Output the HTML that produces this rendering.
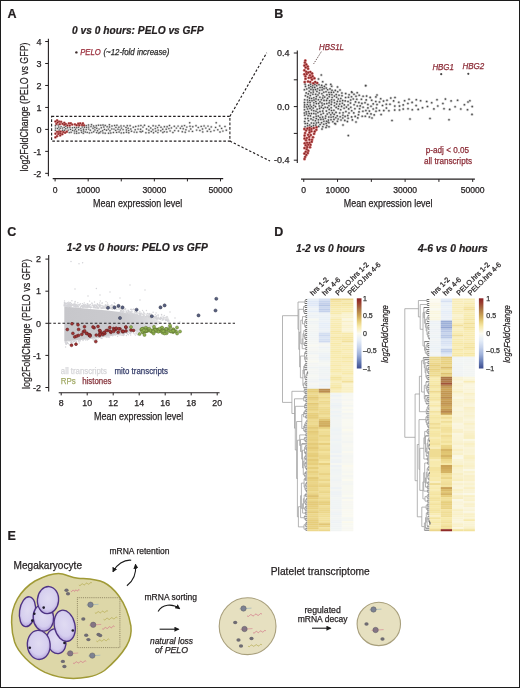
<!DOCTYPE html>
<html><head><meta charset="utf-8"><style>
html,body{margin:0;padding:0;background:#fff;}
svg{display:block;font-family:"Liberation Sans",sans-serif;will-change:transform;}
#frame{position:absolute;left:0;top:0;width:518px;height:686px;border:1px solid #1c1c1c;}
</style></head><body>
<svg width="520" height="688" viewBox="0 0 520 688">
<rect width="520" height="688" fill="#fff"/>
<text x="7.5" y="17.9" font-size="12.5" font-weight="bold" fill="#231f20" stroke="#231f20" stroke-width="0.22">A</text>
<text x="72.1" y="34" font-size="11" textLength="131.5" lengthAdjust="spacingAndGlyphs" font-weight="bold" font-style="italic" fill="#231f20" stroke="#231f20" stroke-width="0.22">0 vs 0 hours: PELO vs GFP</text>
<line x1="48.4" y1="38.7" x2="48.4" y2="176.2" stroke="#231f20" stroke-width="1.1"/>
<line x1="45.2" y1="41.52000000000001" x2="48.4" y2="41.52000000000001" stroke="#231f20" stroke-width="1"/>
<text x="41.4" y="44.72" font-size="9" text-anchor="end" fill="#231f20" stroke="#231f20" stroke-width="0.25">4</text>
<line x1="45.2" y1="63.49000000000001" x2="48.4" y2="63.49000000000001" stroke="#231f20" stroke-width="1"/>
<text x="41.4" y="66.69" font-size="9" text-anchor="end" fill="#231f20" stroke="#231f20" stroke-width="0.25">3</text>
<line x1="45.2" y1="85.46000000000001" x2="48.4" y2="85.46000000000001" stroke="#231f20" stroke-width="1"/>
<text x="41.4" y="88.66" font-size="9" text-anchor="end" fill="#231f20" stroke="#231f20" stroke-width="0.25">2</text>
<line x1="45.2" y1="107.43" x2="48.4" y2="107.43" stroke="#231f20" stroke-width="1"/>
<text x="41.4" y="110.63" font-size="9" text-anchor="end" fill="#231f20" stroke="#231f20" stroke-width="0.25">1</text>
<line x1="45.2" y1="129.4" x2="48.4" y2="129.4" stroke="#231f20" stroke-width="1"/>
<text x="41.4" y="132.6" font-size="9" text-anchor="end" fill="#231f20" stroke="#231f20" stroke-width="0.25">0</text>
<line x1="45.2" y1="151.37" x2="48.4" y2="151.37" stroke="#231f20" stroke-width="1"/>
<text x="41.4" y="154.57" font-size="9" text-anchor="end" fill="#231f20" stroke="#231f20" stroke-width="0.25">-1</text>
<line x1="45.2" y1="173.34" x2="48.4" y2="173.34" stroke="#231f20" stroke-width="1"/>
<text x="41.4" y="176.54" font-size="9" text-anchor="end" fill="#231f20" stroke="#231f20" stroke-width="0.25">-2</text>
<text transform="translate(28.2,107) rotate(-90)" font-size="11" text-anchor="middle" textLength="129" lengthAdjust="spacingAndGlyphs" fill="#231f20" stroke="#231f20" stroke-width="0.25">log2FoldChange (PELO vs GFP)</text>
<line x1="52.7" y1="178.6" x2="223.2" y2="178.6" stroke="#231f20" stroke-width="1.1"/>
<line x1="55.1" y1="178.6" x2="55.1" y2="181.4" stroke="#231f20" stroke-width="1"/>
<line x1="88.18" y1="178.6" x2="88.18" y2="181.4" stroke="#231f20" stroke-width="1"/>
<line x1="121.25999999999999" y1="178.6" x2="121.25999999999999" y2="181.4" stroke="#231f20" stroke-width="1"/>
<line x1="154.34" y1="178.6" x2="154.34" y2="181.4" stroke="#231f20" stroke-width="1"/>
<line x1="187.42" y1="178.6" x2="187.42" y2="181.4" stroke="#231f20" stroke-width="1"/>
<line x1="220.5" y1="178.6" x2="220.5" y2="181.4" stroke="#231f20" stroke-width="1"/>
<text x="55.1" y="192.9" font-size="8.6" text-anchor="middle" fill="#231f20" stroke="#231f20" stroke-width="0.25">0</text>
<text x="88.18" y="192.9" font-size="8.6" text-anchor="middle" fill="#231f20" stroke="#231f20" stroke-width="0.25">10000</text>
<text x="154.34" y="192.9" font-size="8.6" text-anchor="middle" fill="#231f20" stroke="#231f20" stroke-width="0.25">30000</text>
<text x="220.5" y="192.9" font-size="8.6" text-anchor="middle" fill="#231f20" stroke="#231f20" stroke-width="0.25">50000</text>
<text x="93" y="206.7" font-size="11" textLength="89.3" lengthAdjust="spacingAndGlyphs" fill="#231f20" stroke="#231f20" stroke-width="0.25">Mean expression level</text>
<circle cx="76.4" cy="52.4" r="1.2" fill="#3a2a2a"/>
<text x="80.2" y="55.0" font-size="8.4" textLength="20.5" lengthAdjust="spacingAndGlyphs" font-style="italic" fill="#9a2c3a" stroke="#9a2c3a" stroke-width="0.25">PELO</text>
<text x="103.4" y="55.0" font-size="8.4" textLength="66" lengthAdjust="spacingAndGlyphs" font-style="italic" fill="#2a2a2a" stroke="#2a2a2a" stroke-width="0.25">(~12-fold increase)</text>
<g fill="#d6d6d6">
<circle cx="222.9" cy="131.1" r="1.35"/>
<circle cx="94.9" cy="130.0" r="1.35"/>
<circle cx="78.9" cy="133.0" r="1.35"/>
<circle cx="199.9" cy="130.5" r="1.35"/>
<circle cx="201.2" cy="126.4" r="1.35"/>
<circle cx="57.5" cy="128.5" r="1.35"/>
<circle cx="155.7" cy="126.1" r="1.35"/>
<circle cx="96.7" cy="128.2" r="1.35"/>
<circle cx="164.4" cy="126.7" r="1.35"/>
<circle cx="100.8" cy="131.6" r="1.35"/>
<circle cx="166.9" cy="132.0" r="1.35"/>
<circle cx="157.9" cy="132.6" r="1.35"/>
<circle cx="118.0" cy="129.3" r="1.35"/>
<circle cx="160.8" cy="130.8" r="1.35"/>
<circle cx="138.0" cy="129.1" r="1.35"/>
<circle cx="62.6" cy="130.3" r="1.35"/>
<circle cx="71.1" cy="132.3" r="1.35"/>
<circle cx="105.2" cy="125.4" r="1.35"/>
<circle cx="99.1" cy="129.1" r="1.35"/>
<circle cx="126.4" cy="130.0" r="1.35"/>
<circle cx="207.3" cy="131.2" r="1.35"/>
<circle cx="86.3" cy="125.7" r="1.35"/>
<circle cx="98.5" cy="125.2" r="1.35"/>
<circle cx="74.6" cy="127.4" r="1.35"/>
<circle cx="152.9" cy="129.7" r="1.35"/>
<circle cx="70.5" cy="129.4" r="1.35"/>
<circle cx="189.0" cy="131.1" r="1.35"/>
<circle cx="148.7" cy="126.4" r="1.35"/>
<circle cx="91.0" cy="126.6" r="1.35"/>
<circle cx="82.2" cy="127.0" r="1.35"/>
<circle cx="130.8" cy="129.0" r="1.35"/>
<circle cx="202.7" cy="131.9" r="1.35"/>
<circle cx="103.8" cy="127.0" r="1.35"/>
<circle cx="109.5" cy="127.0" r="1.35"/>
<circle cx="196.6" cy="130.1" r="1.35"/>
<circle cx="83.5" cy="129.2" r="1.35"/>
<circle cx="148.9" cy="130.2" r="1.35"/>
<circle cx="171.4" cy="127.9" r="1.35"/>
<circle cx="83.3" cy="133.2" r="1.35"/>
<circle cx="185.9" cy="129.8" r="1.35"/>
<circle cx="102.6" cy="130.7" r="1.35"/>
<circle cx="217.8" cy="129.8" r="1.35"/>
<circle cx="67.6" cy="127.8" r="1.35"/>
<circle cx="123.1" cy="129.6" r="1.35"/>
<circle cx="143.0" cy="127.1" r="1.35"/>
<circle cx="192.8" cy="126.7" r="1.35"/>
<circle cx="116.6" cy="132.4" r="1.35"/>
<circle cx="110.0" cy="130.8" r="1.35"/>
<circle cx="72.5" cy="127.8" r="1.35"/>
<circle cx="219.7" cy="125.9" r="1.35"/>
<circle cx="76.7" cy="127.8" r="1.35"/>
<circle cx="106.5" cy="130.2" r="1.35"/>
<circle cx="91.8" cy="132.6" r="1.35"/>
<circle cx="121.0" cy="125.9" r="1.35"/>
<circle cx="135.7" cy="126.5" r="1.35"/>
<circle cx="127.3" cy="125.7" r="1.35"/>
<circle cx="180.4" cy="128.3" r="1.35"/>
<circle cx="170.1" cy="130.9" r="1.35"/>
<circle cx="190.0" cy="126.3" r="1.35"/>
<circle cx="153.1" cy="125.7" r="1.35"/>
<circle cx="74.5" cy="130.9" r="1.35"/>
<circle cx="181.9" cy="126.2" r="1.35"/>
<circle cx="138.5" cy="125.9" r="1.35"/>
<circle cx="136.8" cy="132.3" r="1.35"/>
<circle cx="151.3" cy="131.5" r="1.35"/>
<circle cx="192.5" cy="131.4" r="1.35"/>
<circle cx="55.5" cy="125.7" r="1.35"/>
<circle cx="130.1" cy="125.7" r="1.35"/>
<circle cx="87.2" cy="132.4" r="1.35"/>
<circle cx="210.8" cy="131.6" r="1.35"/>
<circle cx="178.4" cy="131.0" r="1.35"/>
<circle cx="96.6" cy="132.6" r="1.35"/>
<circle cx="142.6" cy="131.2" r="1.35"/>
<circle cx="78.6" cy="127.3" r="1.35"/>
<circle cx="59.2" cy="129.9" r="1.35"/>
<circle cx="205.8" cy="128.1" r="1.35"/>
<circle cx="93.0" cy="128.3" r="1.35"/>
<circle cx="86.2" cy="129.6" r="1.35"/>
<circle cx="214.1" cy="130.6" r="1.35"/>
<circle cx="178.1" cy="126.1" r="1.35"/>
<circle cx="161.0" cy="127.2" r="1.35"/>
<circle cx="128.8" cy="132.8" r="1.35"/>
<circle cx="182.3" cy="131.7" r="1.35"/>
<circle cx="174.3" cy="126.3" r="1.35"/>
<circle cx="174.7" cy="130.6" r="1.35"/>
<circle cx="215.6" cy="127.4" r="1.35"/>
<circle cx="113.4" cy="132.5" r="1.35"/>
<circle cx="111.8" cy="128.9" r="1.35"/>
<circle cx="88.5" cy="125.0" r="1.35"/>
<circle cx="155.8" cy="131.2" r="1.35"/>
<circle cx="60.2" cy="128.3" r="1.35"/>
<circle cx="64.2" cy="127.4" r="1.35"/>
<circle cx="185.2" cy="132.3" r="1.35"/>
<circle cx="88.7" cy="129.1" r="1.35"/>
<circle cx="135.2" cy="129.8" r="1.35"/>
<circle cx="61.1" cy="126.6" r="1.35"/>
<circle cx="101.3" cy="127.8" r="1.35"/>
<circle cx="58.7" cy="127.0" r="1.35"/>
<circle cx="55.4" cy="130.3" r="1.35"/>
<circle cx="225.0" cy="126.5" r="1.35"/>
<circle cx="68.2" cy="130.1" r="1.35"/>
<circle cx="146.5" cy="129.0" r="1.35"/>
<circle cx="116.9" cy="125.3" r="1.35"/>
<circle cx="104.5" cy="129.4" r="1.35"/>
<circle cx="128.1" cy="128.3" r="1.35"/>
<circle cx="112.0" cy="126.0" r="1.35"/>
<circle cx="172.9" cy="132.5" r="1.35"/>
<circle cx="176.4" cy="128.1" r="1.35"/>
<circle cx="76.5" cy="131.2" r="1.35"/>
<circle cx="81.1" cy="130.4" r="1.35"/>
<circle cx="226.3" cy="130.2" r="1.35"/>
<circle cx="81.6" cy="132.3" r="1.35"/>
<circle cx="89.4" cy="132.9" r="1.35"/>
<circle cx="150.7" cy="128.0" r="1.35"/>
<circle cx="105.2" cy="133.2" r="1.35"/>
<circle cx="186.8" cy="127.1" r="1.35"/>
<circle cx="145.9" cy="132.8" r="1.35"/>
<circle cx="123.9" cy="126.0" r="1.35"/>
<circle cx="157.6" cy="127.6" r="1.35"/>
<circle cx="84.5" cy="127.3" r="1.35"/>
<circle cx="144.5" cy="125.3" r="1.35"/>
<circle cx="126.5" cy="132.2" r="1.35"/>
<circle cx="169.5" cy="125.5" r="1.35"/>
<circle cx="55.6" cy="128.1" r="1.35"/>
<circle cx="134.2" cy="132.1" r="1.35"/>
<circle cx="121.3" cy="132.9" r="1.35"/>
<circle cx="114.0" cy="129.1" r="1.35"/>
<circle cx="140.1" cy="131.6" r="1.35"/>
<circle cx="211.3" cy="126.9" r="1.35"/>
<circle cx="93.7" cy="131.7" r="1.35"/>
<circle cx="94.9" cy="127.5" r="1.35"/>
<circle cx="202.5" cy="129.0" r="1.35"/>
<circle cx="90.3" cy="130.2" r="1.35"/>
<circle cx="78.7" cy="129.8" r="1.35"/>
<circle cx="140.6" cy="129.2" r="1.35"/>
<circle cx="69.3" cy="132.6" r="1.35"/>
<circle cx="107.1" cy="126.7" r="1.35"/>
<circle cx="115.9" cy="127.4" r="1.35"/>
<circle cx="123.7" cy="132.8" r="1.35"/>
<circle cx="96.3" cy="125.7" r="1.35"/>
<circle cx="133.3" cy="127.2" r="1.35"/>
<circle cx="100.8" cy="125.3" r="1.35"/>
<circle cx="183.2" cy="128.7" r="1.35"/>
<circle cx="167.1" cy="126.7" r="1.35"/>
<circle cx="88.6" cy="127.1" r="1.35"/>
<circle cx="103.0" cy="132.9" r="1.35"/>
<circle cx="198.3" cy="127.5" r="1.35"/>
<circle cx="65.8" cy="128.7" r="1.35"/>
<circle cx="108.6" cy="133.2" r="1.35"/>
<circle cx="120.2" cy="130.0" r="1.35"/>
<circle cx="72.6" cy="130.4" r="1.35"/>
<circle cx="209.4" cy="129.2" r="1.35"/>
<circle cx="166.2" cy="129.2" r="1.35"/>
<circle cx="62.4" cy="128.1" r="1.35"/>
<circle cx="162.9" cy="132.5" r="1.35"/>
<circle cx="74.5" cy="133.1" r="1.35"/>
<circle cx="131.5" cy="131.2" r="1.35"/>
<circle cx="76.6" cy="133.2" r="1.35"/>
<circle cx="221.6" cy="128.4" r="1.35"/>
<circle cx="208.0" cy="126.1" r="1.35"/>
<circle cx="97.5" cy="130.7" r="1.35"/>
<circle cx="93.6" cy="126.0" r="1.35"/>
<circle cx="162.7" cy="129.2" r="1.35"/>
<circle cx="119.1" cy="132.0" r="1.35"/>
<circle cx="98.5" cy="133.1" r="1.35"/>
<circle cx="109.4" cy="124.8" r="1.35"/>
<circle cx="118.9" cy="127.2" r="1.35"/>
<circle cx="140.9" cy="125.5" r="1.35"/>
<circle cx="114.6" cy="125.5" r="1.35"/>
<circle cx="80.8" cy="128.6" r="1.35"/>
<circle cx="85.3" cy="132.0" r="1.35"/>
<circle cx="64.5" cy="130.2" r="1.35"/>
<circle cx="69.9" cy="127.6" r="1.35"/>
<circle cx="148.9" cy="132.7" r="1.35"/>
<circle cx="196.0" cy="125.7" r="1.35"/>
<circle cx="65.7" cy="126.2" r="1.35"/>
<circle cx="190.7" cy="129.0" r="1.35"/>
<circle cx="184.5" cy="125.6" r="1.35"/>
<circle cx="110.8" cy="133.0" r="1.35"/>
<circle cx="58.2" cy="125.1" r="1.35"/>
<circle cx="86.6" cy="127.6" r="1.35"/>
<circle cx="91.5" cy="124.7" r="1.35"/>
<circle cx="121.5" cy="128.1" r="1.35"/>
<circle cx="108.4" cy="129.1" r="1.35"/>
<circle cx="126.0" cy="127.5" r="1.35"/>
<circle cx="128.7" cy="130.6" r="1.35"/>
<circle cx="75.4" cy="129.3" r="1.35"/>
<circle cx="83.6" cy="131.0" r="1.35"/>
<circle cx="153.5" cy="132.7" r="1.35"/>
<circle cx="159.0" cy="125.4" r="1.35"/>
<circle cx="158.2" cy="130.1" r="1.35"/>
<circle cx="220.0" cy="132.0" r="1.35"/>
<circle cx="103.0" cy="125.0" r="1.35"/>
<circle cx="115.7" cy="130.4" r="1.35"/>
<circle cx="155.3" cy="128.6" r="1.35"/>
<circle cx="168.9" cy="128.6" r="1.35"/>
<circle cx="204.1" cy="125.9" r="1.35"/>
<circle cx="189.7" cy="122.8" r="1.35"/>
<circle cx="216.2" cy="122.8" r="1.35"/>
<circle cx="99.8" cy="132.7" r="1.35"/>
<circle cx="141.1" cy="132.0" r="1.35"/>
<circle cx="164.3" cy="131.6" r="1.35"/>
</g>
<g fill="#c86464">
<circle cx="62.5" cy="123.8" r="1.35"/>
<circle cx="57.0" cy="136.2" r="1.35"/>
<circle cx="60.2" cy="133.6" r="1.35"/>
<circle cx="55.4" cy="121.5" r="1.35"/>
<circle cx="57.1" cy="120.4" r="1.35"/>
<circle cx="79.3" cy="125.3" r="1.35"/>
<circle cx="55.5" cy="133.7" r="1.35"/>
<circle cx="56.4" cy="123.9" r="1.35"/>
<circle cx="65.8" cy="124.0" r="1.35"/>
<circle cx="58.3" cy="134.0" r="1.35"/>
<circle cx="82.1" cy="125.0" r="1.35"/>
<circle cx="59.8" cy="124.2" r="1.35"/>
<circle cx="66.8" cy="131.7" r="1.35"/>
<circle cx="74.9" cy="124.4" r="1.35"/>
<circle cx="63.3" cy="132.0" r="1.35"/>
<circle cx="72.2" cy="124.6" r="1.35"/>
<circle cx="62.3" cy="134.2" r="1.35"/>
<circle cx="76.6" cy="125.3" r="1.35"/>
<circle cx="68.9" cy="123.4" r="1.35"/>
<circle cx="59.1" cy="121.6" r="1.35"/>
<circle cx="60.7" cy="131.7" r="1.35"/>
<circle cx="65.1" cy="132.7" r="1.35"/>
<circle cx="64.2" cy="124.8" r="1.35"/>
<circle cx="57.1" cy="131.8" r="1.35"/>
<circle cx="61.1" cy="121.8" r="1.35"/>
<circle cx="78.2" cy="123.7" r="1.35"/>
<circle cx="69.7" cy="125.6" r="1.35"/>
<circle cx="67.4" cy="125.5" r="1.35"/>
<circle cx="60.2" cy="135.5" r="1.35"/>
<circle cx="80.2" cy="123.4" r="1.35"/>
<circle cx="55.4" cy="137.4" r="1.35"/>
<circle cx="64.3" cy="122.8" r="1.35"/>
<circle cx="82.9" cy="123.4" r="1.35"/>
<circle cx="58.9" cy="131.9" r="1.35"/>
<circle cx="57.6" cy="122.5" r="1.35"/>
<circle cx="84.0" cy="125.3" r="1.35"/>
<circle cx="70.8" cy="123.3" r="1.35"/>
</g>
<g fill="#4e4e4e">
<circle cx="222.9" cy="131.1" r="0.72"/>
<circle cx="94.9" cy="130.0" r="0.72"/>
<circle cx="78.9" cy="133.0" r="0.72"/>
<circle cx="199.9" cy="130.5" r="0.72"/>
<circle cx="201.2" cy="126.4" r="0.72"/>
<circle cx="57.5" cy="128.5" r="0.72"/>
<circle cx="155.7" cy="126.1" r="0.72"/>
<circle cx="96.7" cy="128.2" r="0.72"/>
<circle cx="164.4" cy="126.7" r="0.72"/>
<circle cx="100.8" cy="131.6" r="0.72"/>
<circle cx="166.9" cy="132.0" r="0.72"/>
<circle cx="157.9" cy="132.6" r="0.72"/>
<circle cx="118.0" cy="129.3" r="0.72"/>
<circle cx="160.8" cy="130.8" r="0.72"/>
<circle cx="138.0" cy="129.1" r="0.72"/>
<circle cx="62.6" cy="130.3" r="0.72"/>
<circle cx="71.1" cy="132.3" r="0.72"/>
<circle cx="105.2" cy="125.4" r="0.72"/>
<circle cx="99.1" cy="129.1" r="0.72"/>
<circle cx="126.4" cy="130.0" r="0.72"/>
<circle cx="207.3" cy="131.2" r="0.72"/>
<circle cx="86.3" cy="125.7" r="0.72"/>
<circle cx="98.5" cy="125.2" r="0.72"/>
<circle cx="74.6" cy="127.4" r="0.72"/>
<circle cx="152.9" cy="129.7" r="0.72"/>
<circle cx="70.5" cy="129.4" r="0.72"/>
<circle cx="189.0" cy="131.1" r="0.72"/>
<circle cx="148.7" cy="126.4" r="0.72"/>
<circle cx="91.0" cy="126.6" r="0.72"/>
<circle cx="82.2" cy="127.0" r="0.72"/>
<circle cx="130.8" cy="129.0" r="0.72"/>
<circle cx="202.7" cy="131.9" r="0.72"/>
<circle cx="103.8" cy="127.0" r="0.72"/>
<circle cx="109.5" cy="127.0" r="0.72"/>
<circle cx="196.6" cy="130.1" r="0.72"/>
<circle cx="83.5" cy="129.2" r="0.72"/>
<circle cx="148.9" cy="130.2" r="0.72"/>
<circle cx="171.4" cy="127.9" r="0.72"/>
<circle cx="83.3" cy="133.2" r="0.72"/>
<circle cx="185.9" cy="129.8" r="0.72"/>
<circle cx="102.6" cy="130.7" r="0.72"/>
<circle cx="217.8" cy="129.8" r="0.72"/>
<circle cx="67.6" cy="127.8" r="0.72"/>
<circle cx="123.1" cy="129.6" r="0.72"/>
<circle cx="143.0" cy="127.1" r="0.72"/>
<circle cx="192.8" cy="126.7" r="0.72"/>
<circle cx="116.6" cy="132.4" r="0.72"/>
<circle cx="110.0" cy="130.8" r="0.72"/>
<circle cx="72.5" cy="127.8" r="0.72"/>
<circle cx="219.7" cy="125.9" r="0.72"/>
<circle cx="76.7" cy="127.8" r="0.72"/>
<circle cx="106.5" cy="130.2" r="0.72"/>
<circle cx="91.8" cy="132.6" r="0.72"/>
<circle cx="121.0" cy="125.9" r="0.72"/>
<circle cx="135.7" cy="126.5" r="0.72"/>
<circle cx="127.3" cy="125.7" r="0.72"/>
<circle cx="180.4" cy="128.3" r="0.72"/>
<circle cx="170.1" cy="130.9" r="0.72"/>
<circle cx="190.0" cy="126.3" r="0.72"/>
<circle cx="153.1" cy="125.7" r="0.72"/>
<circle cx="74.5" cy="130.9" r="0.72"/>
<circle cx="181.9" cy="126.2" r="0.72"/>
<circle cx="138.5" cy="125.9" r="0.72"/>
<circle cx="136.8" cy="132.3" r="0.72"/>
<circle cx="151.3" cy="131.5" r="0.72"/>
<circle cx="192.5" cy="131.4" r="0.72"/>
<circle cx="55.5" cy="125.7" r="0.72"/>
<circle cx="130.1" cy="125.7" r="0.72"/>
<circle cx="87.2" cy="132.4" r="0.72"/>
<circle cx="210.8" cy="131.6" r="0.72"/>
<circle cx="178.4" cy="131.0" r="0.72"/>
<circle cx="96.6" cy="132.6" r="0.72"/>
<circle cx="142.6" cy="131.2" r="0.72"/>
<circle cx="78.6" cy="127.3" r="0.72"/>
<circle cx="59.2" cy="129.9" r="0.72"/>
<circle cx="205.8" cy="128.1" r="0.72"/>
<circle cx="93.0" cy="128.3" r="0.72"/>
<circle cx="86.2" cy="129.6" r="0.72"/>
<circle cx="214.1" cy="130.6" r="0.72"/>
<circle cx="178.1" cy="126.1" r="0.72"/>
<circle cx="161.0" cy="127.2" r="0.72"/>
<circle cx="128.8" cy="132.8" r="0.72"/>
<circle cx="182.3" cy="131.7" r="0.72"/>
<circle cx="174.3" cy="126.3" r="0.72"/>
<circle cx="174.7" cy="130.6" r="0.72"/>
<circle cx="215.6" cy="127.4" r="0.72"/>
<circle cx="113.4" cy="132.5" r="0.72"/>
<circle cx="111.8" cy="128.9" r="0.72"/>
<circle cx="88.5" cy="125.0" r="0.72"/>
<circle cx="155.8" cy="131.2" r="0.72"/>
<circle cx="60.2" cy="128.3" r="0.72"/>
<circle cx="64.2" cy="127.4" r="0.72"/>
<circle cx="185.2" cy="132.3" r="0.72"/>
<circle cx="88.7" cy="129.1" r="0.72"/>
<circle cx="135.2" cy="129.8" r="0.72"/>
<circle cx="61.1" cy="126.6" r="0.72"/>
<circle cx="101.3" cy="127.8" r="0.72"/>
<circle cx="58.7" cy="127.0" r="0.72"/>
<circle cx="55.4" cy="130.3" r="0.72"/>
<circle cx="225.0" cy="126.5" r="0.72"/>
<circle cx="68.2" cy="130.1" r="0.72"/>
<circle cx="146.5" cy="129.0" r="0.72"/>
<circle cx="116.9" cy="125.3" r="0.72"/>
<circle cx="104.5" cy="129.4" r="0.72"/>
<circle cx="128.1" cy="128.3" r="0.72"/>
<circle cx="112.0" cy="126.0" r="0.72"/>
<circle cx="172.9" cy="132.5" r="0.72"/>
<circle cx="176.4" cy="128.1" r="0.72"/>
<circle cx="76.5" cy="131.2" r="0.72"/>
<circle cx="81.1" cy="130.4" r="0.72"/>
<circle cx="226.3" cy="130.2" r="0.72"/>
<circle cx="81.6" cy="132.3" r="0.72"/>
<circle cx="89.4" cy="132.9" r="0.72"/>
<circle cx="150.7" cy="128.0" r="0.72"/>
<circle cx="105.2" cy="133.2" r="0.72"/>
<circle cx="186.8" cy="127.1" r="0.72"/>
<circle cx="145.9" cy="132.8" r="0.72"/>
<circle cx="123.9" cy="126.0" r="0.72"/>
<circle cx="157.6" cy="127.6" r="0.72"/>
<circle cx="84.5" cy="127.3" r="0.72"/>
<circle cx="144.5" cy="125.3" r="0.72"/>
<circle cx="126.5" cy="132.2" r="0.72"/>
<circle cx="169.5" cy="125.5" r="0.72"/>
<circle cx="55.6" cy="128.1" r="0.72"/>
<circle cx="134.2" cy="132.1" r="0.72"/>
<circle cx="121.3" cy="132.9" r="0.72"/>
<circle cx="114.0" cy="129.1" r="0.72"/>
<circle cx="140.1" cy="131.6" r="0.72"/>
<circle cx="211.3" cy="126.9" r="0.72"/>
<circle cx="93.7" cy="131.7" r="0.72"/>
<circle cx="94.9" cy="127.5" r="0.72"/>
<circle cx="202.5" cy="129.0" r="0.72"/>
<circle cx="90.3" cy="130.2" r="0.72"/>
<circle cx="78.7" cy="129.8" r="0.72"/>
<circle cx="140.6" cy="129.2" r="0.72"/>
<circle cx="69.3" cy="132.6" r="0.72"/>
<circle cx="107.1" cy="126.7" r="0.72"/>
<circle cx="115.9" cy="127.4" r="0.72"/>
<circle cx="123.7" cy="132.8" r="0.72"/>
<circle cx="96.3" cy="125.7" r="0.72"/>
<circle cx="133.3" cy="127.2" r="0.72"/>
<circle cx="100.8" cy="125.3" r="0.72"/>
<circle cx="183.2" cy="128.7" r="0.72"/>
<circle cx="167.1" cy="126.7" r="0.72"/>
<circle cx="88.6" cy="127.1" r="0.72"/>
<circle cx="103.0" cy="132.9" r="0.72"/>
<circle cx="198.3" cy="127.5" r="0.72"/>
<circle cx="65.8" cy="128.7" r="0.72"/>
<circle cx="108.6" cy="133.2" r="0.72"/>
<circle cx="120.2" cy="130.0" r="0.72"/>
<circle cx="72.6" cy="130.4" r="0.72"/>
<circle cx="209.4" cy="129.2" r="0.72"/>
<circle cx="166.2" cy="129.2" r="0.72"/>
<circle cx="62.4" cy="128.1" r="0.72"/>
<circle cx="162.9" cy="132.5" r="0.72"/>
<circle cx="74.5" cy="133.1" r="0.72"/>
<circle cx="131.5" cy="131.2" r="0.72"/>
<circle cx="76.6" cy="133.2" r="0.72"/>
<circle cx="221.6" cy="128.4" r="0.72"/>
<circle cx="208.0" cy="126.1" r="0.72"/>
<circle cx="97.5" cy="130.7" r="0.72"/>
<circle cx="93.6" cy="126.0" r="0.72"/>
<circle cx="162.7" cy="129.2" r="0.72"/>
<circle cx="119.1" cy="132.0" r="0.72"/>
<circle cx="98.5" cy="133.1" r="0.72"/>
<circle cx="109.4" cy="124.8" r="0.72"/>
<circle cx="118.9" cy="127.2" r="0.72"/>
<circle cx="140.9" cy="125.5" r="0.72"/>
<circle cx="114.6" cy="125.5" r="0.72"/>
<circle cx="80.8" cy="128.6" r="0.72"/>
<circle cx="85.3" cy="132.0" r="0.72"/>
<circle cx="64.5" cy="130.2" r="0.72"/>
<circle cx="69.9" cy="127.6" r="0.72"/>
<circle cx="148.9" cy="132.7" r="0.72"/>
<circle cx="196.0" cy="125.7" r="0.72"/>
<circle cx="65.7" cy="126.2" r="0.72"/>
<circle cx="190.7" cy="129.0" r="0.72"/>
<circle cx="184.5" cy="125.6" r="0.72"/>
<circle cx="110.8" cy="133.0" r="0.72"/>
<circle cx="58.2" cy="125.1" r="0.72"/>
<circle cx="86.6" cy="127.6" r="0.72"/>
<circle cx="91.5" cy="124.7" r="0.72"/>
<circle cx="121.5" cy="128.1" r="0.72"/>
<circle cx="108.4" cy="129.1" r="0.72"/>
<circle cx="126.0" cy="127.5" r="0.72"/>
<circle cx="128.7" cy="130.6" r="0.72"/>
<circle cx="75.4" cy="129.3" r="0.72"/>
<circle cx="83.6" cy="131.0" r="0.72"/>
<circle cx="153.5" cy="132.7" r="0.72"/>
<circle cx="159.0" cy="125.4" r="0.72"/>
<circle cx="158.2" cy="130.1" r="0.72"/>
<circle cx="220.0" cy="132.0" r="0.72"/>
<circle cx="103.0" cy="125.0" r="0.72"/>
<circle cx="115.7" cy="130.4" r="0.72"/>
<circle cx="155.3" cy="128.6" r="0.72"/>
<circle cx="168.9" cy="128.6" r="0.72"/>
<circle cx="204.1" cy="125.9" r="0.72"/>
<circle cx="189.7" cy="122.8" r="0.72"/>
<circle cx="216.2" cy="122.8" r="0.72"/>
<circle cx="99.8" cy="132.7" r="0.72"/>
<circle cx="141.1" cy="132.0" r="0.72"/>
<circle cx="164.3" cy="131.6" r="0.72"/>
</g>
<g fill="#7e2424">
<circle cx="62.5" cy="123.8" r="0.72"/>
<circle cx="57.0" cy="136.2" r="0.72"/>
<circle cx="60.2" cy="133.6" r="0.72"/>
<circle cx="55.4" cy="121.5" r="0.72"/>
<circle cx="57.1" cy="120.4" r="0.72"/>
<circle cx="79.3" cy="125.3" r="0.72"/>
<circle cx="55.5" cy="133.7" r="0.72"/>
<circle cx="56.4" cy="123.9" r="0.72"/>
<circle cx="65.8" cy="124.0" r="0.72"/>
<circle cx="58.3" cy="134.0" r="0.72"/>
<circle cx="82.1" cy="125.0" r="0.72"/>
<circle cx="59.8" cy="124.2" r="0.72"/>
<circle cx="66.8" cy="131.7" r="0.72"/>
<circle cx="74.9" cy="124.4" r="0.72"/>
<circle cx="63.3" cy="132.0" r="0.72"/>
<circle cx="72.2" cy="124.6" r="0.72"/>
<circle cx="62.3" cy="134.2" r="0.72"/>
<circle cx="76.6" cy="125.3" r="0.72"/>
<circle cx="68.9" cy="123.4" r="0.72"/>
<circle cx="59.1" cy="121.6" r="0.72"/>
<circle cx="60.7" cy="131.7" r="0.72"/>
<circle cx="65.1" cy="132.7" r="0.72"/>
<circle cx="64.2" cy="124.8" r="0.72"/>
<circle cx="57.1" cy="131.8" r="0.72"/>
<circle cx="61.1" cy="121.8" r="0.72"/>
<circle cx="78.2" cy="123.7" r="0.72"/>
<circle cx="69.7" cy="125.6" r="0.72"/>
<circle cx="67.4" cy="125.5" r="0.72"/>
<circle cx="60.2" cy="135.5" r="0.72"/>
<circle cx="80.2" cy="123.4" r="0.72"/>
<circle cx="55.4" cy="137.4" r="0.72"/>
<circle cx="64.3" cy="122.8" r="0.72"/>
<circle cx="82.9" cy="123.4" r="0.72"/>
<circle cx="58.9" cy="131.9" r="0.72"/>
<circle cx="57.6" cy="122.5" r="0.72"/>
<circle cx="84.0" cy="125.3" r="0.72"/>
<circle cx="70.8" cy="123.3" r="0.72"/>
</g>
<rect x="51.6" y="116.4" width="178.3" height="24.7" fill="none" stroke="#231f20" stroke-width="1.1" stroke-dasharray="2.6,1.9"/>
<line x1="229.9" y1="116.4" x2="266.7" y2="52.8" stroke="#231f20" stroke-width="1.15" stroke-dasharray="2.4,1.9"/>
<line x1="229.9" y1="141.1" x2="270.0" y2="161.0" stroke="#231f20" stroke-width="1.15" stroke-dasharray="2.4,1.9"/>
<text x="274.2" y="17.9" font-size="12.5" font-weight="bold" fill="#231f20" stroke="#231f20" stroke-width="0.22">B</text>
<line x1="297.3" y1="50.4" x2="297.3" y2="162.9" stroke="#231f20" stroke-width="1.1"/>
<line x1="293.8" y1="52.99999999999999" x2="297.3" y2="52.99999999999999" stroke="#231f20" stroke-width="1"/>
<line x1="293.8" y1="79.8" x2="297.3" y2="79.8" stroke="#231f20" stroke-width="1"/>
<line x1="293.8" y1="106.6" x2="297.3" y2="106.6" stroke="#231f20" stroke-width="1"/>
<line x1="293.8" y1="133.4" x2="297.3" y2="133.4" stroke="#231f20" stroke-width="1"/>
<line x1="293.8" y1="160.2" x2="297.3" y2="160.2" stroke="#231f20" stroke-width="1"/>
<text x="289.6" y="56.2" font-size="9" text-anchor="end" fill="#231f20" stroke="#231f20" stroke-width="0.25">0.4</text>
<text x="289.6" y="109.8" font-size="9" text-anchor="end" fill="#231f20" stroke="#231f20" stroke-width="0.25">0.0</text>
<text x="289.6" y="163.4" font-size="9" text-anchor="end" fill="#231f20" stroke="#231f20" stroke-width="0.25">-0.4</text>
<line x1="301.0" y1="179.1" x2="474.9" y2="179.1" stroke="#231f20" stroke-width="1.1"/>
<line x1="303.75" y1="179.1" x2="303.75" y2="181.9" stroke="#231f20" stroke-width="1"/>
<line x1="337.54" y1="179.1" x2="337.54" y2="181.9" stroke="#231f20" stroke-width="1"/>
<line x1="371.33" y1="179.1" x2="371.33" y2="181.9" stroke="#231f20" stroke-width="1"/>
<line x1="405.12" y1="179.1" x2="405.12" y2="181.9" stroke="#231f20" stroke-width="1"/>
<line x1="438.90999999999997" y1="179.1" x2="438.90999999999997" y2="181.9" stroke="#231f20" stroke-width="1"/>
<line x1="472.70000000000005" y1="179.1" x2="472.70000000000005" y2="181.9" stroke="#231f20" stroke-width="1"/>
<text x="303.75" y="193.2" font-size="8.6" text-anchor="middle" fill="#231f20" stroke="#231f20" stroke-width="0.25">0</text>
<text x="337.54" y="193.2" font-size="8.6" text-anchor="middle" fill="#231f20" stroke="#231f20" stroke-width="0.25">10000</text>
<text x="405.12" y="193.2" font-size="8.6" text-anchor="middle" fill="#231f20" stroke="#231f20" stroke-width="0.25">30000</text>
<text x="472.7" y="193.2" font-size="8.6" text-anchor="middle" fill="#231f20" stroke="#231f20" stroke-width="0.25">50000</text>
<text x="343.8" y="207.0" font-size="11" textLength="88.7" lengthAdjust="spacingAndGlyphs" fill="#231f20" stroke="#231f20" stroke-width="0.25">Mean expression level</text>
<text x="319" y="50.0" font-size="8.6" textLength="25" lengthAdjust="spacingAndGlyphs" font-style="italic" fill="#8b2a35" stroke="#8b2a35" stroke-width="0.25">HBS1L</text>
<line x1="321.3" y1="51.7" x2="313.3" y2="64.4" stroke="#4a3030" stroke-width="0.9" stroke-dasharray="1.1,1.1"/>
<text x="432.4" y="70.2" font-size="8.6" textLength="21.5" lengthAdjust="spacingAndGlyphs" font-style="italic" fill="#8b2a35" stroke="#8b2a35" stroke-width="0.25">HBG1</text>
<text x="462.4" y="68.6" font-size="8.6" textLength="21.8" lengthAdjust="spacingAndGlyphs" font-style="italic" fill="#8b2a35" stroke="#8b2a35" stroke-width="0.25">HBG2</text>
<text x="447.4" y="153.2" font-size="9" text-anchor="middle" textLength="43.2" lengthAdjust="spacingAndGlyphs" fill="#8b2a35" stroke="#8b2a35" stroke-width="0.25">p-adj &lt; 0.05</text>
<text x="448" y="164.3" font-size="9" text-anchor="middle" textLength="48" lengthAdjust="spacingAndGlyphs" fill="#8b2a35" stroke="#8b2a35" stroke-width="0.25">all transcripts</text>
<g fill="#cfcfcf">
<circle cx="373.2" cy="109.0" r="1.5"/>
<circle cx="426.7" cy="101.5" r="1.5"/>
<circle cx="315.9" cy="114.0" r="1.5"/>
<circle cx="382.5" cy="105.5" r="1.5"/>
<circle cx="464.4" cy="104.7" r="1.5"/>
<circle cx="329.2" cy="96.8" r="1.5"/>
<circle cx="407.9" cy="103.5" r="1.5"/>
<circle cx="310.3" cy="95.6" r="1.5"/>
<circle cx="321.9" cy="93.8" r="1.5"/>
<circle cx="304.5" cy="107.0" r="1.5"/>
<circle cx="329.6" cy="100.8" r="1.5"/>
<circle cx="305.1" cy="126.7" r="1.5"/>
<circle cx="306.2" cy="92.9" r="1.5"/>
<circle cx="317.6" cy="88.7" r="1.5"/>
<circle cx="390.0" cy="104.3" r="1.5"/>
<circle cx="355.5" cy="101.9" r="1.5"/>
<circle cx="367.3" cy="113.6" r="1.5"/>
<circle cx="340.2" cy="116.8" r="1.5"/>
<circle cx="367.9" cy="104.5" r="1.5"/>
<circle cx="313.7" cy="105.3" r="1.5"/>
<circle cx="379.4" cy="110.5" r="1.5"/>
<circle cx="361.4" cy="99.3" r="1.5"/>
<circle cx="304.7" cy="99.8" r="1.5"/>
<circle cx="309.0" cy="87.9" r="1.5"/>
<circle cx="383.5" cy="101.1" r="1.5"/>
<circle cx="383.8" cy="110.6" r="1.5"/>
<circle cx="362.2" cy="116.2" r="1.5"/>
<circle cx="404.6" cy="100.7" r="1.5"/>
<circle cx="416.1" cy="105.6" r="1.5"/>
<circle cx="472.2" cy="106.6" r="1.5"/>
<circle cx="304.7" cy="121.5" r="1.5"/>
<circle cx="420.6" cy="100.8" r="1.5"/>
<circle cx="309.5" cy="98.1" r="1.5"/>
<circle cx="422.5" cy="107.8" r="1.5"/>
<circle cx="437.8" cy="106.0" r="1.5"/>
<circle cx="334.4" cy="105.8" r="1.5"/>
<circle cx="351.5" cy="96.7" r="1.5"/>
<circle cx="345.7" cy="93.6" r="1.5"/>
<circle cx="387.0" cy="100.2" r="1.5"/>
<circle cx="334.1" cy="100.1" r="1.5"/>
<circle cx="323.1" cy="95.7" r="1.5"/>
<circle cx="340.8" cy="98.5" r="1.5"/>
<circle cx="305.5" cy="86.4" r="1.5"/>
<circle cx="335.3" cy="90.4" r="1.5"/>
<circle cx="442.9" cy="103.5" r="1.5"/>
<circle cx="321.0" cy="114.5" r="1.5"/>
<circle cx="350.5" cy="103.1" r="1.5"/>
<circle cx="308.5" cy="120.7" r="1.5"/>
<circle cx="313.2" cy="89.9" r="1.5"/>
<circle cx="356.0" cy="96.3" r="1.5"/>
<circle cx="340.7" cy="109.7" r="1.5"/>
<circle cx="326.8" cy="103.6" r="1.5"/>
<circle cx="451.1" cy="100.9" r="1.5"/>
<circle cx="351.6" cy="116.9" r="1.5"/>
<circle cx="331.2" cy="107.8" r="1.5"/>
<circle cx="326.5" cy="121.2" r="1.5"/>
<circle cx="393.6" cy="100.9" r="1.5"/>
<circle cx="333.6" cy="92.3" r="1.5"/>
<circle cx="375.8" cy="101.5" r="1.5"/>
<circle cx="327.6" cy="89.7" r="1.5"/>
<circle cx="316.4" cy="96.6" r="1.5"/>
<circle cx="412.1" cy="102.4" r="1.5"/>
<circle cx="457.6" cy="100.2" r="1.5"/>
<circle cx="307.5" cy="109.0" r="1.5"/>
<circle cx="338.1" cy="119.0" r="1.5"/>
<circle cx="318.4" cy="119.7" r="1.5"/>
<circle cx="359.0" cy="111.9" r="1.5"/>
<circle cx="337.3" cy="101.4" r="1.5"/>
<circle cx="336.0" cy="112.4" r="1.5"/>
<circle cx="316.9" cy="91.4" r="1.5"/>
<circle cx="345.1" cy="116.4" r="1.5"/>
<circle cx="403.2" cy="109.1" r="1.5"/>
<circle cx="307.4" cy="100.0" r="1.5"/>
<circle cx="339.0" cy="95.3" r="1.5"/>
<circle cx="313.8" cy="113.5" r="1.5"/>
<circle cx="371.0" cy="113.9" r="1.5"/>
<circle cx="412.3" cy="109.8" r="1.5"/>
<circle cx="320.0" cy="87.5" r="1.5"/>
<circle cx="427.5" cy="106.5" r="1.5"/>
<circle cx="315.8" cy="101.5" r="1.5"/>
<circle cx="304.5" cy="102.6" r="1.5"/>
<circle cx="449.7" cy="109.4" r="1.5"/>
<circle cx="306.7" cy="89.0" r="1.5"/>
<circle cx="357.8" cy="117.9" r="1.5"/>
<circle cx="376.0" cy="111.3" r="1.5"/>
<circle cx="307.3" cy="104.5" r="1.5"/>
<circle cx="338.6" cy="106.2" r="1.5"/>
<circle cx="343.1" cy="112.7" r="1.5"/>
<circle cx="334.4" cy="96.1" r="1.5"/>
<circle cx="431.7" cy="102.8" r="1.5"/>
<circle cx="398.8" cy="102.3" r="1.5"/>
<circle cx="332.1" cy="97.5" r="1.5"/>
<circle cx="311.0" cy="118.9" r="1.5"/>
<circle cx="333.9" cy="110.2" r="1.5"/>
<circle cx="326.9" cy="94.9" r="1.5"/>
<circle cx="345.6" cy="97.5" r="1.5"/>
<circle cx="324.3" cy="103.9" r="1.5"/>
<circle cx="315.4" cy="120.8" r="1.5"/>
<circle cx="375.9" cy="96.9" r="1.5"/>
<circle cx="321.5" cy="122.7" r="1.5"/>
<circle cx="329.2" cy="109.4" r="1.5"/>
<circle cx="354.1" cy="104.8" r="1.5"/>
<circle cx="327.2" cy="114.1" r="1.5"/>
<circle cx="455.1" cy="106.7" r="1.5"/>
<circle cx="394.7" cy="110.1" r="1.5"/>
<circle cx="469.9" cy="100.8" r="1.5"/>
<circle cx="316.4" cy="103.6" r="1.5"/>
<circle cx="349.1" cy="94.7" r="1.5"/>
<circle cx="305.2" cy="118.6" r="1.5"/>
<circle cx="324.7" cy="97.1" r="1.5"/>
<circle cx="326.0" cy="91.8" r="1.5"/>
<circle cx="329.5" cy="94.6" r="1.5"/>
<circle cx="344.8" cy="120.4" r="1.5"/>
<circle cx="309.2" cy="91.3" r="1.5"/>
<circle cx="377.0" cy="104.6" r="1.5"/>
<circle cx="309.2" cy="113.6" r="1.5"/>
<circle cx="345.9" cy="111.6" r="1.5"/>
<circle cx="362.9" cy="111.3" r="1.5"/>
<circle cx="353.8" cy="112.9" r="1.5"/>
<circle cx="366.6" cy="96.1" r="1.5"/>
<circle cx="307.6" cy="125.8" r="1.5"/>
<circle cx="354.9" cy="108.8" r="1.5"/>
<circle cx="317.1" cy="109.3" r="1.5"/>
<circle cx="371.0" cy="106.3" r="1.5"/>
<circle cx="306.2" cy="111.9" r="1.5"/>
<circle cx="312.8" cy="85.7" r="1.5"/>
<circle cx="320.0" cy="101.9" r="1.5"/>
<circle cx="319.3" cy="106.0" r="1.5"/>
<circle cx="319.9" cy="97.2" r="1.5"/>
<circle cx="342.4" cy="103.2" r="1.5"/>
<circle cx="315.5" cy="106.6" r="1.5"/>
<circle cx="313.3" cy="92.1" r="1.5"/>
<circle cx="322.7" cy="98.0" r="1.5"/>
<circle cx="399.5" cy="106.1" r="1.5"/>
<circle cx="318.3" cy="116.1" r="1.5"/>
<circle cx="348.1" cy="118.3" r="1.5"/>
<circle cx="310.3" cy="105.0" r="1.5"/>
<circle cx="322.3" cy="105.3" r="1.5"/>
<circle cx="348.1" cy="105.0" r="1.5"/>
<circle cx="359.6" cy="108.8" r="1.5"/>
<circle cx="314.0" cy="100.1" r="1.5"/>
<circle cx="365.0" cy="102.7" r="1.5"/>
<circle cx="437.0" cy="99.7" r="1.5"/>
<circle cx="333.3" cy="116.8" r="1.5"/>
<circle cx="316.2" cy="116.3" r="1.5"/>
<circle cx="358.5" cy="114.7" r="1.5"/>
<circle cx="324.0" cy="100.4" r="1.5"/>
<circle cx="317.9" cy="112.6" r="1.5"/>
<circle cx="313.6" cy="117.3" r="1.5"/>
<circle cx="316.7" cy="85.8" r="1.5"/>
<circle cx="313.8" cy="110.7" r="1.5"/>
<circle cx="336.2" cy="94.6" r="1.5"/>
<circle cx="312.0" cy="100.8" r="1.5"/>
<circle cx="341.6" cy="106.4" r="1.5"/>
<circle cx="328.9" cy="105.7" r="1.5"/>
<circle cx="342.0" cy="95.7" r="1.5"/>
<circle cx="304.4" cy="89.7" r="1.5"/>
<circle cx="313.0" cy="120.0" r="1.5"/>
<circle cx="360.2" cy="105.9" r="1.5"/>
<circle cx="370.2" cy="97.4" r="1.5"/>
<circle cx="322.6" cy="117.1" r="1.5"/>
<circle cx="325.2" cy="107.3" r="1.5"/>
<circle cx="307.4" cy="123.5" r="1.5"/>
<circle cx="337.2" cy="115.9" r="1.5"/>
<circle cx="310.4" cy="115.9" r="1.5"/>
<circle cx="320.9" cy="119.4" r="1.5"/>
<circle cx="321.4" cy="107.3" r="1.5"/>
<circle cx="320.0" cy="111.6" r="1.5"/>
<circle cx="365.9" cy="110.5" r="1.5"/>
<circle cx="322.1" cy="89.9" r="1.5"/>
<circle cx="371.7" cy="100.3" r="1.5"/>
<circle cx="336.6" cy="97.2" r="1.5"/>
<circle cx="388.9" cy="110.7" r="1.5"/>
<circle cx="338.2" cy="108.8" r="1.5"/>
<circle cx="349.0" cy="113.0" r="1.5"/>
<circle cx="386.3" cy="104.2" r="1.5"/>
<circle cx="311.6" cy="98.5" r="1.5"/>
<circle cx="311.4" cy="126.5" r="1.5"/>
<circle cx="307.8" cy="102.2" r="1.5"/>
<circle cx="356.8" cy="99.3" r="1.5"/>
<circle cx="363.1" cy="107.2" r="1.5"/>
<circle cx="350.8" cy="107.3" r="1.5"/>
<circle cx="310.0" cy="108.4" r="1.5"/>
<circle cx="309.7" cy="125.0" r="1.5"/>
<circle cx="345.2" cy="100.9" r="1.5"/>
<circle cx="305.2" cy="123.5" r="1.5"/>
<circle cx="312.9" cy="94.2" r="1.5"/>
<circle cx="331.6" cy="102.0" r="1.5"/>
<circle cx="311.4" cy="123.0" r="1.5"/>
<circle cx="315.8" cy="125.1" r="1.5"/>
<circle cx="304.7" cy="115.3" r="1.5"/>
<circle cx="318.0" cy="95.0" r="1.5"/>
<circle cx="359.2" cy="95.3" r="1.5"/>
<circle cx="329.2" cy="112.7" r="1.5"/>
<circle cx="331.0" cy="119.7" r="1.5"/>
<circle cx="336.6" cy="104.1" r="1.5"/>
<circle cx="353.3" cy="99.0" r="1.5"/>
<circle cx="305.4" cy="95.8" r="1.5"/>
<circle cx="325.4" cy="118.2" r="1.5"/>
<circle cx="346.4" cy="107.1" r="1.5"/>
<circle cx="318.4" cy="122.4" r="1.5"/>
<circle cx="330.8" cy="114.7" r="1.5"/>
<circle cx="348.0" cy="101.5" r="1.5"/>
<circle cx="310.1" cy="102.6" r="1.5"/>
<circle cx="340.0" cy="101.3" r="1.5"/>
<circle cx="380.7" cy="98.7" r="1.5"/>
<circle cx="324.0" cy="88.8" r="1.5"/>
<circle cx="323.3" cy="113.3" r="1.5"/>
<circle cx="327.5" cy="98.4" r="1.5"/>
<circle cx="313.8" cy="97.8" r="1.5"/>
<circle cx="348.5" cy="97.3" r="1.5"/>
<circle cx="308.5" cy="111.6" r="1.5"/>
<circle cx="460.8" cy="109.0" r="1.5"/>
<circle cx="408.0" cy="108.8" r="1.5"/>
<circle cx="326.4" cy="111.1" r="1.5"/>
<circle cx="337.4" cy="121.3" r="1.5"/>
<circle cx="394.8" cy="106.1" r="1.5"/>
<circle cx="319.6" cy="108.4" r="1.5"/>
<circle cx="308.3" cy="93.9" r="1.5"/>
<circle cx="351.7" cy="110.8" r="1.5"/>
<circle cx="311.6" cy="110.0" r="1.5"/>
<circle cx="366.2" cy="99.9" r="1.5"/>
<circle cx="332.0" cy="90.2" r="1.5"/>
<circle cx="369.4" cy="111.1" r="1.5"/>
<circle cx="445.4" cy="99.1" r="1.5"/>
<circle cx="339.7" cy="104.1" r="1.5"/>
<circle cx="309.6" cy="100.5" r="1.5"/>
<circle cx="323.8" cy="124.3" r="1.5"/>
<circle cx="321.9" cy="103.1" r="1.5"/>
<circle cx="331.5" cy="110.5" r="1.5"/>
<circle cx="355.2" cy="116.4" r="1.5"/>
<circle cx="323.9" cy="121.3" r="1.5"/>
<circle cx="313.8" cy="123.2" r="1.5"/>
<circle cx="307.8" cy="118.5" r="1.5"/>
<circle cx="358.9" cy="102.6" r="1.5"/>
<circle cx="331.3" cy="104.4" r="1.5"/>
<circle cx="347.8" cy="115.6" r="1.5"/>
<circle cx="319.7" cy="90.3" r="1.5"/>
<circle cx="316.3" cy="118.6" r="1.5"/>
<circle cx="308.2" cy="115.7" r="1.5"/>
<circle cx="308.7" cy="85.4" r="1.5"/>
<circle cx="339.7" cy="113.0" r="1.5"/>
<circle cx="328.4" cy="120.1" r="1.5"/>
<circle cx="320.1" cy="124.5" r="1.5"/>
<circle cx="332.8" cy="121.7" r="1.5"/>
<circle cx="326.5" cy="100.4" r="1.5"/>
<circle cx="325.7" cy="116.1" r="1.5"/>
<circle cx="416.3" cy="99.7" r="1.5"/>
<circle cx="310.8" cy="86.5" r="1.5"/>
<circle cx="433.9" cy="108.9" r="1.5"/>
<circle cx="310.9" cy="89.4" r="1.5"/>
<circle cx="318.7" cy="126.4" r="1.5"/>
<circle cx="399.5" cy="110.0" r="1.5"/>
<circle cx="341.0" cy="120.0" r="1.5"/>
<circle cx="328.8" cy="117.1" r="1.5"/>
<circle cx="313.5" cy="125.6" r="1.5"/>
<circle cx="352.4" cy="119.9" r="1.5"/>
<circle cx="344.1" cy="108.3" r="1.5"/>
<circle cx="321.7" cy="85.4" r="1.5"/>
<circle cx="318.4" cy="99.7" r="1.5"/>
<circle cx="313.2" cy="108.1" r="1.5"/>
<circle cx="348.7" cy="108.9" r="1.5"/>
<circle cx="310.9" cy="92.7" r="1.5"/>
<circle cx="403.2" cy="104.9" r="1.5"/>
<circle cx="311.4" cy="113.6" r="1.5"/>
<circle cx="337.7" cy="91.7" r="1.5"/>
<circle cx="322.7" cy="111.1" r="1.5"/>
<circle cx="334.0" cy="119.4" r="1.5"/>
<circle cx="357.3" cy="106.0" r="1.5"/>
<circle cx="304.5" cy="109.8" r="1.5"/>
<circle cx="323.4" cy="108.5" r="1.5"/>
<circle cx="444.0" cy="108.8" r="1.5"/>
<circle cx="379.5" cy="102.0" r="1.5"/>
<circle cx="326.0" cy="84.5" r="1.5"/>
<circle cx="350.7" cy="100.0" r="1.5"/>
<circle cx="376.4" cy="108.0" r="1.5"/>
<circle cx="341.9" cy="93.1" r="1.5"/>
<circle cx="313.8" cy="102.8" r="1.5"/>
<circle cx="363.1" cy="96.3" r="1.5"/>
<circle cx="331.3" cy="92.4" r="1.5"/>
<circle cx="342.9" cy="115.2" r="1.5"/>
<circle cx="418.2" cy="109.4" r="1.5"/>
<circle cx="307.6" cy="96.9" r="1.5"/>
<circle cx="304.6" cy="104.9" r="1.5"/>
<circle cx="316.0" cy="98.9" r="1.5"/>
<circle cx="328.9" cy="122.8" r="1.5"/>
<circle cx="467.5" cy="109.8" r="1.5"/>
<circle cx="344.3" cy="104.9" r="1.5"/>
<circle cx="330.0" cy="88.9" r="1.5"/>
<circle cx="351.6" cy="91.9" r="1.5"/>
<circle cx="314.7" cy="87.4" r="1.5"/>
<circle cx="336.2" cy="107.4" r="1.5"/>
<circle cx="332.4" cy="112.9" r="1.5"/>
<circle cx="331.9" cy="94.8" r="1.5"/>
<circle cx="365.3" cy="116.2" r="1.5"/>
<circle cx="367.9" cy="107.9" r="1.5"/>
<circle cx="373.2" cy="103.9" r="1.5"/>
<circle cx="329.1" cy="102.9" r="1.5"/>
<circle cx="323.8" cy="92.3" r="1.5"/>
<circle cx="326.2" cy="88.1" r="1.5"/>
<circle cx="342.8" cy="118.0" r="1.5"/>
<circle cx="374.2" cy="114.9" r="1.5"/>
<circle cx="334.5" cy="102.7" r="1.5"/>
<circle cx="321.3" cy="99.7" r="1.5"/>
<circle cx="319.2" cy="93.1" r="1.5"/>
<circle cx="315.7" cy="94.2" r="1.5"/>
<circle cx="331.7" cy="86.3" r="1.5"/>
<circle cx="327.5" cy="107.6" r="1.5"/>
<circle cx="334.2" cy="114.4" r="1.5"/>
<circle cx="314.9" cy="84.6" r="1.5"/>
<circle cx="335.8" cy="117.8" r="1.5"/>
<circle cx="335.5" cy="124.0" r="1.5"/>
<circle cx="322.0" cy="129.1" r="1.5"/>
<circle cx="361.9" cy="103.4" r="1.5"/>
<circle cx="304.4" cy="113.0" r="1.5"/>
<circle cx="326.2" cy="123.6" r="1.5"/>
<circle cx="320.0" cy="117.5" r="1.5"/>
<circle cx="306.6" cy="107.0" r="1.5"/>
<circle cx="315.5" cy="89.6" r="1.5"/>
<circle cx="305.1" cy="84.2" r="1.5"/>
<circle cx="390.8" cy="98.1" r="1.5"/>
<circle cx="312.5" cy="87.8" r="1.5"/>
<circle cx="381.1" cy="114.6" r="1.5"/>
<circle cx="323.2" cy="119.2" r="1.5"/>
<circle cx="306.5" cy="114.0" r="1.5"/>
<circle cx="319.0" cy="84.8" r="1.5"/>
<circle cx="318.6" cy="103.6" r="1.5"/>
<circle cx="338.3" cy="99.0" r="1.5"/>
<circle cx="308.6" cy="106.4" r="1.5"/>
<circle cx="409.0" cy="99.2" r="1.5"/>
<circle cx="386.4" cy="108.1" r="1.5"/>
<circle cx="328.9" cy="92.5" r="1.5"/>
<circle cx="331.6" cy="99.7" r="1.5"/>
<circle cx="311.4" cy="106.8" r="1.5"/>
<circle cx="329.0" cy="126.7" r="1.5"/>
<circle cx="342.7" cy="100.6" r="1.5"/>
<circle cx="324.4" cy="86.4" r="1.5"/>
<circle cx="347.4" cy="121.6" r="1.5"/>
<circle cx="331.1" cy="117.2" r="1.5"/>
<circle cx="326.8" cy="125.7" r="1.5"/>
<circle cx="310.6" cy="84.2" r="1.5"/>
<circle cx="316.0" cy="111.2" r="1.5"/>
<circle cx="357.2" cy="92.7" r="1.5"/>
<circle cx="354.0" cy="94.3" r="1.5"/>
<circle cx="316.4" cy="123.0" r="1.5"/>
<circle cx="322.2" cy="87.6" r="1.5"/>
<circle cx="369.4" cy="117.0" r="1.5"/>
<circle cx="322.8" cy="126.7" r="1.5"/>
<circle cx="321.3" cy="75.0" r="1.5"/>
<circle cx="322.7" cy="81.7" r="1.5"/>
<circle cx="330.8" cy="84.4" r="1.5"/>
<circle cx="337.5" cy="87.0" r="1.5"/>
<circle cx="328.0" cy="122.0" r="1.5"/>
<circle cx="334.8" cy="123.5" r="1.5"/>
<circle cx="348.3" cy="135.6" r="1.5"/>
<circle cx="365.8" cy="85.8" r="1.5"/>
<circle cx="365.6" cy="85.6" r="1.5"/>
<circle cx="449.0" cy="119.8" r="1.5"/>
<circle cx="472.0" cy="114.4" r="1.5"/>
<circle cx="468.0" cy="102.0" r="1.5"/>
<circle cx="318.5" cy="79.0" r="1.5"/>
<circle cx="326.0" cy="127.5" r="1.5"/>
<circle cx="343.0" cy="125.0" r="1.5"/>
<circle cx="356.0" cy="122.0" r="1.5"/>
<circle cx="372.0" cy="118.0" r="1.5"/>
<circle cx="392.0" cy="120.5" r="1.5"/>
<circle cx="410.0" cy="119.0" r="1.5"/>
<circle cx="430.0" cy="118.5" r="1.5"/>
<circle cx="340.0" cy="90.0" r="1.5"/>
<circle cx="352.0" cy="92.5" r="1.5"/>
<circle cx="377.0" cy="95.0" r="1.5"/>
<circle cx="395.0" cy="97.5" r="1.5"/>
</g>
<g fill="#c86464">
<circle cx="305.5" cy="78.8" r="1.5"/>
<circle cx="312.0" cy="79.6" r="1.5"/>
<circle cx="304.4" cy="74.3" r="1.5"/>
<circle cx="306.1" cy="130.5" r="1.5"/>
<circle cx="306.3" cy="64.4" r="1.5"/>
<circle cx="315.2" cy="81.9" r="1.5"/>
<circle cx="308.2" cy="144.7" r="1.5"/>
<circle cx="304.6" cy="135.6" r="1.5"/>
<circle cx="311.4" cy="131.3" r="1.5"/>
<circle cx="305.7" cy="151.7" r="1.5"/>
<circle cx="308.7" cy="77.8" r="1.5"/>
<circle cx="305.4" cy="76.3" r="1.5"/>
<circle cx="304.5" cy="159.0" r="1.5"/>
<circle cx="305.7" cy="67.5" r="1.5"/>
<circle cx="304.7" cy="143.2" r="1.5"/>
<circle cx="314.7" cy="131.6" r="1.5"/>
<circle cx="308.1" cy="68.8" r="1.5"/>
<circle cx="305.1" cy="133.0" r="1.5"/>
<circle cx="313.7" cy="128.1" r="1.5"/>
<circle cx="310.3" cy="71.9" r="1.5"/>
<circle cx="314.4" cy="78.3" r="1.5"/>
<circle cx="314.1" cy="133.7" r="1.5"/>
<circle cx="306.2" cy="71.7" r="1.5"/>
<circle cx="313.3" cy="83.2" r="1.5"/>
<circle cx="309.2" cy="136.8" r="1.5"/>
<circle cx="308.0" cy="81.5" r="1.5"/>
<circle cx="310.0" cy="147.2" r="1.5"/>
<circle cx="306.0" cy="140.3" r="1.5"/>
<circle cx="309.4" cy="139.6" r="1.5"/>
<circle cx="316.3" cy="129.8" r="1.5"/>
<circle cx="304.5" cy="148.1" r="1.5"/>
<circle cx="311.7" cy="141.8" r="1.5"/>
<circle cx="309.9" cy="75.3" r="1.5"/>
<circle cx="309.5" cy="130.0" r="1.5"/>
<circle cx="304.7" cy="82.1" r="1.5"/>
<circle cx="310.5" cy="144.8" r="1.5"/>
<circle cx="313.0" cy="137.2" r="1.5"/>
<circle cx="306.3" cy="154.9" r="1.5"/>
<circle cx="305.7" cy="145.3" r="1.5"/>
<circle cx="305.3" cy="60.5" r="1.5"/>
<circle cx="308.1" cy="134.7" r="1.5"/>
<circle cx="306.7" cy="74.1" r="1.5"/>
<circle cx="312.0" cy="139.7" r="1.5"/>
<circle cx="310.8" cy="135.0" r="1.5"/>
<circle cx="309.6" cy="127.8" r="1.5"/>
<circle cx="308.3" cy="150.8" r="1.5"/>
<circle cx="304.4" cy="70.3" r="1.5"/>
<circle cx="317.2" cy="82.9" r="1.5"/>
<circle cx="312.1" cy="73.4" r="1.5"/>
<circle cx="312.6" cy="76.2" r="1.5"/>
<circle cx="307.2" cy="147.1" r="1.5"/>
<circle cx="304.5" cy="138.5" r="1.5"/>
<circle cx="307.8" cy="66.5" r="1.5"/>
<circle cx="310.2" cy="81.9" r="1.5"/>
<circle cx="309.5" cy="142.8" r="1.5"/>
<circle cx="305.1" cy="156.9" r="1.5"/>
<circle cx="311.0" cy="77.6" r="1.5"/>
<circle cx="304.9" cy="62.6" r="1.5"/>
<circle cx="309.5" cy="132.4" r="1.5"/>
<circle cx="308.2" cy="72.6" r="1.5"/>
<circle cx="306.8" cy="138.0" r="1.5"/>
<circle cx="316.5" cy="127.3" r="1.5"/>
<circle cx="307.4" cy="128.5" r="1.5"/>
<circle cx="304.4" cy="153.6" r="1.5"/>
<circle cx="304.4" cy="129.0" r="1.5"/>
<circle cx="307.1" cy="142.7" r="1.5"/>
<circle cx="306.8" cy="149.2" r="1.5"/>
<circle cx="304.4" cy="65.6" r="1.5"/>
<circle cx="311.4" cy="129.0" r="1.5"/>
<circle cx="307.8" cy="153.1" r="1.5"/>
</g>
<g fill="#484848">
<circle cx="373.2" cy="109.0" r="0.8"/>
<circle cx="426.7" cy="101.5" r="0.8"/>
<circle cx="315.9" cy="114.0" r="0.8"/>
<circle cx="382.5" cy="105.5" r="0.8"/>
<circle cx="464.4" cy="104.7" r="0.8"/>
<circle cx="329.2" cy="96.8" r="0.8"/>
<circle cx="407.9" cy="103.5" r="0.8"/>
<circle cx="310.3" cy="95.6" r="0.8"/>
<circle cx="321.9" cy="93.8" r="0.8"/>
<circle cx="304.5" cy="107.0" r="0.8"/>
<circle cx="329.6" cy="100.8" r="0.8"/>
<circle cx="305.1" cy="126.7" r="0.8"/>
<circle cx="306.2" cy="92.9" r="0.8"/>
<circle cx="317.6" cy="88.7" r="0.8"/>
<circle cx="390.0" cy="104.3" r="0.8"/>
<circle cx="355.5" cy="101.9" r="0.8"/>
<circle cx="367.3" cy="113.6" r="0.8"/>
<circle cx="340.2" cy="116.8" r="0.8"/>
<circle cx="367.9" cy="104.5" r="0.8"/>
<circle cx="313.7" cy="105.3" r="0.8"/>
<circle cx="379.4" cy="110.5" r="0.8"/>
<circle cx="361.4" cy="99.3" r="0.8"/>
<circle cx="304.7" cy="99.8" r="0.8"/>
<circle cx="309.0" cy="87.9" r="0.8"/>
<circle cx="383.5" cy="101.1" r="0.8"/>
<circle cx="383.8" cy="110.6" r="0.8"/>
<circle cx="362.2" cy="116.2" r="0.8"/>
<circle cx="404.6" cy="100.7" r="0.8"/>
<circle cx="416.1" cy="105.6" r="0.8"/>
<circle cx="472.2" cy="106.6" r="0.8"/>
<circle cx="304.7" cy="121.5" r="0.8"/>
<circle cx="420.6" cy="100.8" r="0.8"/>
<circle cx="309.5" cy="98.1" r="0.8"/>
<circle cx="422.5" cy="107.8" r="0.8"/>
<circle cx="437.8" cy="106.0" r="0.8"/>
<circle cx="334.4" cy="105.8" r="0.8"/>
<circle cx="351.5" cy="96.7" r="0.8"/>
<circle cx="345.7" cy="93.6" r="0.8"/>
<circle cx="387.0" cy="100.2" r="0.8"/>
<circle cx="334.1" cy="100.1" r="0.8"/>
<circle cx="323.1" cy="95.7" r="0.8"/>
<circle cx="340.8" cy="98.5" r="0.8"/>
<circle cx="305.5" cy="86.4" r="0.8"/>
<circle cx="335.3" cy="90.4" r="0.8"/>
<circle cx="442.9" cy="103.5" r="0.8"/>
<circle cx="321.0" cy="114.5" r="0.8"/>
<circle cx="350.5" cy="103.1" r="0.8"/>
<circle cx="308.5" cy="120.7" r="0.8"/>
<circle cx="313.2" cy="89.9" r="0.8"/>
<circle cx="356.0" cy="96.3" r="0.8"/>
<circle cx="340.7" cy="109.7" r="0.8"/>
<circle cx="326.8" cy="103.6" r="0.8"/>
<circle cx="451.1" cy="100.9" r="0.8"/>
<circle cx="351.6" cy="116.9" r="0.8"/>
<circle cx="331.2" cy="107.8" r="0.8"/>
<circle cx="326.5" cy="121.2" r="0.8"/>
<circle cx="393.6" cy="100.9" r="0.8"/>
<circle cx="333.6" cy="92.3" r="0.8"/>
<circle cx="375.8" cy="101.5" r="0.8"/>
<circle cx="327.6" cy="89.7" r="0.8"/>
<circle cx="316.4" cy="96.6" r="0.8"/>
<circle cx="412.1" cy="102.4" r="0.8"/>
<circle cx="457.6" cy="100.2" r="0.8"/>
<circle cx="307.5" cy="109.0" r="0.8"/>
<circle cx="338.1" cy="119.0" r="0.8"/>
<circle cx="318.4" cy="119.7" r="0.8"/>
<circle cx="359.0" cy="111.9" r="0.8"/>
<circle cx="337.3" cy="101.4" r="0.8"/>
<circle cx="336.0" cy="112.4" r="0.8"/>
<circle cx="316.9" cy="91.4" r="0.8"/>
<circle cx="345.1" cy="116.4" r="0.8"/>
<circle cx="403.2" cy="109.1" r="0.8"/>
<circle cx="307.4" cy="100.0" r="0.8"/>
<circle cx="339.0" cy="95.3" r="0.8"/>
<circle cx="313.8" cy="113.5" r="0.8"/>
<circle cx="371.0" cy="113.9" r="0.8"/>
<circle cx="412.3" cy="109.8" r="0.8"/>
<circle cx="320.0" cy="87.5" r="0.8"/>
<circle cx="427.5" cy="106.5" r="0.8"/>
<circle cx="315.8" cy="101.5" r="0.8"/>
<circle cx="304.5" cy="102.6" r="0.8"/>
<circle cx="449.7" cy="109.4" r="0.8"/>
<circle cx="306.7" cy="89.0" r="0.8"/>
<circle cx="357.8" cy="117.9" r="0.8"/>
<circle cx="376.0" cy="111.3" r="0.8"/>
<circle cx="307.3" cy="104.5" r="0.8"/>
<circle cx="338.6" cy="106.2" r="0.8"/>
<circle cx="343.1" cy="112.7" r="0.8"/>
<circle cx="334.4" cy="96.1" r="0.8"/>
<circle cx="431.7" cy="102.8" r="0.8"/>
<circle cx="398.8" cy="102.3" r="0.8"/>
<circle cx="332.1" cy="97.5" r="0.8"/>
<circle cx="311.0" cy="118.9" r="0.8"/>
<circle cx="333.9" cy="110.2" r="0.8"/>
<circle cx="326.9" cy="94.9" r="0.8"/>
<circle cx="345.6" cy="97.5" r="0.8"/>
<circle cx="324.3" cy="103.9" r="0.8"/>
<circle cx="315.4" cy="120.8" r="0.8"/>
<circle cx="375.9" cy="96.9" r="0.8"/>
<circle cx="321.5" cy="122.7" r="0.8"/>
<circle cx="329.2" cy="109.4" r="0.8"/>
<circle cx="354.1" cy="104.8" r="0.8"/>
<circle cx="327.2" cy="114.1" r="0.8"/>
<circle cx="455.1" cy="106.7" r="0.8"/>
<circle cx="394.7" cy="110.1" r="0.8"/>
<circle cx="469.9" cy="100.8" r="0.8"/>
<circle cx="316.4" cy="103.6" r="0.8"/>
<circle cx="349.1" cy="94.7" r="0.8"/>
<circle cx="305.2" cy="118.6" r="0.8"/>
<circle cx="324.7" cy="97.1" r="0.8"/>
<circle cx="326.0" cy="91.8" r="0.8"/>
<circle cx="329.5" cy="94.6" r="0.8"/>
<circle cx="344.8" cy="120.4" r="0.8"/>
<circle cx="309.2" cy="91.3" r="0.8"/>
<circle cx="377.0" cy="104.6" r="0.8"/>
<circle cx="309.2" cy="113.6" r="0.8"/>
<circle cx="345.9" cy="111.6" r="0.8"/>
<circle cx="362.9" cy="111.3" r="0.8"/>
<circle cx="353.8" cy="112.9" r="0.8"/>
<circle cx="366.6" cy="96.1" r="0.8"/>
<circle cx="307.6" cy="125.8" r="0.8"/>
<circle cx="354.9" cy="108.8" r="0.8"/>
<circle cx="317.1" cy="109.3" r="0.8"/>
<circle cx="371.0" cy="106.3" r="0.8"/>
<circle cx="306.2" cy="111.9" r="0.8"/>
<circle cx="312.8" cy="85.7" r="0.8"/>
<circle cx="320.0" cy="101.9" r="0.8"/>
<circle cx="319.3" cy="106.0" r="0.8"/>
<circle cx="319.9" cy="97.2" r="0.8"/>
<circle cx="342.4" cy="103.2" r="0.8"/>
<circle cx="315.5" cy="106.6" r="0.8"/>
<circle cx="313.3" cy="92.1" r="0.8"/>
<circle cx="322.7" cy="98.0" r="0.8"/>
<circle cx="399.5" cy="106.1" r="0.8"/>
<circle cx="318.3" cy="116.1" r="0.8"/>
<circle cx="348.1" cy="118.3" r="0.8"/>
<circle cx="310.3" cy="105.0" r="0.8"/>
<circle cx="322.3" cy="105.3" r="0.8"/>
<circle cx="348.1" cy="105.0" r="0.8"/>
<circle cx="359.6" cy="108.8" r="0.8"/>
<circle cx="314.0" cy="100.1" r="0.8"/>
<circle cx="365.0" cy="102.7" r="0.8"/>
<circle cx="437.0" cy="99.7" r="0.8"/>
<circle cx="333.3" cy="116.8" r="0.8"/>
<circle cx="316.2" cy="116.3" r="0.8"/>
<circle cx="358.5" cy="114.7" r="0.8"/>
<circle cx="324.0" cy="100.4" r="0.8"/>
<circle cx="317.9" cy="112.6" r="0.8"/>
<circle cx="313.6" cy="117.3" r="0.8"/>
<circle cx="316.7" cy="85.8" r="0.8"/>
<circle cx="313.8" cy="110.7" r="0.8"/>
<circle cx="336.2" cy="94.6" r="0.8"/>
<circle cx="312.0" cy="100.8" r="0.8"/>
<circle cx="341.6" cy="106.4" r="0.8"/>
<circle cx="328.9" cy="105.7" r="0.8"/>
<circle cx="342.0" cy="95.7" r="0.8"/>
<circle cx="304.4" cy="89.7" r="0.8"/>
<circle cx="313.0" cy="120.0" r="0.8"/>
<circle cx="360.2" cy="105.9" r="0.8"/>
<circle cx="370.2" cy="97.4" r="0.8"/>
<circle cx="322.6" cy="117.1" r="0.8"/>
<circle cx="325.2" cy="107.3" r="0.8"/>
<circle cx="307.4" cy="123.5" r="0.8"/>
<circle cx="337.2" cy="115.9" r="0.8"/>
<circle cx="310.4" cy="115.9" r="0.8"/>
<circle cx="320.9" cy="119.4" r="0.8"/>
<circle cx="321.4" cy="107.3" r="0.8"/>
<circle cx="320.0" cy="111.6" r="0.8"/>
<circle cx="365.9" cy="110.5" r="0.8"/>
<circle cx="322.1" cy="89.9" r="0.8"/>
<circle cx="371.7" cy="100.3" r="0.8"/>
<circle cx="336.6" cy="97.2" r="0.8"/>
<circle cx="388.9" cy="110.7" r="0.8"/>
<circle cx="338.2" cy="108.8" r="0.8"/>
<circle cx="349.0" cy="113.0" r="0.8"/>
<circle cx="386.3" cy="104.2" r="0.8"/>
<circle cx="311.6" cy="98.5" r="0.8"/>
<circle cx="311.4" cy="126.5" r="0.8"/>
<circle cx="307.8" cy="102.2" r="0.8"/>
<circle cx="356.8" cy="99.3" r="0.8"/>
<circle cx="363.1" cy="107.2" r="0.8"/>
<circle cx="350.8" cy="107.3" r="0.8"/>
<circle cx="310.0" cy="108.4" r="0.8"/>
<circle cx="309.7" cy="125.0" r="0.8"/>
<circle cx="345.2" cy="100.9" r="0.8"/>
<circle cx="305.2" cy="123.5" r="0.8"/>
<circle cx="312.9" cy="94.2" r="0.8"/>
<circle cx="331.6" cy="102.0" r="0.8"/>
<circle cx="311.4" cy="123.0" r="0.8"/>
<circle cx="315.8" cy="125.1" r="0.8"/>
<circle cx="304.7" cy="115.3" r="0.8"/>
<circle cx="318.0" cy="95.0" r="0.8"/>
<circle cx="359.2" cy="95.3" r="0.8"/>
<circle cx="329.2" cy="112.7" r="0.8"/>
<circle cx="331.0" cy="119.7" r="0.8"/>
<circle cx="336.6" cy="104.1" r="0.8"/>
<circle cx="353.3" cy="99.0" r="0.8"/>
<circle cx="305.4" cy="95.8" r="0.8"/>
<circle cx="325.4" cy="118.2" r="0.8"/>
<circle cx="346.4" cy="107.1" r="0.8"/>
<circle cx="318.4" cy="122.4" r="0.8"/>
<circle cx="330.8" cy="114.7" r="0.8"/>
<circle cx="348.0" cy="101.5" r="0.8"/>
<circle cx="310.1" cy="102.6" r="0.8"/>
<circle cx="340.0" cy="101.3" r="0.8"/>
<circle cx="380.7" cy="98.7" r="0.8"/>
<circle cx="324.0" cy="88.8" r="0.8"/>
<circle cx="323.3" cy="113.3" r="0.8"/>
<circle cx="327.5" cy="98.4" r="0.8"/>
<circle cx="313.8" cy="97.8" r="0.8"/>
<circle cx="348.5" cy="97.3" r="0.8"/>
<circle cx="308.5" cy="111.6" r="0.8"/>
<circle cx="460.8" cy="109.0" r="0.8"/>
<circle cx="408.0" cy="108.8" r="0.8"/>
<circle cx="326.4" cy="111.1" r="0.8"/>
<circle cx="337.4" cy="121.3" r="0.8"/>
<circle cx="394.8" cy="106.1" r="0.8"/>
<circle cx="319.6" cy="108.4" r="0.8"/>
<circle cx="308.3" cy="93.9" r="0.8"/>
<circle cx="351.7" cy="110.8" r="0.8"/>
<circle cx="311.6" cy="110.0" r="0.8"/>
<circle cx="366.2" cy="99.9" r="0.8"/>
<circle cx="332.0" cy="90.2" r="0.8"/>
<circle cx="369.4" cy="111.1" r="0.8"/>
<circle cx="445.4" cy="99.1" r="0.8"/>
<circle cx="339.7" cy="104.1" r="0.8"/>
<circle cx="309.6" cy="100.5" r="0.8"/>
<circle cx="323.8" cy="124.3" r="0.8"/>
<circle cx="321.9" cy="103.1" r="0.8"/>
<circle cx="331.5" cy="110.5" r="0.8"/>
<circle cx="355.2" cy="116.4" r="0.8"/>
<circle cx="323.9" cy="121.3" r="0.8"/>
<circle cx="313.8" cy="123.2" r="0.8"/>
<circle cx="307.8" cy="118.5" r="0.8"/>
<circle cx="358.9" cy="102.6" r="0.8"/>
<circle cx="331.3" cy="104.4" r="0.8"/>
<circle cx="347.8" cy="115.6" r="0.8"/>
<circle cx="319.7" cy="90.3" r="0.8"/>
<circle cx="316.3" cy="118.6" r="0.8"/>
<circle cx="308.2" cy="115.7" r="0.8"/>
<circle cx="308.7" cy="85.4" r="0.8"/>
<circle cx="339.7" cy="113.0" r="0.8"/>
<circle cx="328.4" cy="120.1" r="0.8"/>
<circle cx="320.1" cy="124.5" r="0.8"/>
<circle cx="332.8" cy="121.7" r="0.8"/>
<circle cx="326.5" cy="100.4" r="0.8"/>
<circle cx="325.7" cy="116.1" r="0.8"/>
<circle cx="416.3" cy="99.7" r="0.8"/>
<circle cx="310.8" cy="86.5" r="0.8"/>
<circle cx="433.9" cy="108.9" r="0.8"/>
<circle cx="310.9" cy="89.4" r="0.8"/>
<circle cx="318.7" cy="126.4" r="0.8"/>
<circle cx="399.5" cy="110.0" r="0.8"/>
<circle cx="341.0" cy="120.0" r="0.8"/>
<circle cx="328.8" cy="117.1" r="0.8"/>
<circle cx="313.5" cy="125.6" r="0.8"/>
<circle cx="352.4" cy="119.9" r="0.8"/>
<circle cx="344.1" cy="108.3" r="0.8"/>
<circle cx="321.7" cy="85.4" r="0.8"/>
<circle cx="318.4" cy="99.7" r="0.8"/>
<circle cx="313.2" cy="108.1" r="0.8"/>
<circle cx="348.7" cy="108.9" r="0.8"/>
<circle cx="310.9" cy="92.7" r="0.8"/>
<circle cx="403.2" cy="104.9" r="0.8"/>
<circle cx="311.4" cy="113.6" r="0.8"/>
<circle cx="337.7" cy="91.7" r="0.8"/>
<circle cx="322.7" cy="111.1" r="0.8"/>
<circle cx="334.0" cy="119.4" r="0.8"/>
<circle cx="357.3" cy="106.0" r="0.8"/>
<circle cx="304.5" cy="109.8" r="0.8"/>
<circle cx="323.4" cy="108.5" r="0.8"/>
<circle cx="444.0" cy="108.8" r="0.8"/>
<circle cx="379.5" cy="102.0" r="0.8"/>
<circle cx="326.0" cy="84.5" r="0.8"/>
<circle cx="350.7" cy="100.0" r="0.8"/>
<circle cx="376.4" cy="108.0" r="0.8"/>
<circle cx="341.9" cy="93.1" r="0.8"/>
<circle cx="313.8" cy="102.8" r="0.8"/>
<circle cx="363.1" cy="96.3" r="0.8"/>
<circle cx="331.3" cy="92.4" r="0.8"/>
<circle cx="342.9" cy="115.2" r="0.8"/>
<circle cx="418.2" cy="109.4" r="0.8"/>
<circle cx="307.6" cy="96.9" r="0.8"/>
<circle cx="304.6" cy="104.9" r="0.8"/>
<circle cx="316.0" cy="98.9" r="0.8"/>
<circle cx="328.9" cy="122.8" r="0.8"/>
<circle cx="467.5" cy="109.8" r="0.8"/>
<circle cx="344.3" cy="104.9" r="0.8"/>
<circle cx="330.0" cy="88.9" r="0.8"/>
<circle cx="351.6" cy="91.9" r="0.8"/>
<circle cx="314.7" cy="87.4" r="0.8"/>
<circle cx="336.2" cy="107.4" r="0.8"/>
<circle cx="332.4" cy="112.9" r="0.8"/>
<circle cx="331.9" cy="94.8" r="0.8"/>
<circle cx="365.3" cy="116.2" r="0.8"/>
<circle cx="367.9" cy="107.9" r="0.8"/>
<circle cx="373.2" cy="103.9" r="0.8"/>
<circle cx="329.1" cy="102.9" r="0.8"/>
<circle cx="323.8" cy="92.3" r="0.8"/>
<circle cx="326.2" cy="88.1" r="0.8"/>
<circle cx="342.8" cy="118.0" r="0.8"/>
<circle cx="374.2" cy="114.9" r="0.8"/>
<circle cx="334.5" cy="102.7" r="0.8"/>
<circle cx="321.3" cy="99.7" r="0.8"/>
<circle cx="319.2" cy="93.1" r="0.8"/>
<circle cx="315.7" cy="94.2" r="0.8"/>
<circle cx="331.7" cy="86.3" r="0.8"/>
<circle cx="327.5" cy="107.6" r="0.8"/>
<circle cx="334.2" cy="114.4" r="0.8"/>
<circle cx="314.9" cy="84.6" r="0.8"/>
<circle cx="335.8" cy="117.8" r="0.8"/>
<circle cx="335.5" cy="124.0" r="0.8"/>
<circle cx="322.0" cy="129.1" r="0.8"/>
<circle cx="361.9" cy="103.4" r="0.8"/>
<circle cx="304.4" cy="113.0" r="0.8"/>
<circle cx="326.2" cy="123.6" r="0.8"/>
<circle cx="320.0" cy="117.5" r="0.8"/>
<circle cx="306.6" cy="107.0" r="0.8"/>
<circle cx="315.5" cy="89.6" r="0.8"/>
<circle cx="305.1" cy="84.2" r="0.8"/>
<circle cx="390.8" cy="98.1" r="0.8"/>
<circle cx="312.5" cy="87.8" r="0.8"/>
<circle cx="381.1" cy="114.6" r="0.8"/>
<circle cx="323.2" cy="119.2" r="0.8"/>
<circle cx="306.5" cy="114.0" r="0.8"/>
<circle cx="319.0" cy="84.8" r="0.8"/>
<circle cx="318.6" cy="103.6" r="0.8"/>
<circle cx="338.3" cy="99.0" r="0.8"/>
<circle cx="308.6" cy="106.4" r="0.8"/>
<circle cx="409.0" cy="99.2" r="0.8"/>
<circle cx="386.4" cy="108.1" r="0.8"/>
<circle cx="328.9" cy="92.5" r="0.8"/>
<circle cx="331.6" cy="99.7" r="0.8"/>
<circle cx="311.4" cy="106.8" r="0.8"/>
<circle cx="329.0" cy="126.7" r="0.8"/>
<circle cx="342.7" cy="100.6" r="0.8"/>
<circle cx="324.4" cy="86.4" r="0.8"/>
<circle cx="347.4" cy="121.6" r="0.8"/>
<circle cx="331.1" cy="117.2" r="0.8"/>
<circle cx="326.8" cy="125.7" r="0.8"/>
<circle cx="310.6" cy="84.2" r="0.8"/>
<circle cx="316.0" cy="111.2" r="0.8"/>
<circle cx="357.2" cy="92.7" r="0.8"/>
<circle cx="354.0" cy="94.3" r="0.8"/>
<circle cx="316.4" cy="123.0" r="0.8"/>
<circle cx="322.2" cy="87.6" r="0.8"/>
<circle cx="369.4" cy="117.0" r="0.8"/>
<circle cx="322.8" cy="126.7" r="0.8"/>
<circle cx="321.3" cy="75.0" r="0.8"/>
<circle cx="322.7" cy="81.7" r="0.8"/>
<circle cx="330.8" cy="84.4" r="0.8"/>
<circle cx="337.5" cy="87.0" r="0.8"/>
<circle cx="328.0" cy="122.0" r="0.8"/>
<circle cx="334.8" cy="123.5" r="0.8"/>
<circle cx="348.3" cy="135.6" r="0.8"/>
<circle cx="365.8" cy="85.8" r="0.8"/>
<circle cx="365.6" cy="85.6" r="0.8"/>
<circle cx="449.0" cy="119.8" r="0.8"/>
<circle cx="472.0" cy="114.4" r="0.8"/>
<circle cx="468.0" cy="102.0" r="0.8"/>
<circle cx="318.5" cy="79.0" r="0.8"/>
<circle cx="326.0" cy="127.5" r="0.8"/>
<circle cx="343.0" cy="125.0" r="0.8"/>
<circle cx="356.0" cy="122.0" r="0.8"/>
<circle cx="372.0" cy="118.0" r="0.8"/>
<circle cx="392.0" cy="120.5" r="0.8"/>
<circle cx="410.0" cy="119.0" r="0.8"/>
<circle cx="430.0" cy="118.5" r="0.8"/>
<circle cx="340.0" cy="90.0" r="0.8"/>
<circle cx="352.0" cy="92.5" r="0.8"/>
<circle cx="377.0" cy="95.0" r="0.8"/>
<circle cx="395.0" cy="97.5" r="0.8"/>
</g>
<g fill="#7e2424">
<circle cx="305.5" cy="78.8" r="0.8"/>
<circle cx="312.0" cy="79.6" r="0.8"/>
<circle cx="304.4" cy="74.3" r="0.8"/>
<circle cx="306.1" cy="130.5" r="0.8"/>
<circle cx="306.3" cy="64.4" r="0.8"/>
<circle cx="315.2" cy="81.9" r="0.8"/>
<circle cx="308.2" cy="144.7" r="0.8"/>
<circle cx="304.6" cy="135.6" r="0.8"/>
<circle cx="311.4" cy="131.3" r="0.8"/>
<circle cx="305.7" cy="151.7" r="0.8"/>
<circle cx="308.7" cy="77.8" r="0.8"/>
<circle cx="305.4" cy="76.3" r="0.8"/>
<circle cx="304.5" cy="159.0" r="0.8"/>
<circle cx="305.7" cy="67.5" r="0.8"/>
<circle cx="304.7" cy="143.2" r="0.8"/>
<circle cx="314.7" cy="131.6" r="0.8"/>
<circle cx="308.1" cy="68.8" r="0.8"/>
<circle cx="305.1" cy="133.0" r="0.8"/>
<circle cx="313.7" cy="128.1" r="0.8"/>
<circle cx="310.3" cy="71.9" r="0.8"/>
<circle cx="314.4" cy="78.3" r="0.8"/>
<circle cx="314.1" cy="133.7" r="0.8"/>
<circle cx="306.2" cy="71.7" r="0.8"/>
<circle cx="313.3" cy="83.2" r="0.8"/>
<circle cx="309.2" cy="136.8" r="0.8"/>
<circle cx="308.0" cy="81.5" r="0.8"/>
<circle cx="310.0" cy="147.2" r="0.8"/>
<circle cx="306.0" cy="140.3" r="0.8"/>
<circle cx="309.4" cy="139.6" r="0.8"/>
<circle cx="316.3" cy="129.8" r="0.8"/>
<circle cx="304.5" cy="148.1" r="0.8"/>
<circle cx="311.7" cy="141.8" r="0.8"/>
<circle cx="309.9" cy="75.3" r="0.8"/>
<circle cx="309.5" cy="130.0" r="0.8"/>
<circle cx="304.7" cy="82.1" r="0.8"/>
<circle cx="310.5" cy="144.8" r="0.8"/>
<circle cx="313.0" cy="137.2" r="0.8"/>
<circle cx="306.3" cy="154.9" r="0.8"/>
<circle cx="305.7" cy="145.3" r="0.8"/>
<circle cx="305.3" cy="60.5" r="0.8"/>
<circle cx="308.1" cy="134.7" r="0.8"/>
<circle cx="306.7" cy="74.1" r="0.8"/>
<circle cx="312.0" cy="139.7" r="0.8"/>
<circle cx="310.8" cy="135.0" r="0.8"/>
<circle cx="309.6" cy="127.8" r="0.8"/>
<circle cx="308.3" cy="150.8" r="0.8"/>
<circle cx="304.4" cy="70.3" r="0.8"/>
<circle cx="317.2" cy="82.9" r="0.8"/>
<circle cx="312.1" cy="73.4" r="0.8"/>
<circle cx="312.6" cy="76.2" r="0.8"/>
<circle cx="307.2" cy="147.1" r="0.8"/>
<circle cx="304.5" cy="138.5" r="0.8"/>
<circle cx="307.8" cy="66.5" r="0.8"/>
<circle cx="310.2" cy="81.9" r="0.8"/>
<circle cx="309.5" cy="142.8" r="0.8"/>
<circle cx="305.1" cy="156.9" r="0.8"/>
<circle cx="311.0" cy="77.6" r="0.8"/>
<circle cx="304.9" cy="62.6" r="0.8"/>
<circle cx="309.5" cy="132.4" r="0.8"/>
<circle cx="308.2" cy="72.6" r="0.8"/>
<circle cx="306.8" cy="138.0" r="0.8"/>
<circle cx="316.5" cy="127.3" r="0.8"/>
<circle cx="307.4" cy="128.5" r="0.8"/>
<circle cx="304.4" cy="153.6" r="0.8"/>
<circle cx="304.4" cy="129.0" r="0.8"/>
<circle cx="307.1" cy="142.7" r="0.8"/>
<circle cx="306.8" cy="149.2" r="0.8"/>
<circle cx="304.4" cy="65.6" r="0.8"/>
<circle cx="311.4" cy="129.0" r="0.8"/>
<circle cx="307.8" cy="153.1" r="0.8"/>
</g>
<circle cx="441.2" cy="74.2" r="1.1" fill="#484848"/><circle cx="468.3" cy="73.8" r="1.1" fill="#484848"/>
<text x="7.3" y="235.9" font-size="12.5" font-weight="bold" fill="#231f20" stroke="#231f20" stroke-width="0.22">C</text>
<text x="66.7" y="251.0" font-size="11" textLength="141.2" lengthAdjust="spacingAndGlyphs" font-weight="bold" font-style="italic" fill="#231f20" stroke="#231f20" stroke-width="0.22">1-2 vs 0 hours: PELO vs GFP</text>
<line x1="48.7" y1="255.0" x2="48.7" y2="391.4" stroke="#231f20" stroke-width="1.1"/>
<line x1="45.4" y1="259.1" x2="48.7" y2="259.1" stroke="#231f20" stroke-width="1"/>
<text x="41.0" y="262.3" font-size="9" text-anchor="end" fill="#231f20" stroke="#231f20" stroke-width="0.25">2</text>
<line x1="45.4" y1="291.2" x2="48.7" y2="291.2" stroke="#231f20" stroke-width="1"/>
<text x="41.0" y="294.4" font-size="9" text-anchor="end" fill="#231f20" stroke="#231f20" stroke-width="0.25">1</text>
<line x1="45.4" y1="323.3" x2="48.7" y2="323.3" stroke="#231f20" stroke-width="1"/>
<text x="41.0" y="326.5" font-size="9" text-anchor="end" fill="#231f20" stroke="#231f20" stroke-width="0.25">0</text>
<line x1="45.4" y1="355.40000000000003" x2="48.7" y2="355.40000000000003" stroke="#231f20" stroke-width="1"/>
<text x="41.0" y="358.6" font-size="9" text-anchor="end" fill="#231f20" stroke="#231f20" stroke-width="0.25">-1</text>
<line x1="45.4" y1="387.5" x2="48.7" y2="387.5" stroke="#231f20" stroke-width="1"/>
<text x="41.0" y="390.7" font-size="9" text-anchor="end" fill="#231f20" stroke="#231f20" stroke-width="0.25">-2</text>
<text transform="translate(30.2,324) rotate(-90)" font-size="11" text-anchor="middle" textLength="130" lengthAdjust="spacingAndGlyphs" fill="#231f20" stroke="#231f20" stroke-width="0.25">log2FoldChange (PELO vs GFP)</text>
<line x1="58.7" y1="392.8" x2="219.6" y2="392.8" stroke="#231f20" stroke-width="1.1"/>
<line x1="61.2" y1="392.8" x2="61.2" y2="395.4" stroke="#231f20" stroke-width="1"/>
<line x1="87.2" y1="392.8" x2="87.2" y2="395.4" stroke="#231f20" stroke-width="1"/>
<line x1="113.2" y1="392.8" x2="113.2" y2="395.4" stroke="#231f20" stroke-width="1"/>
<line x1="139.2" y1="392.8" x2="139.2" y2="395.4" stroke="#231f20" stroke-width="1"/>
<line x1="165.2" y1="392.8" x2="165.2" y2="395.4" stroke="#231f20" stroke-width="1"/>
<line x1="191.2" y1="392.8" x2="191.2" y2="395.4" stroke="#231f20" stroke-width="1"/>
<line x1="217.2" y1="392.8" x2="217.2" y2="395.4" stroke="#231f20" stroke-width="1"/>
<text x="61.2" y="406.4" font-size="8.8" text-anchor="middle" fill="#231f20" stroke="#231f20" stroke-width="0.25">8</text>
<text x="87.2" y="406.4" font-size="8.8" text-anchor="middle" fill="#231f20" stroke="#231f20" stroke-width="0.25">10</text>
<text x="113.2" y="406.4" font-size="8.8" text-anchor="middle" fill="#231f20" stroke="#231f20" stroke-width="0.25">12</text>
<text x="139.2" y="406.4" font-size="8.8" text-anchor="middle" fill="#231f20" stroke="#231f20" stroke-width="0.25">14</text>
<text x="165.2" y="406.4" font-size="8.8" text-anchor="middle" fill="#231f20" stroke="#231f20" stroke-width="0.25">16</text>
<text x="191.2" y="406.4" font-size="8.8" text-anchor="middle" fill="#231f20" stroke="#231f20" stroke-width="0.25">18</text>
<text x="217.2" y="406.4" font-size="8.8" text-anchor="middle" fill="#231f20" stroke="#231f20" stroke-width="0.25">20</text>
<text x="94" y="420.0" font-size="11" textLength="89.3" lengthAdjust="spacingAndGlyphs" fill="#231f20" stroke="#231f20" stroke-width="0.25">Mean expression level</text>
<defs><linearGradient id="cg" x1="64" y1="0" x2="162" y2="0" gradientUnits="userSpaceOnUse"><stop offset="0" stop-color="#c7c7cb"/><stop offset="0.55" stop-color="#cacace"/><stop offset="0.8" stop-color="#d6d6da"/><stop offset="1" stop-color="#e8e8ea"/></linearGradient></defs>
<path d="M64.3,306.5 L75,307.5 L90,309 L105,310.3 L120,312 L135,314 L148,317 L156,319.5 L162,322 L156,326 L148,328.5 L135,331.5 L120,334.5 L105,337 L90,339 L75,340.5 L64.3,341.5 Z" fill="url(#cg)"/>
<g fill="#d4d4d8">
<circle cx="123.8" cy="334.1" r="0.7"/>
<circle cx="137.4" cy="334.7" r="0.7"/>
<circle cx="65.8" cy="303.1" r="0.7"/>
<circle cx="156.9" cy="318.1" r="0.7"/>
<circle cx="106.6" cy="305.6" r="0.7"/>
<circle cx="64.9" cy="305.6" r="0.7"/>
<circle cx="87.0" cy="338.3" r="0.7"/>
<circle cx="144.3" cy="315.3" r="0.7"/>
<circle cx="123.2" cy="307.4" r="0.7"/>
<circle cx="80.4" cy="307.3" r="0.7"/>
<circle cx="167.1" cy="327.8" r="0.7"/>
<circle cx="114.3" cy="302.8" r="0.7"/>
<circle cx="80.0" cy="340.8" r="0.7"/>
<circle cx="156.1" cy="312.9" r="0.7"/>
<circle cx="95.2" cy="307.6" r="0.7"/>
<circle cx="89.2" cy="307.1" r="0.7"/>
<circle cx="64.4" cy="305.3" r="0.7"/>
<circle cx="146.9" cy="315.5" r="0.7"/>
<circle cx="90.6" cy="307.7" r="0.7"/>
<circle cx="166.2" cy="320.4" r="0.7"/>
<circle cx="138.6" cy="333.7" r="0.7"/>
<circle cx="95.8" cy="307.7" r="0.7"/>
<circle cx="64.7" cy="303.8" r="0.7"/>
<circle cx="79.2" cy="343.0" r="0.7"/>
<circle cx="160.5" cy="328.6" r="0.7"/>
<circle cx="112.7" cy="335.8" r="0.7"/>
<circle cx="71.6" cy="341.4" r="0.7"/>
<circle cx="66.3" cy="344.2" r="0.7"/>
<circle cx="70.2" cy="302.4" r="0.7"/>
<circle cx="93.1" cy="339.7" r="0.7"/>
<circle cx="115.0" cy="308.6" r="0.7"/>
<circle cx="69.2" cy="305.3" r="0.7"/>
<circle cx="131.5" cy="332.2" r="0.7"/>
<circle cx="167.6" cy="320.8" r="0.7"/>
<circle cx="99.9" cy="304.4" r="0.7"/>
<circle cx="105.2" cy="306.0" r="0.7"/>
<circle cx="67.6" cy="342.9" r="0.7"/>
<circle cx="149.3" cy="317.2" r="0.7"/>
<circle cx="136.5" cy="333.1" r="0.7"/>
<circle cx="71.5" cy="303.5" r="0.7"/>
<circle cx="75.0" cy="340.5" r="0.7"/>
<circle cx="169.2" cy="328.2" r="0.7"/>
<circle cx="166.3" cy="317.1" r="0.7"/>
<circle cx="107.7" cy="308.6" r="0.7"/>
<circle cx="99.7" cy="302.9" r="0.7"/>
<circle cx="164.3" cy="315.4" r="0.7"/>
<circle cx="109.9" cy="307.3" r="0.7"/>
<circle cx="142.5" cy="331.0" r="0.7"/>
<circle cx="95.3" cy="337.5" r="0.7"/>
<circle cx="128.5" cy="334.8" r="0.7"/>
<circle cx="95.5" cy="307.6" r="0.7"/>
<circle cx="141.0" cy="313.3" r="0.7"/>
<circle cx="88.5" cy="339.3" r="0.7"/>
<circle cx="64.8" cy="303.8" r="0.7"/>
<circle cx="84.3" cy="302.9" r="0.7"/>
<circle cx="126.6" cy="333.3" r="0.7"/>
<circle cx="93.9" cy="307.8" r="0.7"/>
<circle cx="94.1" cy="340.2" r="0.7"/>
<circle cx="153.1" cy="312.2" r="0.7"/>
<circle cx="112.0" cy="308.2" r="0.7"/>
<circle cx="76.5" cy="341.4" r="0.7"/>
<circle cx="131.7" cy="313.2" r="0.7"/>
<circle cx="136.3" cy="314.6" r="0.7"/>
<circle cx="128.7" cy="310.4" r="0.7"/>
<circle cx="123.9" cy="334.7" r="0.7"/>
<circle cx="65.7" cy="303.4" r="0.7"/>
<circle cx="103.6" cy="307.9" r="0.7"/>
<circle cx="124.7" cy="309.1" r="0.7"/>
<circle cx="106.9" cy="307.5" r="0.7"/>
<circle cx="90.8" cy="307.5" r="0.7"/>
<circle cx="78.9" cy="304.8" r="0.7"/>
<circle cx="122.5" cy="312.0" r="0.7"/>
<circle cx="83.0" cy="340.5" r="0.7"/>
<circle cx="86.9" cy="307.7" r="0.7"/>
<circle cx="72.1" cy="340.7" r="0.7"/>
<circle cx="122.7" cy="312.0" r="0.7"/>
<circle cx="115.0" cy="303.6" r="0.7"/>
<circle cx="146.9" cy="314.2" r="0.7"/>
<circle cx="146.2" cy="316.3" r="0.7"/>
<circle cx="120.7" cy="311.1" r="0.7"/>
<circle cx="163.9" cy="328.4" r="0.7"/>
<circle cx="156.0" cy="317.7" r="0.7"/>
<circle cx="71.6" cy="305.8" r="0.7"/>
<circle cx="124.5" cy="333.5" r="0.7"/>
<circle cx="96.7" cy="308.0" r="0.7"/>
<circle cx="165.8" cy="319.0" r="0.7"/>
<circle cx="164.4" cy="328.2" r="0.7"/>
<circle cx="166.9" cy="320.2" r="0.7"/>
<circle cx="100.9" cy="305.5" r="0.7"/>
<circle cx="87.7" cy="307.5" r="0.7"/>
<circle cx="72.7" cy="304.9" r="0.7"/>
<circle cx="142.4" cy="330.8" r="0.7"/>
<circle cx="64.9" cy="305.6" r="0.7"/>
<circle cx="142.5" cy="310.5" r="0.7"/>
<circle cx="85.9" cy="305.5" r="0.7"/>
<circle cx="122.1" cy="312.3" r="0.7"/>
<circle cx="126.3" cy="313.2" r="0.7"/>
<circle cx="139.9" cy="314.7" r="0.7"/>
<circle cx="113.7" cy="308.3" r="0.7"/>
<circle cx="106.1" cy="305.7" r="0.7"/>
<circle cx="138.1" cy="313.7" r="0.7"/>
<circle cx="105.2" cy="335.9" r="0.7"/>
<circle cx="155.3" cy="314.6" r="0.7"/>
<circle cx="102.2" cy="308.2" r="0.7"/>
<circle cx="133.7" cy="309.0" r="0.7"/>
<circle cx="97.7" cy="307.7" r="0.7"/>
<circle cx="150.9" cy="316.8" r="0.7"/>
<circle cx="68.3" cy="343.8" r="0.7"/>
<circle cx="132.1" cy="313.4" r="0.7"/>
<circle cx="158.1" cy="315.2" r="0.7"/>
<circle cx="107.6" cy="306.6" r="0.7"/>
<circle cx="75.4" cy="307.1" r="0.7"/>
<circle cx="146.1" cy="316.6" r="0.7"/>
<circle cx="143.6" cy="312.0" r="0.7"/>
<circle cx="65.6" cy="347.0" r="0.7"/>
<circle cx="132.9" cy="313.3" r="0.7"/>
<circle cx="149.7" cy="314.0" r="0.7"/>
<circle cx="134.2" cy="309.8" r="0.7"/>
<circle cx="88.3" cy="339.4" r="0.7"/>
<circle cx="100.7" cy="305.6" r="0.7"/>
<circle cx="123.7" cy="310.8" r="0.7"/>
<circle cx="68.8" cy="305.1" r="0.7"/>
<circle cx="118.4" cy="334.4" r="0.7"/>
<circle cx="102.6" cy="307.6" r="0.7"/>
<circle cx="121.2" cy="309.9" r="0.7"/>
<circle cx="67.6" cy="305.7" r="0.7"/>
<circle cx="75.2" cy="301.4" r="0.7"/>
<circle cx="116.1" cy="309.1" r="0.7"/>
<circle cx="85.5" cy="307.6" r="0.7"/>
<circle cx="111.9" cy="304.8" r="0.7"/>
<circle cx="82.7" cy="307.4" r="0.7"/>
<circle cx="134.3" cy="313.2" r="0.7"/>
<circle cx="69.8" cy="305.7" r="0.7"/>
<circle cx="120.5" cy="311.4" r="0.7"/>
<circle cx="154.0" cy="316.7" r="0.7"/>
<circle cx="65.8" cy="343.8" r="0.7"/>
<circle cx="67.4" cy="302.9" r="0.7"/>
<circle cx="81.7" cy="306.3" r="0.7"/>
<circle cx="165.9" cy="320.6" r="0.7"/>
<circle cx="124.0" cy="311.5" r="0.7"/>
<circle cx="82.8" cy="305.7" r="0.7"/>
<circle cx="97.8" cy="306.8" r="0.7"/>
<circle cx="148.4" cy="316.7" r="0.7"/>
<circle cx="150.9" cy="315.6" r="0.7"/>
<circle cx="120.3" cy="311.9" r="0.7"/>
<circle cx="70.7" cy="304.2" r="0.7"/>
<circle cx="79.7" cy="305.1" r="0.7"/>
<circle cx="139.9" cy="314.1" r="0.7"/>
<circle cx="106.8" cy="336.7" r="0.7"/>
<circle cx="106.3" cy="306.9" r="0.7"/>
<circle cx="75.5" cy="305.3" r="0.7"/>
<circle cx="154.4" cy="317.1" r="0.7"/>
<circle cx="84.6" cy="306.5" r="0.7"/>
<circle cx="82.8" cy="305.7" r="0.7"/>
<circle cx="66.0" cy="343.8" r="0.7"/>
<circle cx="131.3" cy="309.8" r="0.7"/>
<circle cx="106.9" cy="337.2" r="0.7"/>
<circle cx="88.2" cy="305.2" r="0.7"/>
<circle cx="136.2" cy="315.1" r="0.7"/>
<circle cx="82.3" cy="306.9" r="0.7"/>
<circle cx="99.4" cy="337.4" r="0.7"/>
<circle cx="106.5" cy="307.1" r="0.7"/>
<circle cx="136.6" cy="314.3" r="0.7"/>
<circle cx="129.5" cy="333.2" r="0.7"/>
<circle cx="126.4" cy="313.0" r="0.7"/>
<circle cx="68.0" cy="341.0" r="0.7"/>
<circle cx="100.3" cy="301.0" r="0.7"/>
<circle cx="112.1" cy="306.8" r="0.7"/>
<circle cx="70.4" cy="304.4" r="0.7"/>
<circle cx="161.3" cy="318.5" r="0.7"/>
<circle cx="83.6" cy="306.8" r="0.7"/>
<circle cx="84.7" cy="307.1" r="0.7"/>
<circle cx="89.6" cy="301.1" r="0.7"/>
<circle cx="77.7" cy="305.6" r="0.7"/>
<circle cx="99.5" cy="306.5" r="0.7"/>
<circle cx="71.6" cy="305.8" r="0.7"/>
<circle cx="159.5" cy="318.8" r="0.7"/>
<circle cx="65.1" cy="305.1" r="0.7"/>
<circle cx="108.5" cy="306.3" r="0.7"/>
<circle cx="135.8" cy="332.9" r="0.7"/>
<circle cx="89.8" cy="307.0" r="0.7"/>
<circle cx="72.2" cy="305.3" r="0.7"/>
<circle cx="70.0" cy="341.3" r="0.7"/>
<circle cx="73.4" cy="305.0" r="0.7"/>
<circle cx="83.7" cy="304.5" r="0.7"/>
<circle cx="83.8" cy="306.1" r="0.7"/>
<circle cx="132.8" cy="313.9" r="0.7"/>
<circle cx="96.5" cy="306.2" r="0.7"/>
<circle cx="101.4" cy="308.5" r="0.7"/>
<circle cx="156.3" cy="316.0" r="0.7"/>
<circle cx="139.8" cy="311.5" r="0.7"/>
<circle cx="127.5" cy="333.5" r="0.7"/>
<circle cx="136.0" cy="314.7" r="0.7"/>
<circle cx="97.4" cy="303.6" r="0.7"/>
<circle cx="68.3" cy="306.4" r="0.7"/>
<circle cx="87.6" cy="303.9" r="0.7"/>
<circle cx="140.3" cy="315.2" r="0.7"/>
<circle cx="73.4" cy="306.9" r="0.7"/>
<circle cx="151.9" cy="329.9" r="0.7"/>
<circle cx="102.3" cy="307.4" r="0.7"/>
<circle cx="92.1" cy="303.8" r="0.7"/>
<circle cx="135.9" cy="312.7" r="0.7"/>
<circle cx="113.3" cy="308.5" r="0.7"/>
<circle cx="161.6" cy="329.3" r="0.7"/>
<circle cx="72.4" cy="304.5" r="0.7"/>
<circle cx="102.9" cy="307.2" r="0.7"/>
<circle cx="140.7" cy="334.7" r="0.7"/>
<circle cx="120.7" cy="310.7" r="0.7"/>
<circle cx="146.4" cy="310.5" r="0.7"/>
<circle cx="66.0" cy="304.3" r="0.7"/>
<circle cx="108.0" cy="336.1" r="0.7"/>
<circle cx="86.8" cy="306.6" r="0.7"/>
<circle cx="116.9" cy="309.4" r="0.7"/>
<circle cx="94.3" cy="306.2" r="0.7"/>
<circle cx="167.1" cy="328.1" r="0.7"/>
<circle cx="99.4" cy="305.5" r="0.7"/>
<circle cx="148.5" cy="316.2" r="0.7"/>
<circle cx="70.8" cy="306.5" r="0.7"/>
<circle cx="156.9" cy="318.7" r="0.7"/>
<circle cx="130.7" cy="333.4" r="0.7"/>
<circle cx="123.8" cy="333.2" r="0.7"/>
<circle cx="111.3" cy="308.8" r="0.7"/>
<circle cx="78.1" cy="307.0" r="0.7"/>
<circle cx="90.3" cy="307.4" r="0.7"/>
<circle cx="107.4" cy="302.9" r="0.7"/>
<circle cx="146.5" cy="332.4" r="0.7"/>
<circle cx="131.9" cy="309.8" r="0.7"/>
<circle cx="95.4" cy="307.1" r="0.7"/>
<circle cx="130.3" cy="313.8" r="0.7"/>
<circle cx="69.9" cy="305.8" r="0.7"/>
<circle cx="119.0" cy="334.0" r="0.7"/>
<circle cx="160.4" cy="317.9" r="0.7"/>
<circle cx="134.6" cy="314.8" r="0.7"/>
<circle cx="163.9" cy="329.7" r="0.7"/>
<circle cx="131.3" cy="332.1" r="0.7"/>
<circle cx="80.3" cy="303.8" r="0.7"/>
<circle cx="156.4" cy="316.1" r="0.7"/>
<circle cx="98.6" cy="307.9" r="0.7"/>
<circle cx="98.2" cy="305.2" r="0.7"/>
<circle cx="158.1" cy="315.0" r="0.7"/>
<circle cx="97.9" cy="307.1" r="0.7"/>
<circle cx="134.5" cy="311.8" r="0.7"/>
<circle cx="155.2" cy="318.3" r="0.7"/>
<circle cx="123.7" cy="334.2" r="0.7"/>
<circle cx="76.6" cy="307.0" r="0.7"/>
<circle cx="68.1" cy="304.9" r="0.7"/>
<circle cx="148.3" cy="329.7" r="0.7"/>
<circle cx="101.9" cy="305.9" r="0.7"/>
<circle cx="157.4" cy="318.8" r="0.7"/>
<circle cx="165.1" cy="317.5" r="0.7"/>
<circle cx="65.9" cy="303.3" r="0.7"/>
<circle cx="78.1" cy="305.9" r="0.7"/>
<circle cx="120.6" cy="310.6" r="0.7"/>
<circle cx="68.0" cy="302.8" r="0.7"/>
<circle cx="148.8" cy="330.7" r="0.7"/>
<circle cx="126.4" cy="335.5" r="0.7"/>
<circle cx="82.2" cy="305.9" r="0.7"/>
<circle cx="71.0" cy="304.4" r="0.7"/>
<circle cx="75.7" cy="305.0" r="0.7"/>
<circle cx="71.3" cy="342.3" r="0.7"/>
<circle cx="137.0" cy="332.0" r="0.7"/>
<circle cx="159.8" cy="330.2" r="0.7"/>
<circle cx="124.0" cy="333.6" r="0.7"/>
<circle cx="68.2" cy="306.0" r="0.7"/>
<circle cx="96.6" cy="306.5" r="0.7"/>
<circle cx="69.7" cy="302.9" r="0.7"/>
<circle cx="114.8" cy="306.7" r="0.7"/>
<circle cx="96.6" cy="305.9" r="0.7"/>
<circle cx="109.5" cy="335.6" r="0.7"/>
<circle cx="139.8" cy="330.9" r="0.7"/>
<circle cx="88.7" cy="305.4" r="0.7"/>
<circle cx="137.1" cy="331.3" r="0.7"/>
<circle cx="97.4" cy="304.3" r="0.7"/>
<circle cx="143.3" cy="316.6" r="0.7"/>
<circle cx="88.7" cy="306.0" r="0.7"/>
<circle cx="67.2" cy="304.1" r="0.7"/>
<circle cx="83.0" cy="305.7" r="0.7"/>
<circle cx="70.6" cy="305.9" r="0.7"/>
<circle cx="167.4" cy="316.9" r="0.7"/>
<circle cx="70.3" cy="302.9" r="0.7"/>
<circle cx="145.9" cy="316.9" r="0.7"/>
<circle cx="65.1" cy="304.1" r="0.7"/>
<circle cx="105.5" cy="307.9" r="0.7"/>
<circle cx="81.2" cy="339.1" r="0.7"/>
<circle cx="103.8" cy="306.9" r="0.7"/>
<circle cx="163.6" cy="319.7" r="0.7"/>
<circle cx="110.9" cy="305.5" r="0.7"/>
<circle cx="102.9" cy="305.8" r="0.7"/>
<circle cx="157.1" cy="319.0" r="0.7"/>
<circle cx="65.5" cy="341.7" r="0.7"/>
<circle cx="100.7" cy="337.9" r="0.7"/>
<circle cx="97.0" cy="340.0" r="0.7"/>
<circle cx="139.4" cy="332.4" r="0.7"/>
<circle cx="101.6" cy="338.4" r="0.7"/>
<circle cx="168.6" cy="319.9" r="0.7"/>
<circle cx="106.7" cy="307.9" r="0.7"/>
<circle cx="128.8" cy="312.4" r="0.7"/>
<circle cx="68.9" cy="304.2" r="0.7"/>
<circle cx="156.5" cy="328.4" r="0.7"/>
<circle cx="148.1" cy="329.8" r="0.7"/>
<circle cx="121.1" cy="311.7" r="0.7"/>
<circle cx="161.5" cy="314.5" r="0.7"/>
<circle cx="78.1" cy="306.8" r="0.7"/>
<circle cx="96.4" cy="339.6" r="0.7"/>
<circle cx="75.2" cy="303.1" r="0.7"/>
<circle cx="70.1" cy="306.2" r="0.7"/>
<circle cx="126.2" cy="311.2" r="0.7"/>
<circle cx="119.1" cy="335.0" r="0.7"/>
<circle cx="83.3" cy="307.3" r="0.7"/>
<circle cx="136.4" cy="312.0" r="0.7"/>
<circle cx="107.9" cy="304.4" r="0.7"/>
<circle cx="101.3" cy="308.3" r="0.7"/>
<circle cx="122.4" cy="335.0" r="0.7"/>
<circle cx="66.4" cy="305.6" r="0.7"/>
<circle cx="93.7" cy="307.3" r="0.7"/>
<circle cx="127.5" cy="334.1" r="0.7"/>
<circle cx="96.2" cy="306.9" r="0.7"/>
<circle cx="163.0" cy="331.1" r="0.7"/>
<circle cx="89.2" cy="306.9" r="0.7"/>
<circle cx="104.4" cy="336.0" r="0.7"/>
<circle cx="113.2" cy="307.2" r="0.7"/>
<circle cx="115.7" cy="334.8" r="0.7"/>
<circle cx="74.1" cy="303.7" r="0.7"/>
<circle cx="80.2" cy="307.3" r="0.7"/>
<circle cx="67.9" cy="305.9" r="0.7"/>
<circle cx="165.2" cy="319.8" r="0.7"/>
<circle cx="86.7" cy="338.4" r="0.7"/>
<circle cx="148.2" cy="315.6" r="0.7"/>
<circle cx="98.1" cy="308.3" r="0.7"/>
<circle cx="153.9" cy="316.8" r="0.7"/>
<circle cx="156.5" cy="318.7" r="0.7"/>
<circle cx="137.4" cy="314.8" r="0.7"/>
<circle cx="64.7" cy="305.2" r="0.7"/>
<circle cx="153.3" cy="315.9" r="0.7"/>
<circle cx="119.9" cy="308.9" r="0.7"/>
<circle cx="122.6" cy="309.0" r="0.7"/>
<circle cx="162.9" cy="317.0" r="0.7"/>
<circle cx="70.4" cy="305.3" r="0.7"/>
<circle cx="105.7" cy="305.5" r="0.7"/>
<circle cx="68.6" cy="304.1" r="0.7"/>
<circle cx="149.9" cy="317.9" r="0.7"/>
<circle cx="88.9" cy="305.8" r="0.7"/>
<circle cx="139.6" cy="313.5" r="0.7"/>
<circle cx="75.5" cy="305.4" r="0.7"/>
<circle cx="85.5" cy="338.7" r="0.7"/>
<circle cx="94.4" cy="307.1" r="0.7"/>
<circle cx="101.9" cy="307.6" r="0.7"/>
<circle cx="74.1" cy="305.7" r="0.7"/>
<circle cx="131.2" cy="309.1" r="0.7"/>
<circle cx="74.7" cy="304.5" r="0.7"/>
<circle cx="109.3" cy="306.3" r="0.7"/>
<circle cx="128.4" cy="311.7" r="0.7"/>
<circle cx="142.7" cy="330.5" r="0.7"/>
<circle cx="85.1" cy="306.4" r="0.7"/>
<circle cx="155.6" cy="316.6" r="0.7"/>
<circle cx="163.8" cy="318.1" r="0.7"/>
<circle cx="141.0" cy="313.3" r="0.7"/>
<circle cx="150.0" cy="315.8" r="0.7"/>
<circle cx="67.2" cy="342.8" r="0.7"/>
<circle cx="135.6" cy="312.7" r="0.7"/>
<circle cx="100.1" cy="307.7" r="0.7"/>
<circle cx="134.7" cy="314.4" r="0.7"/>
<circle cx="153.1" cy="318.1" r="0.7"/>
<circle cx="162.2" cy="328.5" r="0.7"/>
<circle cx="156.4" cy="317.1" r="0.7"/>
<circle cx="81.9" cy="305.8" r="0.7"/>
<circle cx="117.2" cy="307.0" r="0.7"/>
<circle cx="160.9" cy="328.9" r="0.7"/>
<circle cx="106.3" cy="308.7" r="0.7"/>
<circle cx="114.1" cy="308.0" r="0.7"/>
<circle cx="167.7" cy="319.6" r="0.7"/>
<circle cx="115.6" cy="334.7" r="0.7"/>
<circle cx="102.2" cy="302.8" r="0.7"/>
<circle cx="97.4" cy="307.8" r="0.7"/>
<circle cx="159.1" cy="318.6" r="0.7"/>
<circle cx="74.2" cy="304.1" r="0.7"/>
<circle cx="161.7" cy="314.9" r="0.7"/>
<circle cx="118.2" cy="307.4" r="0.7"/>
<circle cx="87.5" cy="338.3" r="0.7"/>
<circle cx="139.7" cy="313.0" r="0.7"/>
<circle cx="73.7" cy="305.6" r="0.7"/>
<circle cx="71.1" cy="343.0" r="0.7"/>
<circle cx="73.7" cy="304.6" r="0.7"/>
<circle cx="123.4" cy="334.0" r="0.7"/>
<circle cx="76.2" cy="304.5" r="0.7"/>
<circle cx="84.4" cy="305.5" r="0.7"/>
<circle cx="67.4" cy="343.0" r="0.7"/>
<circle cx="92.7" cy="305.0" r="0.7"/>
<circle cx="125.7" cy="309.0" r="0.7"/>
<circle cx="87.3" cy="303.6" r="0.7"/>
<circle cx="154.0" cy="316.4" r="0.7"/>
<circle cx="166.3" cy="320.0" r="0.7"/>
<circle cx="127.5" cy="332.5" r="0.7"/>
<circle cx="162.2" cy="320.3" r="0.7"/>
<circle cx="151.1" cy="313.9" r="0.7"/>
<circle cx="129.9" cy="311.6" r="0.7"/>
<circle cx="136.5" cy="314.4" r="0.7"/>
<circle cx="144.2" cy="313.3" r="0.7"/>
<circle cx="109.4" cy="307.8" r="0.7"/>
<circle cx="149.1" cy="313.5" r="0.7"/>
<circle cx="113.9" cy="307.9" r="0.7"/>
<circle cx="166.1" cy="327.7" r="0.7"/>
<circle cx="83.1" cy="339.7" r="0.7"/>
<circle cx="126.3" cy="311.2" r="0.7"/>
<circle cx="86.5" cy="305.8" r="0.7"/>
<circle cx="137.9" cy="312.7" r="0.7"/>
<circle cx="103.0" cy="308.4" r="0.7"/>
<circle cx="120.8" cy="335.0" r="0.7"/>
<circle cx="104.0" cy="306.8" r="0.7"/>
<circle cx="149.6" cy="317.1" r="0.7"/>
<circle cx="67.7" cy="306.6" r="0.7"/>
<circle cx="105.4" cy="307.5" r="0.7"/>
<circle cx="145.0" cy="316.4" r="0.7"/>
<circle cx="144.1" cy="330.2" r="0.7"/>
<circle cx="123.9" cy="334.9" r="0.7"/>
<circle cx="150.8" cy="315.5" r="0.7"/>
<circle cx="65.3" cy="342.4" r="0.7"/>
<circle cx="68.3" cy="306.6" r="0.7"/>
<circle cx="70.9" cy="305.3" r="0.7"/>
<circle cx="64.4" cy="305.5" r="0.7"/>
<circle cx="89.1" cy="338.7" r="0.7"/>
<circle cx="163.5" cy="328.0" r="0.7"/>
<circle cx="131.5" cy="312.0" r="0.7"/>
<circle cx="100.2" cy="306.8" r="0.7"/>
<circle cx="105.2" cy="336.8" r="0.7"/>
<circle cx="130.7" cy="335.0" r="0.7"/>
<circle cx="153.2" cy="329.2" r="0.7"/>
<circle cx="128.0" cy="311.0" r="0.7"/>
<circle cx="154.7" cy="317.4" r="0.7"/>
<circle cx="91.8" cy="307.4" r="0.7"/>
<circle cx="130.6" cy="332.7" r="0.7"/>
<circle cx="149.5" cy="314.9" r="0.7"/>
<circle cx="70.5" cy="305.9" r="0.7"/>
<circle cx="87.9" cy="306.7" r="0.7"/>
<circle cx="75.0" cy="306.9" r="0.7"/>
<circle cx="115.5" cy="334.3" r="0.7"/>
<circle cx="148.7" cy="316.8" r="0.7"/>
<circle cx="75.1" cy="306.6" r="0.7"/>
<circle cx="67.8" cy="306.6" r="0.7"/>
<circle cx="145.0" cy="314.0" r="0.7"/>
<circle cx="159.1" cy="318.3" r="0.7"/>
<circle cx="102.1" cy="308.2" r="0.7"/>
<circle cx="147.4" cy="316.2" r="0.7"/>
<circle cx="68.7" cy="302.1" r="0.7"/>
<circle cx="81.3" cy="306.5" r="0.7"/>
<circle cx="136.3" cy="314.6" r="0.7"/>
<circle cx="91.1" cy="337.9" r="0.7"/>
<circle cx="130.1" cy="311.8" r="0.7"/>
<circle cx="112.1" cy="305.5" r="0.7"/>
<circle cx="125.3" cy="308.6" r="0.7"/>
<circle cx="111.4" cy="307.7" r="0.7"/>
<circle cx="86.9" cy="307.2" r="0.7"/>
<circle cx="68.7" cy="306.7" r="0.7"/>
<circle cx="70.2" cy="304.7" r="0.7"/>
<circle cx="160.7" cy="318.2" r="0.7"/>
<circle cx="162.4" cy="319.1" r="0.7"/>
<circle cx="93.3" cy="306.9" r="0.7"/>
<circle cx="70.8" cy="342.2" r="0.7"/>
<circle cx="91.9" cy="303.0" r="0.7"/>
<circle cx="67.8" cy="305.2" r="0.7"/>
<circle cx="87.6" cy="306.4" r="0.7"/>
<circle cx="93.8" cy="305.4" r="0.7"/>
<circle cx="150.2" cy="314.4" r="0.7"/>
<circle cx="122.9" cy="311.4" r="0.7"/>
<circle cx="102.0" cy="303.6" r="0.7"/>
<circle cx="89.7" cy="305.9" r="0.7"/>
<circle cx="121.6" cy="311.0" r="0.7"/>
<circle cx="136.7" cy="312.8" r="0.7"/>
<circle cx="71.6" cy="340.9" r="0.7"/>
<circle cx="69.5" cy="306.2" r="0.7"/>
<circle cx="87.5" cy="305.0" r="0.7"/>
<circle cx="76.1" cy="306.5" r="0.7"/>
<circle cx="132.0" cy="311.4" r="0.7"/>
<circle cx="123.4" cy="335.5" r="0.7"/>
<circle cx="77.5" cy="305.7" r="0.7"/>
<circle cx="71.8" cy="342.5" r="0.7"/>
<circle cx="96.2" cy="340.5" r="0.7"/>
<circle cx="98.2" cy="338.0" r="0.7"/>
<circle cx="168.9" cy="321.7" r="0.7"/>
<circle cx="105.4" cy="304.6" r="0.7"/>
<circle cx="77.1" cy="304.8" r="0.7"/>
<circle cx="84.7" cy="306.5" r="0.7"/>
<circle cx="103.2" cy="306.6" r="0.7"/>
<circle cx="66.2" cy="341.6" r="0.7"/>
<circle cx="128.0" cy="310.2" r="0.7"/>
<circle cx="110.4" cy="334.9" r="0.7"/>
<circle cx="142.1" cy="314.5" r="0.7"/>
<circle cx="76.1" cy="341.7" r="0.7"/>
<circle cx="66.9" cy="306.2" r="0.7"/>
<circle cx="66.9" cy="303.5" r="0.7"/>
<circle cx="167.9" cy="327.0" r="0.7"/>
<circle cx="66.0" cy="303.8" r="0.7"/>
<circle cx="78.8" cy="339.9" r="0.7"/>
<circle cx="68.3" cy="304.9" r="0.7"/>
<circle cx="168.7" cy="329.3" r="0.7"/>
<circle cx="142.5" cy="314.1" r="0.7"/>
<circle cx="76.7" cy="305.7" r="0.7"/>
<circle cx="135.1" cy="314.4" r="0.7"/>
<circle cx="64.7" cy="303.6" r="0.7"/>
<circle cx="136.2" cy="333.8" r="0.7"/>
<circle cx="158.3" cy="317.1" r="0.7"/>
<circle cx="87.3" cy="305.5" r="0.7"/>
<circle cx="85.1" cy="306.9" r="0.7"/>
<circle cx="83.9" cy="306.8" r="0.7"/>
<circle cx="163.9" cy="318.6" r="0.7"/>
<circle cx="120.3" cy="308.4" r="0.7"/>
<circle cx="98.5" cy="305.0" r="0.7"/>
<circle cx="143.5" cy="312.9" r="0.7"/>
<circle cx="75.0" cy="305.5" r="0.7"/>
<circle cx="64.5" cy="305.6" r="0.7"/>
<circle cx="82.2" cy="305.7" r="0.7"/>
<circle cx="87.3" cy="340.0" r="0.7"/>
<circle cx="80.1" cy="340.8" r="0.7"/>
<circle cx="133.3" cy="333.1" r="0.7"/>
<circle cx="108.6" cy="336.9" r="0.7"/>
<circle cx="69.3" cy="303.9" r="0.7"/>
<circle cx="106.3" cy="305.3" r="0.7"/>
<circle cx="93.7" cy="305.7" r="0.7"/>
<circle cx="112.4" cy="335.3" r="0.7"/>
<circle cx="121.8" cy="309.2" r="0.7"/>
<circle cx="90.3" cy="304.5" r="0.7"/>
<circle cx="126.3" cy="312.6" r="0.7"/>
<circle cx="104.2" cy="308.3" r="0.7"/>
<circle cx="160.4" cy="318.9" r="0.7"/>
<circle cx="109.9" cy="307.0" r="0.7"/>
<circle cx="76.1" cy="306.7" r="0.7"/>
<circle cx="158.0" cy="317.2" r="0.7"/>
<circle cx="124.0" cy="309.6" r="0.7"/>
<circle cx="82.2" cy="305.3" r="0.7"/>
<circle cx="84.9" cy="305.9" r="0.7"/>
<circle cx="108.4" cy="306.9" r="0.7"/>
<circle cx="107.5" cy="305.3" r="0.7"/>
<circle cx="141.1" cy="330.9" r="0.7"/>
<circle cx="110.6" cy="308.5" r="0.7"/>
<circle cx="92.2" cy="305.6" r="0.7"/>
<circle cx="122.8" cy="309.9" r="0.7"/>
<circle cx="160.0" cy="319.0" r="0.7"/>
<circle cx="82.4" cy="303.6" r="0.7"/>
<circle cx="123.5" cy="312.7" r="0.7"/>
<circle cx="109.1" cy="307.1" r="0.7"/>
<circle cx="135.4" cy="335.1" r="0.7"/>
<circle cx="103.8" cy="307.4" r="0.7"/>
<circle cx="168.2" cy="320.2" r="0.7"/>
<circle cx="69.7" cy="344.6" r="0.7"/>
<circle cx="127.1" cy="312.2" r="0.7"/>
<circle cx="74.8" cy="302.1" r="0.7"/>
<circle cx="122.9" cy="308.1" r="0.7"/>
<circle cx="148.1" cy="316.4" r="0.7"/>
<circle cx="102.0" cy="338.6" r="0.7"/>
<circle cx="92.4" cy="338.4" r="0.7"/>
<circle cx="113.5" cy="305.8" r="0.7"/>
<circle cx="134.4" cy="333.9" r="0.7"/>
<circle cx="109.3" cy="307.1" r="0.7"/>
<circle cx="67.1" cy="342.8" r="0.7"/>
<circle cx="90.9" cy="306.3" r="0.7"/>
<circle cx="160.4" cy="319.6" r="0.7"/>
<circle cx="88.9" cy="338.1" r="0.7"/>
<circle cx="117.6" cy="336.3" r="0.7"/>
<circle cx="107.5" cy="308.7" r="0.7"/>
<circle cx="64.3" cy="304.0" r="0.7"/>
<circle cx="75.0" cy="306.4" r="0.7"/>
<circle cx="94.5" cy="302.0" r="0.7"/>
<circle cx="88.4" cy="306.5" r="0.7"/>
<circle cx="112.6" cy="309.0" r="0.7"/>
<circle cx="74.6" cy="341.4" r="0.7"/>
<circle cx="140.6" cy="314.4" r="0.7"/>
<circle cx="153.6" cy="318.0" r="0.7"/>
<circle cx="156.2" cy="319.0" r="0.7"/>
<circle cx="64.4" cy="302.4" r="0.7"/>
<circle cx="137.1" cy="331.3" r="0.7"/>
<circle cx="64.5" cy="300.9" r="0.7"/>
<circle cx="157.8" cy="318.3" r="0.7"/>
<circle cx="167.7" cy="321.2" r="0.7"/>
<circle cx="102.1" cy="307.6" r="0.7"/>
<circle cx="104.9" cy="305.9" r="0.7"/>
<circle cx="89.8" cy="338.4" r="0.7"/>
<circle cx="83.7" cy="306.0" r="0.7"/>
<circle cx="168.9" cy="320.6" r="0.7"/>
<circle cx="112.6" cy="307.7" r="0.7"/>
<circle cx="95.8" cy="305.4" r="0.7"/>
<circle cx="65.8" cy="306.3" r="0.7"/>
<circle cx="129.8" cy="313.7" r="0.7"/>
<circle cx="82.6" cy="305.7" r="0.7"/>
<circle cx="151.0" cy="318.1" r="0.7"/>
<circle cx="68.5" cy="304.1" r="0.7"/>
<circle cx="88.2" cy="305.6" r="0.7"/>
<circle cx="66.9" cy="343.3" r="0.7"/>
<circle cx="67.2" cy="305.2" r="0.7"/>
<circle cx="149.1" cy="317.3" r="0.7"/>
<circle cx="68.2" cy="304.9" r="0.7"/>
<circle cx="77.8" cy="302.8" r="0.7"/>
<circle cx="109.1" cy="337.2" r="0.7"/>
<circle cx="73.7" cy="341.4" r="0.7"/>
<circle cx="155.1" cy="316.8" r="0.7"/>
<circle cx="166.8" cy="317.0" r="0.7"/>
<circle cx="161.1" cy="329.1" r="0.7"/>
<circle cx="68.9" cy="303.6" r="0.7"/>
<circle cx="130.5" cy="309.4" r="0.7"/>
<circle cx="93.8" cy="307.2" r="0.7"/>
<circle cx="111.8" cy="307.5" r="0.7"/>
<circle cx="85.8" cy="304.4" r="0.7"/>
<circle cx="138.9" cy="331.5" r="0.7"/>
<circle cx="65.9" cy="342.1" r="0.7"/>
<circle cx="137.4" cy="331.7" r="0.7"/>
<circle cx="122.9" cy="312.1" r="0.7"/>
<circle cx="79.0" cy="304.6" r="0.7"/>
<circle cx="71.9" cy="300.8" r="0.7"/>
<circle cx="93.9" cy="306.2" r="0.7"/>
<circle cx="87.0" cy="339.2" r="0.7"/>
<circle cx="154.9" cy="328.6" r="0.7"/>
<circle cx="66.9" cy="306.0" r="0.7"/>
<circle cx="95.0" cy="304.5" r="0.7"/>
<circle cx="89.3" cy="304.9" r="0.7"/>
<circle cx="130.5" cy="314.0" r="0.7"/>
<circle cx="162.6" cy="319.0" r="0.7"/>
<circle cx="123.7" cy="306.9" r="0.7"/>
<circle cx="143.4" cy="315.7" r="0.7"/>
<circle cx="75.7" cy="304.6" r="0.7"/>
<circle cx="131.2" cy="314.2" r="0.7"/>
<circle cx="65.4" cy="306.0" r="0.7"/>
<circle cx="94.9" cy="305.6" r="0.7"/>
<circle cx="132.9" cy="309.5" r="0.7"/>
<circle cx="167.9" cy="318.3" r="0.7"/>
<circle cx="87.8" cy="339.3" r="0.7"/>
<circle cx="122.3" cy="309.3" r="0.7"/>
<circle cx="87.8" cy="304.0" r="0.7"/>
<circle cx="137.1" cy="315.2" r="0.7"/>
<circle cx="166.6" cy="319.0" r="0.7"/>
<circle cx="106.9" cy="307.7" r="0.7"/>
<circle cx="69.1" cy="305.1" r="0.7"/>
<circle cx="119.2" cy="305.9" r="0.7"/>
<circle cx="151.1" cy="329.4" r="0.7"/>
<circle cx="109.6" cy="306.5" r="0.7"/>
<circle cx="139.9" cy="315.5" r="0.7"/>
<circle cx="72.8" cy="342.9" r="0.7"/>
<circle cx="115.3" cy="308.6" r="0.7"/>
<circle cx="118.5" cy="306.6" r="0.7"/>
<circle cx="94.0" cy="305.1" r="0.7"/>
<circle cx="146.5" cy="329.9" r="0.7"/>
<circle cx="73.5" cy="341.8" r="0.7"/>
<circle cx="81.0" cy="306.7" r="0.7"/>
<circle cx="64.4" cy="304.5" r="0.7"/>
<circle cx="143.5" cy="314.8" r="0.7"/>
<circle cx="136.4" cy="315.1" r="0.7"/>
<circle cx="118.9" cy="309.1" r="0.7"/>
<circle cx="122.0" cy="335.3" r="0.7"/>
<circle cx="121.6" cy="310.2" r="0.7"/>
<circle cx="100.1" cy="305.5" r="0.7"/>
<circle cx="130.7" cy="312.6" r="0.7"/>
<circle cx="95.0" cy="307.8" r="0.7"/>
<circle cx="127.6" cy="312.6" r="0.7"/>
<circle cx="94.2" cy="338.5" r="0.7"/>
<circle cx="130.3" cy="313.6" r="0.7"/>
<circle cx="114.0" cy="334.6" r="0.7"/>
<circle cx="154.3" cy="317.7" r="0.7"/>
<circle cx="161.2" cy="317.2" r="0.7"/>
<circle cx="128.6" cy="311.4" r="0.7"/>
<circle cx="98.2" cy="308.2" r="0.7"/>
<circle cx="130.8" cy="313.3" r="0.7"/>
<circle cx="78.7" cy="340.2" r="0.7"/>
<circle cx="109.8" cy="335.7" r="0.7"/>
<circle cx="96.0" cy="338.0" r="0.7"/>
<circle cx="78.8" cy="341.2" r="0.7"/>
<circle cx="85.7" cy="340.1" r="0.7"/>
<circle cx="157.5" cy="318.8" r="0.7"/>
<circle cx="163.8" cy="317.3" r="0.7"/>
<circle cx="75.0" cy="306.5" r="0.7"/>
<circle cx="64.3" cy="305.9" r="0.7"/>
<circle cx="84.9" cy="304.7" r="0.7"/>
<circle cx="129.9" cy="312.5" r="0.7"/>
<circle cx="119.1" cy="308.7" r="0.7"/>
<circle cx="125.5" cy="309.8" r="0.7"/>
<circle cx="147.4" cy="313.5" r="0.7"/>
<circle cx="148.8" cy="314.3" r="0.7"/>
<circle cx="156.1" cy="316.7" r="0.7"/>
<circle cx="96.8" cy="305.1" r="0.7"/>
<circle cx="140.4" cy="314.0" r="0.7"/>
<circle cx="95.5" cy="337.3" r="0.7"/>
<circle cx="106.0" cy="301.6" r="0.7"/>
<circle cx="77.4" cy="306.6" r="0.7"/>
<circle cx="136.2" cy="311.4" r="0.7"/>
<circle cx="86.4" cy="307.1" r="0.7"/>
<circle cx="79.9" cy="304.7" r="0.7"/>
<circle cx="156.2" cy="318.5" r="0.7"/>
<circle cx="158.8" cy="319.1" r="0.7"/>
<circle cx="90.7" cy="338.4" r="0.7"/>
<circle cx="95.3" cy="339.5" r="0.7"/>
<circle cx="78.1" cy="306.7" r="0.7"/>
<circle cx="76.6" cy="306.4" r="0.7"/>
<circle cx="130.4" cy="312.7" r="0.7"/>
<circle cx="88.2" cy="307.0" r="0.7"/>
<circle cx="103.4" cy="307.6" r="0.7"/>
<circle cx="112.5" cy="308.9" r="0.7"/>
<circle cx="151.4" cy="330.3" r="0.7"/>
<circle cx="160.5" cy="317.4" r="0.7"/>
<circle cx="154.9" cy="317.7" r="0.7"/>
<circle cx="114.5" cy="309.1" r="0.7"/>
<circle cx="154.8" cy="316.5" r="0.7"/>
<circle cx="102.3" cy="308.3" r="0.7"/>
<circle cx="96.2" cy="305.6" r="0.7"/>
<circle cx="71" cy="261.6" r="0.75"/>
<circle cx="79" cy="263.8" r="0.75"/>
<circle cx="82.6" cy="262.8" r="0.75"/>
<circle cx="96.4" cy="288.5" r="0.75"/>
<circle cx="88" cy="296" r="0.75"/>
<circle cx="110" cy="292" r="0.75"/>
<circle cx="130" cy="285" r="0.75"/>
<circle cx="145" cy="290" r="0.75"/>
<circle cx="75" cy="289" r="0.75"/>
<circle cx="100" cy="295" r="0.75"/>
<circle cx="120" cy="298" r="0.75"/>
<circle cx="140" cy="300" r="0.75"/>
<circle cx="160" cy="306" r="0.75"/>
<circle cx="170" cy="312" r="0.75"/>
<circle cx="175" cy="318" r="0.75"/>
<circle cx="180" cy="322" r="0.75"/>
</g>
<line x1="48.7" y1="323.3" x2="235.0" y2="323.3" stroke="#231f20" stroke-width="1.1" stroke-dasharray="2.6,2"/>
<g fill="#a23434" stroke="#5a1e1e" stroke-width="0.5">
<circle cx="67.3" cy="329.5" r="1.45"/>
<circle cx="123.2" cy="331.6" r="1.45"/>
<circle cx="107.6" cy="330.4" r="1.45"/>
<circle cx="126.0" cy="327.4" r="1.45"/>
<circle cx="113.6" cy="328.5" r="1.45"/>
<circle cx="122.4" cy="331.3" r="1.45"/>
<circle cx="99.6" cy="330.5" r="1.45"/>
<circle cx="106.2" cy="330.6" r="1.45"/>
<circle cx="95.8" cy="341.6" r="1.45"/>
<circle cx="125.8" cy="327.0" r="1.45"/>
<circle cx="123.1" cy="331.5" r="1.45"/>
<circle cx="87.0" cy="333.4" r="1.45"/>
<circle cx="115.8" cy="329.4" r="1.45"/>
<circle cx="72.9" cy="333.4" r="1.45"/>
<circle cx="81.8" cy="334.4" r="1.45"/>
<circle cx="110.9" cy="332.4" r="1.45"/>
<circle cx="78.4" cy="335.4" r="1.45"/>
<circle cx="74.7" cy="336.9" r="1.45"/>
<circle cx="116.2" cy="328.2" r="1.45"/>
<circle cx="109.8" cy="327.5" r="1.45"/>
<circle cx="110.1" cy="331.2" r="1.45"/>
<circle cx="89.4" cy="335.4" r="1.45"/>
<circle cx="90.1" cy="335.1" r="1.45"/>
<circle cx="114.2" cy="329.9" r="1.45"/>
<circle cx="104.2" cy="333.3" r="1.45"/>
<circle cx="101.1" cy="332.9" r="1.45"/>
<circle cx="113.6" cy="331.4" r="1.45"/>
<circle cx="89.2" cy="334.8" r="1.45"/>
<circle cx="94.1" cy="327.8" r="1.45"/>
<circle cx="102.9" cy="334.6" r="1.45"/>
<circle cx="83.4" cy="331.8" r="1.45"/>
<circle cx="76.5" cy="336.2" r="1.45"/>
<circle cx="90.1" cy="336.1" r="1.45"/>
<circle cx="118.2" cy="332.3" r="1.45"/>
<circle cx="120.0" cy="328.9" r="1.45"/>
<circle cx="100.0" cy="330.8" r="1.45"/>
<circle cx="99.8" cy="333.5" r="1.45"/>
<circle cx="96.3" cy="335.1" r="1.45"/>
<circle cx="78.6" cy="329.4" r="1.45"/>
<circle cx="104.8" cy="333.5" r="1.45"/>
<circle cx="86.4" cy="333.4" r="1.45"/>
<circle cx="99.6" cy="335.6" r="1.45"/>
<circle cx="84.6" cy="330.9" r="1.45"/>
<circle cx="104.0" cy="332.4" r="1.45"/>
<circle cx="118.8" cy="328.8" r="1.45"/>
<circle cx="100.2" cy="334.3" r="1.45"/>
<circle cx="71.5" cy="345.3" r="1.45"/>
<circle cx="76" cy="344.2" r="1.45"/>
<circle cx="72" cy="323.8" r="1.45"/>
<circle cx="78" cy="324.8" r="1.45"/>
<circle cx="84.5" cy="326.8" r="1.45"/>
<circle cx="93" cy="327" r="1.45"/>
<circle cx="98" cy="326.5" r="1.45"/>
<circle cx="126" cy="331" r="1.45"/>
<circle cx="131" cy="330" r="1.45"/>
<circle cx="133.5" cy="330.5" r="1.45"/>
</g>
<g fill="#8fb04f" stroke="#5a6e2e" stroke-width="0.45">
<circle cx="152.3" cy="331.9" r="1.55"/>
<circle cx="142.8" cy="332.4" r="1.55"/>
<circle cx="160.4" cy="330.1" r="1.55"/>
<circle cx="159.3" cy="330.9" r="1.55"/>
<circle cx="141.4" cy="329.9" r="1.55"/>
<circle cx="143.4" cy="330.7" r="1.55"/>
<circle cx="156.1" cy="330.9" r="1.55"/>
<circle cx="148.5" cy="329.8" r="1.55"/>
<circle cx="163.8" cy="332.5" r="1.55"/>
<circle cx="155.1" cy="329.8" r="1.55"/>
<circle cx="177.1" cy="333.5" r="1.55"/>
<circle cx="151.0" cy="331.4" r="1.55"/>
<circle cx="145.5" cy="331.5" r="1.55"/>
<circle cx="171.0" cy="331.4" r="1.55"/>
<circle cx="146.9" cy="328.5" r="1.55"/>
<circle cx="154.2" cy="329.4" r="1.55"/>
<circle cx="160.8" cy="331.0" r="1.55"/>
<circle cx="147.8" cy="330.7" r="1.55"/>
<circle cx="165.9" cy="329.3" r="1.55"/>
<circle cx="162.3" cy="331.1" r="1.55"/>
<circle cx="157.2" cy="329.6" r="1.55"/>
<circle cx="166.6" cy="333.2" r="1.55"/>
<circle cx="149.3" cy="328.8" r="1.55"/>
<circle cx="173.3" cy="329.6" r="1.55"/>
<circle cx="167.7" cy="329.4" r="1.55"/>
<circle cx="144.5" cy="334.9" r="1.55"/>
<circle cx="155.9" cy="330.5" r="1.55"/>
<circle cx="158.6" cy="329.6" r="1.55"/>
<circle cx="141.5" cy="329.2" r="1.55"/>
<circle cx="161.8" cy="328.1" r="1.55"/>
<circle cx="173.3" cy="329.5" r="1.55"/>
<circle cx="162.6" cy="332.8" r="1.55"/>
<circle cx="162.0" cy="327.6" r="1.55"/>
<circle cx="175.9" cy="331.3" r="1.55"/>
<circle cx="158.0" cy="330.2" r="1.55"/>
<circle cx="166.7" cy="330.0" r="1.55"/>
<circle cx="164.6" cy="333.5" r="1.55"/>
<circle cx="150.8" cy="330.4" r="1.55"/>
<circle cx="154.7" cy="330.3" r="1.55"/>
<circle cx="157.5" cy="330.2" r="1.55"/>
<circle cx="146.4" cy="330.9" r="1.55"/>
<circle cx="169.2" cy="330.9" r="1.55"/>
<circle cx="144.9" cy="330.5" r="1.55"/>
<circle cx="173.1" cy="332.1" r="1.55"/>
<circle cx="143.1" cy="328.6" r="1.55"/>
<circle cx="173.6" cy="331.1" r="1.55"/>
<circle cx="171.1" cy="331.3" r="1.55"/>
<circle cx="155.8" cy="329.5" r="1.55"/>
<circle cx="153.6" cy="333.5" r="1.55"/>
<circle cx="145.7" cy="327.8" r="1.55"/>
<circle cx="146.7" cy="330.6" r="1.55"/>
<circle cx="158.4" cy="331.7" r="1.55"/>
<circle cx="162.4" cy="330.5" r="1.55"/>
<circle cx="155.9" cy="330.6" r="1.55"/>
<circle cx="154.0" cy="326.9" r="1.55"/>
<circle cx="166.2" cy="328.9" r="1.55"/>
<circle cx="159.6" cy="328.7" r="1.55"/>
<circle cx="142.1" cy="328.9" r="1.55"/>
<circle cx="174.2" cy="331.1" r="1.55"/>
<circle cx="170.3" cy="327.3" r="1.55"/>
<circle cx="154.9" cy="329.9" r="1.55"/>
<circle cx="164.1" cy="330.9" r="1.55"/>
<circle cx="142.4" cy="331.5" r="1.55"/>
<circle cx="146.2" cy="330.9" r="1.55"/>
<circle cx="152.9" cy="330.5" r="1.55"/>
<circle cx="145.7" cy="330.5" r="1.55"/>
<circle cx="143.9" cy="330.3" r="1.55"/>
<circle cx="173.2" cy="330.8" r="1.55"/>
<circle cx="163.3" cy="331.2" r="1.55"/>
<circle cx="153.2" cy="331.5" r="1.55"/>
<circle cx="131" cy="327" r="1.55"/>
<circle cx="139.5" cy="334" r="1.55"/>
<circle cx="170" cy="325.5" r="1.55"/>
<circle cx="177" cy="327.5" r="1.55"/>
<circle cx="180" cy="331.5" r="1.55"/>
</g>
<g fill="#596180" stroke="#2e3348" stroke-width="0.5">
<circle cx="108" cy="307.8" r="1.55"/>
<circle cx="114.5" cy="307.4" r="1.55"/>
<circle cx="118.5" cy="305.9" r="1.55"/>
<circle cx="122.5" cy="307.4" r="1.55"/>
<circle cx="120" cy="318" r="1.55"/>
<circle cx="136.6" cy="309.7" r="1.55"/>
<circle cx="160.5" cy="307.4" r="1.55"/>
<circle cx="164.6" cy="305.4" r="1.55"/>
<circle cx="151.8" cy="316.2" r="1.55"/>
<circle cx="198.5" cy="315.4" r="1.55"/>
<circle cx="216.3" cy="298.8" r="1.55"/>
<circle cx="215.5" cy="310.5" r="1.55"/>
</g>
<text x="60.8" y="373.8" font-size="9" textLength="46" lengthAdjust="spacingAndGlyphs" fill="#d5d5d8" stroke="#d5d5d8" stroke-width="0.25">all transcripts</text>
<text x="114.5" y="373.8" font-size="9" textLength="53.5" lengthAdjust="spacingAndGlyphs" fill="#333b68" stroke="#333b68" stroke-width="0.25">mito transcripts</text>
<text x="60.8" y="383.6" font-size="9" textLength="15" lengthAdjust="spacingAndGlyphs" fill="#a2aa66" stroke="#a2aa66" stroke-width="0.25">RPs</text>
<text x="82.2" y="383.6" font-size="9" textLength="29.3" lengthAdjust="spacingAndGlyphs" fill="#843038" stroke="#843038" stroke-width="0.25">histones</text>
<text x="274.2" y="236.1" font-size="12.5" font-weight="bold" fill="#231f20" stroke="#231f20" stroke-width="0.22">D</text>
<text x="296.0" y="251.8" font-size="11" textLength="69" lengthAdjust="spacingAndGlyphs" font-weight="bold" font-style="italic" fill="#231f20" stroke="#231f20" stroke-width="0.22">1-2 vs 0 hours</text>
<text x="418.0" y="251.8" font-size="11" textLength="69.7" lengthAdjust="spacingAndGlyphs" font-weight="bold" font-style="italic" fill="#231f20" stroke="#231f20" stroke-width="0.22">4-6 vs 0 hours</text>
<rect x="307.30" y="298.5" width="11.55" height="2.06" fill="#eaf0f6"/>
<rect x="318.80" y="298.5" width="11.55" height="2.06" fill="#d6e0f2"/>
<rect x="330.30" y="298.5" width="11.55" height="2.06" fill="#ecd68a"/>
<rect x="341.80" y="298.5" width="11.55" height="2.06" fill="#ecd68a"/>
<rect x="307.30" y="300.51" width="11.55" height="2.05" fill="#dfe8f6"/>
<rect x="318.80" y="300.51" width="11.55" height="2.05" fill="#c6d3ec"/>
<rect x="330.30" y="300.51" width="11.55" height="2.05" fill="#f4e3a0"/>
<rect x="341.80" y="300.51" width="11.55" height="2.05" fill="#f7eaae"/>
<rect x="307.30" y="302.51" width="11.55" height="2.06" fill="#dfe8f6"/>
<rect x="318.80" y="302.51" width="11.55" height="2.06" fill="#c2cfea"/>
<rect x="330.30" y="302.51" width="11.55" height="2.06" fill="#f5e6a5"/>
<rect x="341.80" y="302.51" width="11.55" height="2.06" fill="#f3e39f"/>
<rect x="307.30" y="304.52" width="11.55" height="2.05" fill="#dfe8f6"/>
<rect x="318.80" y="304.52" width="11.55" height="2.05" fill="#b6c5e4"/>
<rect x="330.30" y="304.52" width="11.55" height="2.05" fill="#f5e5a2"/>
<rect x="341.80" y="304.52" width="11.55" height="2.05" fill="#f5e6a5"/>
<rect x="307.30" y="306.52" width="11.55" height="2.06" fill="#eaf0f6"/>
<rect x="318.80" y="306.52" width="11.55" height="2.06" fill="#cbd7ee"/>
<rect x="330.30" y="306.52" width="11.55" height="2.06" fill="#f7e9aa"/>
<rect x="341.80" y="306.52" width="11.55" height="2.06" fill="#f7eaac"/>
<rect x="307.30" y="308.53" width="11.55" height="2.06" fill="#edf2f5"/>
<rect x="318.80" y="308.53" width="11.55" height="2.06" fill="#bfcde9"/>
<rect x="330.30" y="308.53" width="11.55" height="2.06" fill="#f7ebb1"/>
<rect x="341.80" y="308.53" width="11.55" height="2.06" fill="#f8ecb5"/>
<rect x="307.30" y="310.54" width="11.55" height="2.05" fill="#e5edf8"/>
<rect x="318.80" y="310.54" width="11.55" height="2.05" fill="#c4d1eb"/>
<rect x="330.30" y="310.54" width="11.55" height="2.05" fill="#f7eaad"/>
<rect x="341.80" y="310.54" width="11.55" height="2.05" fill="#f7e9aa"/>
<rect x="307.30" y="312.54" width="11.55" height="2.06" fill="#f1f4f4"/>
<rect x="318.80" y="312.54" width="11.55" height="2.06" fill="#ecf1f6"/>
<rect x="330.30" y="312.54" width="11.55" height="2.06" fill="#f7eaac"/>
<rect x="341.80" y="312.54" width="11.55" height="2.06" fill="#f9f1ca"/>
<rect x="307.30" y="314.55" width="11.55" height="2.05" fill="#ecf1f5"/>
<rect x="318.80" y="314.55" width="11.55" height="2.05" fill="#ecf1f6"/>
<rect x="330.30" y="314.55" width="11.55" height="2.05" fill="#f9f0c6"/>
<rect x="341.80" y="314.55" width="11.55" height="2.05" fill="#f9f2cf"/>
<rect x="307.30" y="316.55" width="11.55" height="2.06" fill="#edf2f5"/>
<rect x="318.80" y="316.55" width="11.55" height="2.06" fill="#e9f0f6"/>
<rect x="330.30" y="316.55" width="11.55" height="2.06" fill="#f8eebf"/>
<rect x="341.80" y="316.55" width="11.55" height="2.06" fill="#f9f1c9"/>
<rect x="307.30" y="318.56" width="11.55" height="2.06" fill="#f7f8f1"/>
<rect x="318.80" y="318.56" width="11.55" height="2.06" fill="#e9f0f6"/>
<rect x="330.30" y="318.56" width="11.55" height="2.06" fill="#f7eaae"/>
<rect x="341.80" y="318.56" width="11.55" height="2.06" fill="#faf6df"/>
<rect x="307.30" y="320.57" width="11.55" height="2.05" fill="#eff3f4"/>
<rect x="318.80" y="320.57" width="11.55" height="2.05" fill="#ecf1f6"/>
<rect x="330.30" y="320.57" width="11.55" height="2.05" fill="#f8edb8"/>
<rect x="341.80" y="320.57" width="11.55" height="2.05" fill="#f9f0c7"/>
<rect x="307.30" y="322.57" width="11.55" height="2.06" fill="#f0f4f4"/>
<rect x="318.80" y="322.57" width="11.55" height="2.06" fill="#e6eef8"/>
<rect x="330.30" y="322.57" width="11.55" height="2.06" fill="#f7ebb1"/>
<rect x="341.80" y="322.57" width="11.55" height="2.06" fill="#faf4d8"/>
<rect x="307.30" y="324.58" width="11.55" height="2.05" fill="#f4f6f3"/>
<rect x="318.80" y="324.58" width="11.55" height="2.05" fill="#e8eff7"/>
<rect x="330.30" y="324.58" width="11.55" height="2.05" fill="#f7ebb0"/>
<rect x="341.80" y="324.58" width="11.55" height="2.05" fill="#f9f1cc"/>
<rect x="307.30" y="326.58" width="11.55" height="2.06" fill="#f2f5f3"/>
<rect x="318.80" y="326.58" width="11.55" height="2.06" fill="#e7eef7"/>
<rect x="330.30" y="326.58" width="11.55" height="2.06" fill="#f7eaad"/>
<rect x="341.80" y="326.58" width="11.55" height="2.06" fill="#f9f2ce"/>
<rect x="307.30" y="328.59" width="11.55" height="2.06" fill="#f3f5f3"/>
<rect x="318.80" y="328.59" width="11.55" height="2.06" fill="#ebf1f6"/>
<rect x="330.30" y="328.59" width="11.55" height="2.06" fill="#f8ecb6"/>
<rect x="341.80" y="328.59" width="11.55" height="2.06" fill="#faf4d8"/>
<rect x="307.30" y="330.6" width="11.55" height="2.05" fill="#f2f4f3"/>
<rect x="318.80" y="330.6" width="11.55" height="2.05" fill="#ebf1f6"/>
<rect x="330.30" y="330.6" width="11.55" height="2.05" fill="#f6e7a6"/>
<rect x="341.80" y="330.6" width="11.55" height="2.05" fill="#f9f3d2"/>
<rect x="307.30" y="332.6" width="11.55" height="2.06" fill="#f1f4f4"/>
<rect x="318.80" y="332.6" width="11.55" height="2.06" fill="#d4dff1"/>
<rect x="330.30" y="332.6" width="11.55" height="2.06" fill="#f7e9aa"/>
<rect x="341.80" y="332.6" width="11.55" height="2.06" fill="#f7e9aa"/>
<rect x="307.30" y="334.61" width="11.55" height="2.05" fill="#f0f4f4"/>
<rect x="318.80" y="334.61" width="11.55" height="2.05" fill="#cdd9ef"/>
<rect x="330.30" y="334.61" width="11.55" height="2.05" fill="#f8ecb7"/>
<rect x="341.80" y="334.61" width="11.55" height="2.05" fill="#f7ebb1"/>
<rect x="307.30" y="336.61" width="11.55" height="2.06" fill="#f1f4f4"/>
<rect x="318.80" y="336.61" width="11.55" height="2.06" fill="#dae4f4"/>
<rect x="330.30" y="336.61" width="11.55" height="2.06" fill="#f5e5a3"/>
<rect x="341.80" y="336.61" width="11.55" height="2.06" fill="#f5e5a2"/>
<rect x="307.30" y="338.62" width="11.55" height="2.06" fill="#f2f5f3"/>
<rect x="318.80" y="338.62" width="11.55" height="2.06" fill="#d5e0f2"/>
<rect x="330.30" y="338.62" width="11.55" height="2.06" fill="#f7e9ab"/>
<rect x="341.80" y="338.62" width="11.55" height="2.06" fill="#f6e7a5"/>
<rect x="307.30" y="340.63" width="11.55" height="2.05" fill="#f4f6f3"/>
<rect x="318.80" y="340.63" width="11.55" height="2.05" fill="#cfdaef"/>
<rect x="330.30" y="340.63" width="11.55" height="2.05" fill="#f8ecb4"/>
<rect x="341.80" y="340.63" width="11.55" height="2.05" fill="#f1e09a"/>
<rect x="307.30" y="342.63" width="11.55" height="2.06" fill="#f4f6f3"/>
<rect x="318.80" y="342.63" width="11.55" height="2.06" fill="#f3f5f3"/>
<rect x="330.30" y="342.63" width="11.55" height="2.06" fill="#f7e9a8"/>
<rect x="341.80" y="342.63" width="11.55" height="2.06" fill="#f8efc1"/>
<rect x="307.30" y="344.64" width="11.55" height="2.05" fill="#f9f9f1"/>
<rect x="318.80" y="344.64" width="11.55" height="2.05" fill="#f5f6f2"/>
<rect x="330.30" y="344.64" width="11.55" height="2.05" fill="#f7eaaf"/>
<rect x="341.80" y="344.64" width="11.55" height="2.05" fill="#f7ebb1"/>
<rect x="307.30" y="346.64" width="11.55" height="2.06" fill="#f4f6f3"/>
<rect x="318.80" y="346.64" width="11.55" height="2.06" fill="#eef2f5"/>
<rect x="330.30" y="346.64" width="11.55" height="2.06" fill="#f7ebb1"/>
<rect x="341.80" y="346.64" width="11.55" height="2.06" fill="#f8ecb4"/>
<rect x="307.30" y="348.65" width="11.55" height="2.06" fill="#f6f7f2"/>
<rect x="318.80" y="348.65" width="11.55" height="2.06" fill="#f2f5f3"/>
<rect x="330.30" y="348.65" width="11.55" height="2.06" fill="#f7ebb0"/>
<rect x="341.80" y="348.65" width="11.55" height="2.06" fill="#f7eaab"/>
<rect x="307.30" y="350.66" width="11.55" height="2.05" fill="#f2f4f3"/>
<rect x="318.80" y="350.66" width="11.55" height="2.05" fill="#f2f5f3"/>
<rect x="330.30" y="350.66" width="11.55" height="2.05" fill="#f6e8a7"/>
<rect x="341.80" y="350.66" width="11.55" height="2.05" fill="#f8edba"/>
<rect x="307.30" y="352.66" width="11.55" height="2.06" fill="#eff3f4"/>
<rect x="318.80" y="352.66" width="11.55" height="2.06" fill="#eef2f5"/>
<rect x="330.30" y="352.66" width="11.55" height="2.06" fill="#f7eaae"/>
<rect x="341.80" y="352.66" width="11.55" height="2.06" fill="#f8ebb3"/>
<rect x="307.30" y="354.67" width="11.55" height="2.06" fill="#f7f7f2"/>
<rect x="318.80" y="354.67" width="11.55" height="2.06" fill="#edf2f5"/>
<rect x="330.30" y="354.67" width="11.55" height="2.06" fill="#f7ebb0"/>
<rect x="341.80" y="354.67" width="11.55" height="2.06" fill="#f7ebb1"/>
<rect x="307.30" y="356.68" width="11.55" height="2.05" fill="#f3f5f3"/>
<rect x="318.80" y="356.68" width="11.55" height="2.05" fill="#e9f0f6"/>
<rect x="330.30" y="356.68" width="11.55" height="2.05" fill="#f7e9a9"/>
<rect x="341.80" y="356.68" width="11.55" height="2.05" fill="#f5e6a3"/>
<rect x="307.30" y="358.68" width="11.55" height="2.06" fill="#f6f7f2"/>
<rect x="318.80" y="358.68" width="11.55" height="2.06" fill="#edf2f5"/>
<rect x="330.30" y="358.68" width="11.55" height="2.06" fill="#f8ecb4"/>
<rect x="341.80" y="358.68" width="11.55" height="2.06" fill="#f8ecb5"/>
<rect x="307.30" y="360.69" width="11.55" height="2.05" fill="#f9f9f1"/>
<rect x="318.80" y="360.69" width="11.55" height="2.05" fill="#f2f5f3"/>
<rect x="330.30" y="360.69" width="11.55" height="2.05" fill="#f7eaaf"/>
<rect x="341.80" y="360.69" width="11.55" height="2.05" fill="#f7e9a9"/>
<rect x="307.30" y="362.69" width="11.55" height="2.06" fill="#f3f5f3"/>
<rect x="318.80" y="362.69" width="11.55" height="2.06" fill="#f5f7f2"/>
<rect x="330.30" y="362.69" width="11.55" height="2.06" fill="#f8ecb6"/>
<rect x="341.80" y="362.69" width="11.55" height="2.06" fill="#f8edbb"/>
<rect x="307.30" y="364.7" width="11.55" height="2.06" fill="#f5f6f2"/>
<rect x="318.80" y="364.7" width="11.55" height="2.06" fill="#f4f6f3"/>
<rect x="330.30" y="364.7" width="11.55" height="2.06" fill="#f7e9aa"/>
<rect x="341.80" y="364.7" width="11.55" height="2.06" fill="#f8ecb5"/>
<rect x="307.30" y="366.71" width="11.55" height="2.05" fill="#eff3f4"/>
<rect x="318.80" y="366.71" width="11.55" height="2.05" fill="#eef2f5"/>
<rect x="330.30" y="366.71" width="11.55" height="2.05" fill="#f8ecb6"/>
<rect x="341.80" y="366.71" width="11.55" height="2.05" fill="#f8eebc"/>
<rect x="307.30" y="368.71" width="11.55" height="2.06" fill="#f5f6f2"/>
<rect x="318.80" y="368.71" width="11.55" height="2.06" fill="#eff3f4"/>
<rect x="330.30" y="368.71" width="11.55" height="2.06" fill="#f7e9a9"/>
<rect x="341.80" y="368.71" width="11.55" height="2.06" fill="#f8ecb6"/>
<rect x="307.30" y="370.72" width="11.55" height="2.05" fill="#f3f5f3"/>
<rect x="318.80" y="370.72" width="11.55" height="2.05" fill="#f0f4f4"/>
<rect x="330.30" y="370.72" width="11.55" height="2.05" fill="#f7eaac"/>
<rect x="341.80" y="370.72" width="11.55" height="2.05" fill="#f7ebb0"/>
<rect x="307.30" y="372.72" width="11.55" height="2.06" fill="#f2f5f3"/>
<rect x="318.80" y="372.72" width="11.55" height="2.06" fill="#eff3f4"/>
<rect x="330.30" y="372.72" width="11.55" height="2.06" fill="#f8eebc"/>
<rect x="341.80" y="372.72" width="11.55" height="2.06" fill="#f7e9a9"/>
<rect x="307.30" y="374.73" width="11.55" height="2.06" fill="#f6f7f2"/>
<rect x="318.80" y="374.73" width="11.55" height="2.06" fill="#f0f3f4"/>
<rect x="330.30" y="374.73" width="11.55" height="2.06" fill="#f8ecb4"/>
<rect x="341.80" y="374.73" width="11.55" height="2.06" fill="#f8efc2"/>
<rect x="307.30" y="376.74" width="11.55" height="2.05" fill="#f4f6f3"/>
<rect x="318.80" y="376.74" width="11.55" height="2.05" fill="#f1f4f4"/>
<rect x="330.30" y="376.74" width="11.55" height="2.05" fill="#f3e39e"/>
<rect x="341.80" y="376.74" width="11.55" height="2.05" fill="#f8ecb5"/>
<rect x="307.30" y="378.74" width="11.55" height="2.06" fill="#f2f4f3"/>
<rect x="318.80" y="378.74" width="11.55" height="2.06" fill="#e9f0f6"/>
<rect x="330.30" y="378.74" width="11.55" height="2.06" fill="#f5e6a4"/>
<rect x="341.80" y="378.74" width="11.55" height="2.06" fill="#f8ecb6"/>
<rect x="307.30" y="380.75" width="11.55" height="2.05" fill="#f0f3f4"/>
<rect x="318.80" y="380.75" width="11.55" height="2.05" fill="#f0f4f4"/>
<rect x="330.30" y="380.75" width="11.55" height="2.05" fill="#f8eebe"/>
<rect x="341.80" y="380.75" width="11.55" height="2.05" fill="#f2e09a"/>
<rect x="307.30" y="382.75" width="11.55" height="2.06" fill="#f6f7f2"/>
<rect x="318.80" y="382.75" width="11.55" height="2.06" fill="#f2f4f3"/>
<rect x="330.30" y="382.75" width="11.55" height="2.06" fill="#f7ebb2"/>
<rect x="341.80" y="382.75" width="11.55" height="2.06" fill="#f9f1ca"/>
<rect x="307.30" y="384.76" width="11.55" height="2.06" fill="#f3f5f3"/>
<rect x="318.80" y="384.76" width="11.55" height="2.06" fill="#ecf1f6"/>
<rect x="330.30" y="384.76" width="11.55" height="2.06" fill="#f7e9ab"/>
<rect x="341.80" y="384.76" width="11.55" height="2.06" fill="#f9f1ca"/>
<rect x="307.30" y="386.77" width="11.55" height="2.05" fill="#f1f4f4"/>
<rect x="318.80" y="386.77" width="11.55" height="2.05" fill="#f3f5f3"/>
<rect x="330.30" y="386.77" width="11.55" height="2.05" fill="#f5e5a2"/>
<rect x="341.80" y="386.77" width="11.55" height="2.05" fill="#f8efc2"/>
<rect x="307.30" y="388.77" width="11.55" height="2.06" fill="#e6cd7a"/>
<rect x="318.80" y="388.77" width="11.55" height="2.06" fill="#bb8c4e"/>
<rect x="330.30" y="388.77" width="11.55" height="2.06" fill="#f8ecb7"/>
<rect x="341.80" y="388.77" width="11.55" height="2.06" fill="#f9f0c5"/>
<rect x="307.30" y="390.78" width="11.55" height="2.05" fill="#e6cd7a"/>
<rect x="318.80" y="390.78" width="11.55" height="2.05" fill="#bb8c4e"/>
<rect x="330.30" y="390.78" width="11.55" height="2.05" fill="#f8ecb7"/>
<rect x="341.80" y="390.78" width="11.55" height="2.05" fill="#f9f0c5"/>
<rect x="307.30" y="392.78" width="11.55" height="2.06" fill="#edd98f"/>
<rect x="318.80" y="392.78" width="11.55" height="2.06" fill="#ecd78b"/>
<rect x="330.30" y="392.78" width="11.55" height="2.06" fill="#f2f5f3"/>
<rect x="341.80" y="392.78" width="11.55" height="2.06" fill="#f6f7f2"/>
<rect x="307.30" y="394.79" width="11.55" height="2.06" fill="#ebd587"/>
<rect x="318.80" y="394.79" width="11.55" height="2.06" fill="#f1e09a"/>
<rect x="330.30" y="394.79" width="11.55" height="2.06" fill="#edf2f5"/>
<rect x="341.80" y="394.79" width="11.55" height="2.06" fill="#f6f7f2"/>
<rect x="307.30" y="396.8" width="11.55" height="2.05" fill="#e3c876"/>
<rect x="318.80" y="396.8" width="11.55" height="2.05" fill="#edd88d"/>
<rect x="330.30" y="396.8" width="11.55" height="2.05" fill="#f5f6f2"/>
<rect x="341.80" y="396.8" width="11.55" height="2.05" fill="#f8f8f1"/>
<rect x="307.30" y="398.8" width="11.55" height="2.06" fill="#e9d182"/>
<rect x="318.80" y="398.8" width="11.55" height="2.06" fill="#f2e19c"/>
<rect x="330.30" y="398.8" width="11.55" height="2.06" fill="#f0f3f4"/>
<rect x="341.80" y="398.8" width="11.55" height="2.06" fill="#f5f6f2"/>
<rect x="307.30" y="400.81" width="11.55" height="2.05" fill="#eedb91"/>
<rect x="318.80" y="400.81" width="11.55" height="2.05" fill="#edd88d"/>
<rect x="330.30" y="400.81" width="11.55" height="2.05" fill="#f3f5f3"/>
<rect x="341.80" y="400.81" width="11.55" height="2.05" fill="#faf9f1"/>
<rect x="307.30" y="402.81" width="11.55" height="2.06" fill="#e3c875"/>
<rect x="318.80" y="402.81" width="11.55" height="2.06" fill="#eedb91"/>
<rect x="330.30" y="402.81" width="11.55" height="2.06" fill="#eef3f5"/>
<rect x="341.80" y="402.81" width="11.55" height="2.06" fill="#f8f8f1"/>
<rect x="307.30" y="404.82" width="11.55" height="2.06" fill="#ead384"/>
<rect x="318.80" y="404.82" width="11.55" height="2.06" fill="#f3e29e"/>
<rect x="330.30" y="404.82" width="11.55" height="2.06" fill="#ecf1f5"/>
<rect x="341.80" y="404.82" width="11.55" height="2.06" fill="#f4f6f2"/>
<rect x="307.30" y="406.83" width="11.55" height="2.05" fill="#e8d180"/>
<rect x="318.80" y="406.83" width="11.55" height="2.05" fill="#efdb92"/>
<rect x="330.30" y="406.83" width="11.55" height="2.05" fill="#eff3f4"/>
<rect x="341.80" y="406.83" width="11.55" height="2.05" fill="#fbfaf0"/>
<rect x="307.30" y="408.83" width="11.55" height="2.06" fill="#e8d07f"/>
<rect x="318.80" y="408.83" width="11.55" height="2.06" fill="#edd98e"/>
<rect x="330.30" y="408.83" width="11.55" height="2.06" fill="#f3f5f3"/>
<rect x="341.80" y="408.83" width="11.55" height="2.06" fill="#f6f7f2"/>
<rect x="307.30" y="410.84" width="11.55" height="2.05" fill="#efdc93"/>
<rect x="318.80" y="410.84" width="11.55" height="2.05" fill="#edd88c"/>
<rect x="330.30" y="410.84" width="11.55" height="2.05" fill="#eef3f5"/>
<rect x="341.80" y="410.84" width="11.55" height="2.05" fill="#fbfaf0"/>
<rect x="307.30" y="412.84" width="11.55" height="2.06" fill="#e7cf7d"/>
<rect x="318.80" y="412.84" width="11.55" height="2.06" fill="#ecd68a"/>
<rect x="330.30" y="412.84" width="11.55" height="2.06" fill="#f2f4f3"/>
<rect x="341.80" y="412.84" width="11.55" height="2.06" fill="#f3f5f3"/>
<rect x="307.30" y="414.85" width="11.55" height="2.06" fill="#e6cd7a"/>
<rect x="318.80" y="414.85" width="11.55" height="2.06" fill="#f1e099"/>
<rect x="330.30" y="414.85" width="11.55" height="2.06" fill="#eef3f5"/>
<rect x="341.80" y="414.85" width="11.55" height="2.06" fill="#f7f7f2"/>
<rect x="307.30" y="416.86" width="11.55" height="2.05" fill="#e5cc79"/>
<rect x="318.80" y="416.86" width="11.55" height="2.05" fill="#ecd78b"/>
<rect x="330.30" y="416.86" width="11.55" height="2.05" fill="#f2f5f3"/>
<rect x="341.80" y="416.86" width="11.55" height="2.05" fill="#f4f6f3"/>
<rect x="307.30" y="418.86" width="11.55" height="2.06" fill="#eeda8f"/>
<rect x="318.80" y="418.86" width="11.55" height="2.06" fill="#e1c573"/>
<rect x="330.30" y="418.86" width="11.55" height="2.06" fill="#f2f5f3"/>
<rect x="341.80" y="418.86" width="11.55" height="2.06" fill="#f9f9f1"/>
<rect x="307.30" y="420.87" width="11.55" height="2.05" fill="#ecd78b"/>
<rect x="318.80" y="420.87" width="11.55" height="2.05" fill="#d2ae5e"/>
<rect x="330.30" y="420.87" width="11.55" height="2.05" fill="#f2f5f3"/>
<rect x="341.80" y="420.87" width="11.55" height="2.05" fill="#f9f9f1"/>
<rect x="307.30" y="422.87" width="11.55" height="2.06" fill="#eedb91"/>
<rect x="318.80" y="422.87" width="11.55" height="2.06" fill="#d3b061"/>
<rect x="330.30" y="422.87" width="11.55" height="2.06" fill="#f2f5f3"/>
<rect x="341.80" y="422.87" width="11.55" height="2.06" fill="#f9f9f1"/>
<rect x="307.30" y="424.88" width="11.55" height="2.06" fill="#ebd587"/>
<rect x="318.80" y="424.88" width="11.55" height="2.06" fill="#cfaa5c"/>
<rect x="330.30" y="424.88" width="11.55" height="2.06" fill="#f2f5f3"/>
<rect x="341.80" y="424.88" width="11.55" height="2.06" fill="#f9f9f1"/>
<rect x="307.30" y="426.89" width="11.55" height="2.05" fill="#e4ca78"/>
<rect x="318.80" y="426.89" width="11.55" height="2.05" fill="#e7cf7d"/>
<rect x="330.30" y="426.89" width="11.55" height="2.05" fill="#f0f4f4"/>
<rect x="341.80" y="426.89" width="11.55" height="2.05" fill="#f7f7f2"/>
<rect x="307.30" y="428.89" width="11.55" height="2.06" fill="#ebd588"/>
<rect x="318.80" y="428.89" width="11.55" height="2.06" fill="#f2e19b"/>
<rect x="330.30" y="428.89" width="11.55" height="2.06" fill="#eef3f5"/>
<rect x="341.80" y="428.89" width="11.55" height="2.06" fill="#fbfaee"/>
<rect x="307.30" y="430.9" width="11.55" height="2.05" fill="#e4ca77"/>
<rect x="318.80" y="430.9" width="11.55" height="2.05" fill="#efdd94"/>
<rect x="330.30" y="430.9" width="11.55" height="2.05" fill="#f0f4f4"/>
<rect x="341.80" y="430.9" width="11.55" height="2.05" fill="#f8f8f1"/>
<rect x="307.30" y="432.9" width="11.55" height="2.06" fill="#e8d07e"/>
<rect x="318.80" y="432.9" width="11.55" height="2.06" fill="#f0dd95"/>
<rect x="330.30" y="432.9" width="11.55" height="2.06" fill="#eff3f4"/>
<rect x="341.80" y="432.9" width="11.55" height="2.06" fill="#f5f6f2"/>
<rect x="307.30" y="434.91" width="11.55" height="2.06" fill="#ead486"/>
<rect x="318.80" y="434.91" width="11.55" height="2.06" fill="#e9d384"/>
<rect x="330.30" y="434.91" width="11.55" height="2.06" fill="#f1f4f4"/>
<rect x="341.80" y="434.91" width="11.55" height="2.06" fill="#f8f8f1"/>
<rect x="307.30" y="436.92" width="11.55" height="2.05" fill="#e9d282"/>
<rect x="318.80" y="436.92" width="11.55" height="2.05" fill="#efdc92"/>
<rect x="330.30" y="436.92" width="11.55" height="2.05" fill="#f1f4f4"/>
<rect x="341.80" y="436.92" width="11.55" height="2.05" fill="#f6f7f2"/>
<rect x="307.30" y="438.92" width="11.55" height="2.06" fill="#e8d07e"/>
<rect x="318.80" y="438.92" width="11.55" height="2.06" fill="#eedb91"/>
<rect x="330.30" y="438.92" width="11.55" height="2.06" fill="#eef3f5"/>
<rect x="341.80" y="438.92" width="11.55" height="2.06" fill="#f6f7f2"/>
<rect x="307.30" y="440.93" width="11.55" height="2.05" fill="#ecd68a"/>
<rect x="318.80" y="440.93" width="11.55" height="2.05" fill="#f3e29d"/>
<rect x="330.30" y="440.93" width="11.55" height="2.05" fill="#f2f5f3"/>
<rect x="341.80" y="440.93" width="11.55" height="2.05" fill="#f3f5f3"/>
<rect x="307.30" y="442.93" width="11.55" height="2.06" fill="#e4ca78"/>
<rect x="318.80" y="442.93" width="11.55" height="2.06" fill="#e7cf7d"/>
<rect x="330.30" y="442.93" width="11.55" height="2.06" fill="#f0f4f4"/>
<rect x="341.80" y="442.93" width="11.55" height="2.06" fill="#f7f7f2"/>
<rect x="307.30" y="444.94" width="11.55" height="2.06" fill="#e9d283"/>
<rect x="318.80" y="444.94" width="11.55" height="2.06" fill="#f1df99"/>
<rect x="330.30" y="444.94" width="11.55" height="2.06" fill="#eff3f4"/>
<rect x="341.80" y="444.94" width="11.55" height="2.06" fill="#f8f8f1"/>
<rect x="307.30" y="446.95" width="11.55" height="2.05" fill="#e4c977"/>
<rect x="318.80" y="446.95" width="11.55" height="2.05" fill="#efdc92"/>
<rect x="330.30" y="446.95" width="11.55" height="2.05" fill="#f0f3f4"/>
<rect x="341.80" y="446.95" width="11.55" height="2.05" fill="#f6f7f2"/>
<rect x="307.30" y="448.95" width="11.55" height="2.06" fill="#e9d181"/>
<rect x="318.80" y="448.95" width="11.55" height="2.06" fill="#ecd78a"/>
<rect x="330.30" y="448.95" width="11.55" height="2.06" fill="#eff3f4"/>
<rect x="341.80" y="448.95" width="11.55" height="2.06" fill="#f5f7f2"/>
<rect x="307.30" y="450.96" width="11.55" height="2.05" fill="#edd88c"/>
<rect x="318.80" y="450.96" width="11.55" height="2.05" fill="#f3e29d"/>
<rect x="330.30" y="450.96" width="11.55" height="2.05" fill="#edf2f5"/>
<rect x="341.80" y="450.96" width="11.55" height="2.05" fill="#faf9f0"/>
<rect x="307.30" y="452.96" width="11.55" height="2.06" fill="#e7cf7d"/>
<rect x="318.80" y="452.96" width="11.55" height="2.06" fill="#f0dd95"/>
<rect x="330.30" y="452.96" width="11.55" height="2.06" fill="#f3f5f3"/>
<rect x="341.80" y="452.96" width="11.55" height="2.06" fill="#f6f7f2"/>
<rect x="307.30" y="454.97" width="11.55" height="2.06" fill="#e6cc79"/>
<rect x="318.80" y="454.97" width="11.55" height="2.06" fill="#ecd78c"/>
<rect x="330.30" y="454.97" width="11.55" height="2.06" fill="#edf1f5"/>
<rect x="341.80" y="454.97" width="11.55" height="2.06" fill="#f4f6f2"/>
<rect x="307.30" y="456.98" width="11.55" height="2.05" fill="#ebd689"/>
<rect x="318.80" y="456.98" width="11.55" height="2.05" fill="#ecd78b"/>
<rect x="330.30" y="456.98" width="11.55" height="2.05" fill="#f3f5f3"/>
<rect x="341.80" y="456.98" width="11.55" height="2.05" fill="#f5f6f2"/>
<rect x="307.30" y="458.98" width="11.55" height="2.06" fill="#e4ca77"/>
<rect x="318.80" y="458.98" width="11.55" height="2.06" fill="#f0de97"/>
<rect x="330.30" y="458.98" width="11.55" height="2.06" fill="#eff3f4"/>
<rect x="341.80" y="458.98" width="11.55" height="2.06" fill="#f6f7f2"/>
<rect x="307.30" y="460.99" width="11.55" height="2.05" fill="#e9d383"/>
<rect x="318.80" y="460.99" width="11.55" height="2.05" fill="#f5e6a4"/>
<rect x="330.30" y="460.99" width="11.55" height="2.05" fill="#eef2f5"/>
<rect x="341.80" y="460.99" width="11.55" height="2.05" fill="#f5f6f2"/>
<rect x="307.30" y="462.99" width="11.55" height="2.06" fill="#e7ce7c"/>
<rect x="318.80" y="462.99" width="11.55" height="2.06" fill="#e8d07f"/>
<rect x="330.30" y="462.99" width="11.55" height="2.06" fill="#f6f7f2"/>
<rect x="341.80" y="462.99" width="11.55" height="2.06" fill="#f7f8f1"/>
<rect x="307.30" y="465.0" width="11.55" height="2.06" fill="#eeda90"/>
<rect x="318.80" y="465.0" width="11.55" height="2.06" fill="#f0de97"/>
<rect x="330.30" y="465.0" width="11.55" height="2.06" fill="#eef2f5"/>
<rect x="341.80" y="465.0" width="11.55" height="2.06" fill="#fbf9ed"/>
<rect x="307.30" y="467.01" width="11.55" height="2.05" fill="#e6ce7b"/>
<rect x="318.80" y="467.01" width="11.55" height="2.05" fill="#f2e09a"/>
<rect x="330.30" y="467.01" width="11.55" height="2.05" fill="#f2f5f3"/>
<rect x="341.80" y="467.01" width="11.55" height="2.05" fill="#f9f9f1"/>
<rect x="307.30" y="469.01" width="11.55" height="2.06" fill="#eeda90"/>
<rect x="318.80" y="469.01" width="11.55" height="2.06" fill="#f1df98"/>
<rect x="330.30" y="469.01" width="11.55" height="2.06" fill="#eff3f4"/>
<rect x="341.80" y="469.01" width="11.55" height="2.06" fill="#f8f8f1"/>
<rect x="307.30" y="471.02" width="11.55" height="2.06" fill="#e8d07f"/>
<rect x="318.80" y="471.02" width="11.55" height="2.06" fill="#f0de96"/>
<rect x="330.30" y="471.02" width="11.55" height="2.06" fill="#f0f4f4"/>
<rect x="341.80" y="471.02" width="11.55" height="2.06" fill="#f6f7f2"/>
<rect x="307.30" y="473.03" width="11.55" height="2.05" fill="#ebd689"/>
<rect x="318.80" y="473.03" width="11.55" height="2.05" fill="#ead385"/>
<rect x="330.30" y="473.03" width="11.55" height="2.05" fill="#f1f4f4"/>
<rect x="341.80" y="473.03" width="11.55" height="2.05" fill="#f9f9f1"/>
<rect x="307.30" y="475.03" width="11.55" height="2.06" fill="#eeda8f"/>
<rect x="318.80" y="475.03" width="11.55" height="2.06" fill="#f0dd95"/>
<rect x="330.30" y="475.03" width="11.55" height="2.06" fill="#f2f5f3"/>
<rect x="341.80" y="475.03" width="11.55" height="2.06" fill="#f5f6f2"/>
<rect x="307.30" y="477.04" width="11.55" height="2.05" fill="#e4ca77"/>
<rect x="318.80" y="477.04" width="11.55" height="2.05" fill="#f0de97"/>
<rect x="330.30" y="477.04" width="11.55" height="2.05" fill="#f1f4f4"/>
<rect x="341.80" y="477.04" width="11.55" height="2.05" fill="#f7f8f1"/>
<rect x="307.30" y="479.04" width="11.55" height="2.06" fill="#e8d07e"/>
<rect x="318.80" y="479.04" width="11.55" height="2.06" fill="#ebd588"/>
<rect x="330.30" y="479.04" width="11.55" height="2.06" fill="#eff3f4"/>
<rect x="341.80" y="479.04" width="11.55" height="2.06" fill="#fbfaf0"/>
<rect x="307.30" y="481.05" width="11.55" height="2.06" fill="#ebd588"/>
<rect x="318.80" y="481.05" width="11.55" height="2.06" fill="#f2e19c"/>
<rect x="330.30" y="481.05" width="11.55" height="2.06" fill="#f2f4f3"/>
<rect x="341.80" y="481.05" width="11.55" height="2.06" fill="#f5f7f2"/>
<rect x="307.30" y="483.06" width="11.55" height="2.05" fill="#ead384"/>
<rect x="318.80" y="483.06" width="11.55" height="2.05" fill="#ecd78b"/>
<rect x="330.30" y="483.06" width="11.55" height="2.05" fill="#f3f5f3"/>
<rect x="341.80" y="483.06" width="11.55" height="2.05" fill="#f4f6f3"/>
<rect x="307.30" y="485.06" width="11.55" height="2.06" fill="#e7ce7c"/>
<rect x="318.80" y="485.06" width="11.55" height="2.06" fill="#e9d181"/>
<rect x="330.30" y="485.06" width="11.55" height="2.06" fill="#f3f5f3"/>
<rect x="341.80" y="485.06" width="11.55" height="2.06" fill="#f7f8f1"/>
<rect x="307.30" y="487.07" width="11.55" height="2.05" fill="#ead486"/>
<rect x="318.80" y="487.07" width="11.55" height="2.05" fill="#f0de96"/>
<rect x="330.30" y="487.07" width="11.55" height="2.05" fill="#edf2f5"/>
<rect x="341.80" y="487.07" width="11.55" height="2.05" fill="#f7f8f1"/>
<rect x="307.30" y="489.07" width="11.55" height="2.06" fill="#e9d282"/>
<rect x="318.80" y="489.07" width="11.55" height="2.06" fill="#f0dd94"/>
<rect x="330.30" y="489.07" width="11.55" height="2.06" fill="#f3f5f3"/>
<rect x="341.80" y="489.07" width="11.55" height="2.06" fill="#f7f8f1"/>
<rect x="307.30" y="491.08" width="11.55" height="2.06" fill="#edd98e"/>
<rect x="318.80" y="491.08" width="11.55" height="2.06" fill="#ebd689"/>
<rect x="330.30" y="491.08" width="11.55" height="2.06" fill="#eef2f5"/>
<rect x="341.80" y="491.08" width="11.55" height="2.06" fill="#f7f7f2"/>
<rect x="307.30" y="493.09" width="11.55" height="2.05" fill="#e9d182"/>
<rect x="318.80" y="493.09" width="11.55" height="2.05" fill="#f0de96"/>
<rect x="330.30" y="493.09" width="11.55" height="2.05" fill="#eef2f5"/>
<rect x="341.80" y="493.09" width="11.55" height="2.05" fill="#f7f8f1"/>
<rect x="307.30" y="495.09" width="11.55" height="2.06" fill="#dec16f"/>
<rect x="318.80" y="495.09" width="11.55" height="2.06" fill="#f1df99"/>
<rect x="330.30" y="495.09" width="11.55" height="2.06" fill="#f0f3f4"/>
<rect x="341.80" y="495.09" width="11.55" height="2.06" fill="#fafaf0"/>
<rect x="307.30" y="497.1" width="11.55" height="2.05" fill="#e6cc79"/>
<rect x="318.80" y="497.1" width="11.55" height="2.05" fill="#ecd88c"/>
<rect x="330.30" y="497.1" width="11.55" height="2.05" fill="#f2f5f3"/>
<rect x="341.80" y="497.1" width="11.55" height="2.05" fill="#f3f5f3"/>
<rect x="307.30" y="499.1" width="11.55" height="2.06" fill="#ebd688"/>
<rect x="318.80" y="499.1" width="11.55" height="2.06" fill="#efdb92"/>
<rect x="330.30" y="499.1" width="11.55" height="2.06" fill="#f1f4f4"/>
<rect x="341.80" y="499.1" width="11.55" height="2.06" fill="#fbfaf0"/>
<rect x="307.30" y="501.11" width="11.55" height="2.06" fill="#e4ca78"/>
<rect x="318.80" y="501.11" width="11.55" height="2.06" fill="#e7cf7d"/>
<rect x="330.30" y="501.11" width="11.55" height="2.06" fill="#f0f4f4"/>
<rect x="341.80" y="501.11" width="11.55" height="2.06" fill="#f7f7f2"/>
<rect x="307.30" y="503.12" width="11.55" height="2.05" fill="#e4ca78"/>
<rect x="318.80" y="503.12" width="11.55" height="2.05" fill="#e7cf7d"/>
<rect x="330.30" y="503.12" width="11.55" height="2.05" fill="#f0f4f4"/>
<rect x="341.80" y="503.12" width="11.55" height="2.05" fill="#f7f7f2"/>
<rect x="307.30" y="505.12" width="11.55" height="2.06" fill="#e7ce7c"/>
<rect x="318.80" y="505.12" width="11.55" height="2.06" fill="#f0dd95"/>
<rect x="330.30" y="505.12" width="11.55" height="2.06" fill="#f0f4f4"/>
<rect x="341.80" y="505.12" width="11.55" height="2.06" fill="#f7f8f1"/>
<rect x="307.30" y="507.13" width="11.55" height="2.05" fill="#e7cf7e"/>
<rect x="318.80" y="507.13" width="11.55" height="2.05" fill="#edd88d"/>
<rect x="330.30" y="507.13" width="11.55" height="2.05" fill="#eff3f4"/>
<rect x="341.80" y="507.13" width="11.55" height="2.05" fill="#f6f7f2"/>
<rect x="307.30" y="509.13" width="11.55" height="2.06" fill="#ebd688"/>
<rect x="318.80" y="509.13" width="11.55" height="2.06" fill="#ebd689"/>
<rect x="330.30" y="509.13" width="11.55" height="2.06" fill="#f3f5f3"/>
<rect x="341.80" y="509.13" width="11.55" height="2.06" fill="#faf9f0"/>
<rect x="307.30" y="511.14" width="11.55" height="2.06" fill="#e5cb79"/>
<rect x="318.80" y="511.14" width="11.55" height="2.06" fill="#ecd78b"/>
<rect x="330.30" y="511.14" width="11.55" height="2.06" fill="#f0f3f4"/>
<rect x="341.80" y="511.14" width="11.55" height="2.06" fill="#f9f9f1"/>
<rect x="307.30" y="513.15" width="11.55" height="2.05" fill="#ecd78a"/>
<rect x="318.80" y="513.15" width="11.55" height="2.05" fill="#f0dd95"/>
<rect x="330.30" y="513.15" width="11.55" height="2.05" fill="#eef3f5"/>
<rect x="341.80" y="513.15" width="11.55" height="2.05" fill="#f9f9f1"/>
<rect x="307.30" y="515.15" width="11.55" height="2.06" fill="#ead486"/>
<rect x="318.80" y="515.15" width="11.55" height="2.06" fill="#efdd94"/>
<rect x="330.30" y="515.15" width="11.55" height="2.06" fill="#f1f4f4"/>
<rect x="341.80" y="515.15" width="11.55" height="2.06" fill="#fbfaf0"/>
<rect x="307.30" y="517.16" width="11.55" height="2.05" fill="#ebd588"/>
<rect x="318.80" y="517.16" width="11.55" height="2.05" fill="#f2e19c"/>
<rect x="330.30" y="517.16" width="11.55" height="2.05" fill="#f2f5f3"/>
<rect x="341.80" y="517.16" width="11.55" height="2.05" fill="#f5f7f2"/>
<rect x="307.30" y="519.16" width="11.55" height="2.06" fill="#e7ce7c"/>
<rect x="318.80" y="519.16" width="11.55" height="2.06" fill="#f1df98"/>
<rect x="330.30" y="519.16" width="11.55" height="2.06" fill="#f0f3f4"/>
<rect x="341.80" y="519.16" width="11.55" height="2.06" fill="#f4f6f3"/>
<rect x="307.30" y="521.17" width="11.55" height="2.06" fill="#e6cd7a"/>
<rect x="318.80" y="521.17" width="11.55" height="2.06" fill="#f1df98"/>
<rect x="330.30" y="521.17" width="11.55" height="2.06" fill="#eef2f5"/>
<rect x="341.80" y="521.17" width="11.55" height="2.06" fill="#fbf9ec"/>
<rect x="307.30" y="523.18" width="11.55" height="2.05" fill="#e6cd7a"/>
<rect x="318.80" y="523.18" width="11.55" height="2.05" fill="#e2c674"/>
<rect x="330.30" y="523.18" width="11.55" height="2.05" fill="#f1f4f4"/>
<rect x="341.80" y="523.18" width="11.55" height="2.05" fill="#f7f8f1"/>
<rect x="307.30" y="525.18" width="11.55" height="2.06" fill="#e8d07f"/>
<rect x="318.80" y="525.18" width="11.55" height="2.06" fill="#ead384"/>
<rect x="330.30" y="525.18" width="11.55" height="2.06" fill="#f0f3f4"/>
<rect x="341.80" y="525.18" width="11.55" height="2.06" fill="#f9f9f1"/>
<rect x="307.30" y="527.19" width="11.55" height="2.05" fill="#e7ce7b"/>
<rect x="318.80" y="527.19" width="11.55" height="2.05" fill="#f2e19c"/>
<rect x="330.30" y="527.19" width="11.55" height="2.05" fill="#f0f4f4"/>
<rect x="341.80" y="527.19" width="11.55" height="2.05" fill="#f7f7f2"/>
<rect x="307.30" y="529.19" width="11.55" height="2.06" fill="#edd88c"/>
<rect x="318.80" y="529.19" width="11.55" height="2.06" fill="#ecd78b"/>
<rect x="330.30" y="529.19" width="11.55" height="2.06" fill="#f1f4f3"/>
<rect x="341.80" y="529.19" width="11.55" height="2.06" fill="#f8f8f1"/>
<rect x="429.40" y="298.5" width="11.40" height="2.06" fill="#fbf9ec"/>
<rect x="440.75" y="298.5" width="11.40" height="2.06" fill="#e3ecf7"/>
<rect x="452.10" y="298.5" width="11.40" height="2.06" fill="#f8ecb6"/>
<rect x="463.45" y="298.5" width="11.40" height="2.06" fill="#f7ebb1"/>
<rect x="429.40" y="300.51" width="11.40" height="2.05" fill="#fbfaf0"/>
<rect x="440.75" y="300.51" width="11.40" height="2.05" fill="#d6e0f2"/>
<rect x="452.10" y="300.51" width="11.40" height="2.05" fill="#f8edbb"/>
<rect x="463.45" y="300.51" width="11.40" height="2.05" fill="#f8efc0"/>
<rect x="429.40" y="302.51" width="11.40" height="2.06" fill="#faf7e6"/>
<rect x="440.75" y="302.51" width="11.40" height="2.06" fill="#ebf1f6"/>
<rect x="452.10" y="302.51" width="11.40" height="2.06" fill="#f8ecb7"/>
<rect x="463.45" y="302.51" width="11.40" height="2.06" fill="#f7eaae"/>
<rect x="429.40" y="304.52" width="11.40" height="2.05" fill="#faf7e4"/>
<rect x="440.75" y="304.52" width="11.40" height="2.05" fill="#e7eef7"/>
<rect x="452.10" y="304.52" width="11.40" height="2.05" fill="#f8eebf"/>
<rect x="463.45" y="304.52" width="11.40" height="2.05" fill="#f8ecb6"/>
<rect x="429.40" y="306.52" width="11.40" height="2.06" fill="#faf8e7"/>
<rect x="440.75" y="306.52" width="11.40" height="2.06" fill="#ebf1f6"/>
<rect x="452.10" y="306.52" width="11.40" height="2.06" fill="#f8ecb4"/>
<rect x="463.45" y="306.52" width="11.40" height="2.06" fill="#f4e4a0"/>
<rect x="429.40" y="308.53" width="11.40" height="2.06" fill="#f9f9f1"/>
<rect x="440.75" y="308.53" width="11.40" height="2.06" fill="#ecf1f6"/>
<rect x="452.10" y="308.53" width="11.40" height="2.06" fill="#f8eebd"/>
<rect x="463.45" y="308.53" width="11.40" height="2.06" fill="#f2e09a"/>
<rect x="429.40" y="310.54" width="11.40" height="2.05" fill="#faf6df"/>
<rect x="440.75" y="310.54" width="11.40" height="2.05" fill="#e5edf8"/>
<rect x="452.10" y="310.54" width="11.40" height="2.05" fill="#f8ecb6"/>
<rect x="463.45" y="310.54" width="11.40" height="2.05" fill="#f8ecb6"/>
<rect x="429.40" y="312.54" width="11.40" height="2.06" fill="#faf6de"/>
<rect x="440.75" y="312.54" width="11.40" height="2.06" fill="#e7eef7"/>
<rect x="452.10" y="312.54" width="11.40" height="2.06" fill="#f8eebc"/>
<rect x="463.45" y="312.54" width="11.40" height="2.06" fill="#f7ebb2"/>
<rect x="429.40" y="314.55" width="11.40" height="2.05" fill="#faf8e6"/>
<rect x="440.75" y="314.55" width="11.40" height="2.05" fill="#e9eff7"/>
<rect x="452.10" y="314.55" width="11.40" height="2.05" fill="#f9f2ce"/>
<rect x="463.45" y="314.55" width="11.40" height="2.05" fill="#f7eaab"/>
<rect x="429.40" y="316.55" width="11.40" height="2.06" fill="#faf6de"/>
<rect x="440.75" y="316.55" width="11.40" height="2.06" fill="#eaf0f6"/>
<rect x="452.10" y="316.55" width="11.40" height="2.06" fill="#f9f0c6"/>
<rect x="463.45" y="316.55" width="11.40" height="2.06" fill="#f7eaae"/>
<rect x="429.40" y="318.56" width="11.40" height="2.06" fill="#faf6e1"/>
<rect x="440.75" y="318.56" width="11.40" height="2.06" fill="#eaf0f6"/>
<rect x="452.10" y="318.56" width="11.40" height="2.06" fill="#f8edbb"/>
<rect x="463.45" y="318.56" width="11.40" height="2.06" fill="#f4e5a2"/>
<rect x="429.40" y="320.57" width="11.40" height="2.05" fill="#edf1f5"/>
<rect x="440.75" y="320.57" width="11.40" height="2.05" fill="#99acd6"/>
<rect x="452.10" y="320.57" width="11.40" height="2.05" fill="#f9f0c4"/>
<rect x="463.45" y="320.57" width="11.40" height="2.05" fill="#f7ebb0"/>
<rect x="429.40" y="322.57" width="11.40" height="2.06" fill="#ecf1f6"/>
<rect x="440.75" y="322.57" width="11.40" height="2.06" fill="#9db0d8"/>
<rect x="452.10" y="322.57" width="11.40" height="2.06" fill="#f8ecb7"/>
<rect x="463.45" y="322.57" width="11.40" height="2.06" fill="#f1df98"/>
<rect x="429.40" y="324.58" width="11.40" height="2.05" fill="#eef2f5"/>
<rect x="440.75" y="324.58" width="11.40" height="2.05" fill="#a2b4db"/>
<rect x="452.10" y="324.58" width="11.40" height="2.05" fill="#f2e09b"/>
<rect x="463.45" y="324.58" width="11.40" height="2.05" fill="#f7e9aa"/>
<rect x="429.40" y="326.58" width="11.40" height="2.06" fill="#eff3f4"/>
<rect x="440.75" y="326.58" width="11.40" height="2.06" fill="#93a6d2"/>
<rect x="452.10" y="326.58" width="11.40" height="2.06" fill="#f8edba"/>
<rect x="463.45" y="326.58" width="11.40" height="2.06" fill="#f1e09a"/>
<rect x="429.40" y="328.59" width="11.40" height="2.06" fill="#edf1f5"/>
<rect x="440.75" y="328.59" width="11.40" height="2.06" fill="#b7c6e5"/>
<rect x="452.10" y="328.59" width="11.40" height="2.06" fill="#f8efc1"/>
<rect x="463.45" y="328.59" width="11.40" height="2.06" fill="#f7e8a8"/>
<rect x="429.40" y="330.6" width="11.40" height="2.05" fill="#eef2f5"/>
<rect x="440.75" y="330.6" width="11.40" height="2.05" fill="#b9c7e6"/>
<rect x="452.10" y="330.6" width="11.40" height="2.05" fill="#f8ecb4"/>
<rect x="463.45" y="330.6" width="11.40" height="2.05" fill="#f7ebb0"/>
<rect x="429.40" y="332.6" width="11.40" height="2.06" fill="#f0f3f4"/>
<rect x="440.75" y="332.6" width="11.40" height="2.06" fill="#c7d4ec"/>
<rect x="452.10" y="332.6" width="11.40" height="2.06" fill="#f7ebaf"/>
<rect x="463.45" y="332.6" width="11.40" height="2.06" fill="#f8ebb3"/>
<rect x="429.40" y="334.61" width="11.40" height="2.05" fill="#eef3f5"/>
<rect x="440.75" y="334.61" width="11.40" height="2.05" fill="#b8c7e5"/>
<rect x="452.10" y="334.61" width="11.40" height="2.05" fill="#f1df99"/>
<rect x="463.45" y="334.61" width="11.40" height="2.05" fill="#f7eaae"/>
<rect x="429.40" y="336.61" width="11.40" height="2.06" fill="#ecf1f5"/>
<rect x="440.75" y="336.61" width="11.40" height="2.06" fill="#bac9e6"/>
<rect x="452.10" y="336.61" width="11.40" height="2.06" fill="#f8edbc"/>
<rect x="463.45" y="336.61" width="11.40" height="2.06" fill="#f8ebb3"/>
<rect x="429.40" y="338.62" width="11.40" height="2.06" fill="#f1f4f4"/>
<rect x="440.75" y="338.62" width="11.40" height="2.06" fill="#dce6f5"/>
<rect x="452.10" y="338.62" width="11.40" height="2.06" fill="#f7ebb0"/>
<rect x="463.45" y="338.62" width="11.40" height="2.06" fill="#f7eaae"/>
<rect x="429.40" y="340.63" width="11.40" height="2.05" fill="#eef2f5"/>
<rect x="440.75" y="340.63" width="11.40" height="2.05" fill="#d6e0f2"/>
<rect x="452.10" y="340.63" width="11.40" height="2.05" fill="#f7ebb0"/>
<rect x="463.45" y="340.63" width="11.40" height="2.05" fill="#f8ecb6"/>
<rect x="429.40" y="342.63" width="11.40" height="2.06" fill="#eef2f5"/>
<rect x="440.75" y="342.63" width="11.40" height="2.06" fill="#d8e2f3"/>
<rect x="452.10" y="342.63" width="11.40" height="2.06" fill="#f6e7a6"/>
<rect x="463.45" y="342.63" width="11.40" height="2.06" fill="#f5e5a3"/>
<rect x="429.40" y="344.64" width="11.40" height="2.05" fill="#edf2f5"/>
<rect x="440.75" y="344.64" width="11.40" height="2.05" fill="#dee7f5"/>
<rect x="452.10" y="344.64" width="11.40" height="2.05" fill="#f7eaad"/>
<rect x="463.45" y="344.64" width="11.40" height="2.05" fill="#f7e9a9"/>
<rect x="429.40" y="346.64" width="11.40" height="2.06" fill="#ebf1f6"/>
<rect x="440.75" y="346.64" width="11.40" height="2.06" fill="#e7eef7"/>
<rect x="452.10" y="346.64" width="11.40" height="2.06" fill="#f8ecb4"/>
<rect x="463.45" y="346.64" width="11.40" height="2.06" fill="#f3e29d"/>
<rect x="429.40" y="348.65" width="11.40" height="2.06" fill="#edf2f5"/>
<rect x="440.75" y="348.65" width="11.40" height="2.06" fill="#c0cee9"/>
<rect x="452.10" y="348.65" width="11.40" height="2.06" fill="#f4e5a2"/>
<rect x="463.45" y="348.65" width="11.40" height="2.06" fill="#f7e9a9"/>
<rect x="429.40" y="350.66" width="11.40" height="2.05" fill="#eef2f5"/>
<rect x="440.75" y="350.66" width="11.40" height="2.05" fill="#c0cee9"/>
<rect x="452.10" y="350.66" width="11.40" height="2.05" fill="#f8ecb4"/>
<rect x="463.45" y="350.66" width="11.40" height="2.05" fill="#f8edb8"/>
<rect x="429.40" y="352.66" width="11.40" height="2.06" fill="#f3f5f3"/>
<rect x="440.75" y="352.66" width="11.40" height="2.06" fill="#d9e3f3"/>
<rect x="452.10" y="352.66" width="11.40" height="2.06" fill="#f7e9a9"/>
<rect x="463.45" y="352.66" width="11.40" height="2.06" fill="#f5e6a3"/>
<rect x="429.40" y="354.67" width="11.40" height="2.06" fill="#eff3f4"/>
<rect x="440.75" y="354.67" width="11.40" height="2.06" fill="#e2eaf7"/>
<rect x="452.10" y="354.67" width="11.40" height="2.06" fill="#f6e7a6"/>
<rect x="463.45" y="354.67" width="11.40" height="2.06" fill="#f7eaac"/>
<rect x="429.40" y="356.68" width="11.40" height="2.05" fill="#ecd88c"/>
<rect x="440.75" y="356.68" width="11.40" height="2.05" fill="#e3c875"/>
<rect x="452.10" y="356.68" width="11.40" height="2.05" fill="#f0f3f4"/>
<rect x="463.45" y="356.68" width="11.40" height="2.05" fill="#f1f4f4"/>
<rect x="429.40" y="358.68" width="11.40" height="2.06" fill="#ecd88c"/>
<rect x="440.75" y="358.68" width="11.40" height="2.06" fill="#e9d282"/>
<rect x="452.10" y="358.68" width="11.40" height="2.06" fill="#f1f4f4"/>
<rect x="463.45" y="358.68" width="11.40" height="2.06" fill="#f1f4f3"/>
<rect x="429.40" y="360.69" width="11.40" height="2.05" fill="#efdc94"/>
<rect x="440.75" y="360.69" width="11.40" height="2.05" fill="#e8d180"/>
<rect x="452.10" y="360.69" width="11.40" height="2.05" fill="#f2f5f3"/>
<rect x="463.45" y="360.69" width="11.40" height="2.05" fill="#f2f5f3"/>
<rect x="429.40" y="362.69" width="11.40" height="2.06" fill="#ebd588"/>
<rect x="440.75" y="362.69" width="11.40" height="2.06" fill="#e7cf7d"/>
<rect x="452.10" y="362.69" width="11.40" height="2.06" fill="#f0f4f4"/>
<rect x="463.45" y="362.69" width="11.40" height="2.06" fill="#f3f5f3"/>
<rect x="429.40" y="364.7" width="11.40" height="2.06" fill="#e7cf7d"/>
<rect x="440.75" y="364.7" width="11.40" height="2.06" fill="#edd88d"/>
<rect x="452.10" y="364.7" width="11.40" height="2.06" fill="#f1f4f3"/>
<rect x="463.45" y="364.7" width="11.40" height="2.06" fill="#f2f5f3"/>
<rect x="429.40" y="366.71" width="11.40" height="2.05" fill="#edd88d"/>
<rect x="440.75" y="366.71" width="11.40" height="2.05" fill="#dbbc6c"/>
<rect x="452.10" y="366.71" width="11.40" height="2.05" fill="#f0f3f4"/>
<rect x="463.45" y="366.71" width="11.40" height="2.05" fill="#f4f6f2"/>
<rect x="429.40" y="368.71" width="11.40" height="2.06" fill="#e8d181"/>
<rect x="440.75" y="368.71" width="11.40" height="2.06" fill="#ebd587"/>
<rect x="452.10" y="368.71" width="11.40" height="2.06" fill="#f1f4f4"/>
<rect x="463.45" y="368.71" width="11.40" height="2.06" fill="#f3f5f3"/>
<rect x="429.40" y="370.72" width="11.40" height="2.05" fill="#ecd78b"/>
<rect x="440.75" y="370.72" width="11.40" height="2.05" fill="#efdc93"/>
<rect x="452.10" y="370.72" width="11.40" height="2.05" fill="#f0f3f4"/>
<rect x="463.45" y="370.72" width="11.40" height="2.05" fill="#f2f5f3"/>
<rect x="429.40" y="372.72" width="11.40" height="2.06" fill="#efdd94"/>
<rect x="440.75" y="372.72" width="11.40" height="2.06" fill="#dec170"/>
<rect x="452.10" y="372.72" width="11.40" height="2.06" fill="#f0f3f4"/>
<rect x="463.45" y="372.72" width="11.40" height="2.06" fill="#f2f5f3"/>
<rect x="429.40" y="374.73" width="11.40" height="2.06" fill="#edd88c"/>
<rect x="440.75" y="374.73" width="11.40" height="2.06" fill="#ead384"/>
<rect x="452.10" y="374.73" width="11.40" height="2.06" fill="#eff3f4"/>
<rect x="463.45" y="374.73" width="11.40" height="2.06" fill="#f2f5f3"/>
<rect x="429.40" y="376.74" width="11.40" height="2.05" fill="#f7eaae"/>
<rect x="440.75" y="376.74" width="11.40" height="2.05" fill="#ac7545"/>
<rect x="452.10" y="376.74" width="11.40" height="2.05" fill="#f9f3d5"/>
<rect x="463.45" y="376.74" width="11.40" height="2.05" fill="#faf6df"/>
<rect x="429.40" y="378.74" width="11.40" height="2.06" fill="#f7ebb1"/>
<rect x="440.75" y="378.74" width="11.40" height="2.06" fill="#ab7344"/>
<rect x="452.10" y="378.74" width="11.40" height="2.06" fill="#f9f3d1"/>
<rect x="463.45" y="378.74" width="11.40" height="2.06" fill="#faf5da"/>
<rect x="429.40" y="380.75" width="11.40" height="2.05" fill="#f6e8a7"/>
<rect x="440.75" y="380.75" width="11.40" height="2.05" fill="#b07b47"/>
<rect x="452.10" y="380.75" width="11.40" height="2.05" fill="#faf6e0"/>
<rect x="463.45" y="380.75" width="11.40" height="2.05" fill="#f8ecb6"/>
<rect x="429.40" y="382.75" width="11.40" height="2.06" fill="#f7e9a9"/>
<rect x="440.75" y="382.75" width="11.40" height="2.06" fill="#a15338"/>
<rect x="452.10" y="382.75" width="11.40" height="2.06" fill="#f9f3d4"/>
<rect x="463.45" y="382.75" width="11.40" height="2.06" fill="#faf4d8"/>
<rect x="429.40" y="384.76" width="11.40" height="2.06" fill="#f2e19c"/>
<rect x="440.75" y="384.76" width="11.40" height="2.06" fill="#b9884c"/>
<rect x="452.10" y="384.76" width="11.40" height="2.06" fill="#f9f2d0"/>
<rect x="463.45" y="384.76" width="11.40" height="2.06" fill="#faf6df"/>
<rect x="429.40" y="386.77" width="11.40" height="2.05" fill="#f5e6a3"/>
<rect x="440.75" y="386.77" width="11.40" height="2.05" fill="#c79d54"/>
<rect x="452.10" y="386.77" width="11.40" height="2.05" fill="#faf5d9"/>
<rect x="463.45" y="386.77" width="11.40" height="2.05" fill="#faf5dd"/>
<rect x="429.40" y="388.77" width="11.40" height="2.06" fill="#f7ebb1"/>
<rect x="440.75" y="388.77" width="11.40" height="2.06" fill="#cca457"/>
<rect x="452.10" y="388.77" width="11.40" height="2.06" fill="#f9f3d3"/>
<rect x="463.45" y="388.77" width="11.40" height="2.06" fill="#faf4d7"/>
<rect x="429.40" y="390.78" width="11.40" height="2.05" fill="#eed98f"/>
<rect x="440.75" y="390.78" width="11.40" height="2.05" fill="#c39852"/>
<rect x="452.10" y="390.78" width="11.40" height="2.05" fill="#f8efc1"/>
<rect x="463.45" y="390.78" width="11.40" height="2.05" fill="#faf5db"/>
<rect x="429.40" y="392.78" width="11.40" height="2.06" fill="#f7e9a8"/>
<rect x="440.75" y="392.78" width="11.40" height="2.06" fill="#c19551"/>
<rect x="452.10" y="392.78" width="11.40" height="2.06" fill="#f9f4d5"/>
<rect x="463.45" y="392.78" width="11.40" height="2.06" fill="#f9f0c5"/>
<rect x="429.40" y="394.79" width="11.40" height="2.06" fill="#f7eaac"/>
<rect x="440.75" y="394.79" width="11.40" height="2.06" fill="#c69c54"/>
<rect x="452.10" y="394.79" width="11.40" height="2.06" fill="#faf4d8"/>
<rect x="463.45" y="394.79" width="11.40" height="2.06" fill="#f9f3d1"/>
<rect x="429.40" y="396.8" width="11.40" height="2.05" fill="#f4e5a2"/>
<rect x="440.75" y="396.8" width="11.40" height="2.05" fill="#bb8b4d"/>
<rect x="452.10" y="396.8" width="11.40" height="2.05" fill="#faf7e2"/>
<rect x="463.45" y="396.8" width="11.40" height="2.05" fill="#f9f3d5"/>
<rect x="429.40" y="398.8" width="11.40" height="2.06" fill="#f4e4a1"/>
<rect x="440.75" y="398.8" width="11.40" height="2.06" fill="#c9a055"/>
<rect x="452.10" y="398.8" width="11.40" height="2.06" fill="#f9f3d1"/>
<rect x="463.45" y="398.8" width="11.40" height="2.06" fill="#f9f0c7"/>
<rect x="429.40" y="400.81" width="11.40" height="2.05" fill="#f8eebd"/>
<rect x="440.75" y="400.81" width="11.40" height="2.05" fill="#c49952"/>
<rect x="452.10" y="400.81" width="11.40" height="2.05" fill="#f9f2cf"/>
<rect x="463.45" y="400.81" width="11.40" height="2.05" fill="#f9f2ce"/>
<rect x="429.40" y="402.81" width="11.40" height="2.06" fill="#f8ecb7"/>
<rect x="440.75" y="402.81" width="11.40" height="2.06" fill="#c09350"/>
<rect x="452.10" y="402.81" width="11.40" height="2.06" fill="#f9f3d3"/>
<rect x="463.45" y="402.81" width="11.40" height="2.06" fill="#faf4d7"/>
<rect x="429.40" y="404.82" width="11.40" height="2.06" fill="#f6e7a6"/>
<rect x="440.75" y="404.82" width="11.40" height="2.06" fill="#c89f55"/>
<rect x="452.10" y="404.82" width="11.40" height="2.06" fill="#f9f2d0"/>
<rect x="463.45" y="404.82" width="11.40" height="2.06" fill="#faf5da"/>
<rect x="429.40" y="406.83" width="11.40" height="2.05" fill="#f8efc3"/>
<rect x="440.75" y="406.83" width="11.40" height="2.05" fill="#cfaa5b"/>
<rect x="452.10" y="406.83" width="11.40" height="2.05" fill="#faf5da"/>
<rect x="463.45" y="406.83" width="11.40" height="2.05" fill="#f9efc4"/>
<rect x="429.40" y="408.83" width="11.40" height="2.06" fill="#f8efc1"/>
<rect x="440.75" y="408.83" width="11.40" height="2.06" fill="#c49952"/>
<rect x="452.10" y="408.83" width="11.40" height="2.06" fill="#faf5dd"/>
<rect x="463.45" y="408.83" width="11.40" height="2.06" fill="#f9f1cc"/>
<rect x="429.40" y="410.84" width="11.40" height="2.05" fill="#f3e29e"/>
<rect x="440.75" y="410.84" width="11.40" height="2.05" fill="#b8874c"/>
<rect x="452.10" y="410.84" width="11.40" height="2.05" fill="#f9f2d0"/>
<rect x="463.45" y="410.84" width="11.40" height="2.05" fill="#f9f2ce"/>
<rect x="429.40" y="412.84" width="11.40" height="2.06" fill="#f8ecb4"/>
<rect x="440.75" y="412.84" width="11.40" height="2.06" fill="#cca557"/>
<rect x="452.10" y="412.84" width="11.40" height="2.06" fill="#faf4d8"/>
<rect x="463.45" y="412.84" width="11.40" height="2.06" fill="#f9f3d4"/>
<rect x="429.40" y="414.85" width="11.40" height="2.06" fill="#f7e9a8"/>
<rect x="440.75" y="414.85" width="11.40" height="2.06" fill="#f7e9aa"/>
<rect x="452.10" y="414.85" width="11.40" height="2.06" fill="#faf4d8"/>
<rect x="463.45" y="414.85" width="11.40" height="2.06" fill="#f9f1cc"/>
<rect x="429.40" y="416.86" width="11.40" height="2.05" fill="#f4e5a2"/>
<rect x="440.75" y="416.86" width="11.40" height="2.05" fill="#f0dd95"/>
<rect x="452.10" y="416.86" width="11.40" height="2.05" fill="#f9f2cf"/>
<rect x="463.45" y="416.86" width="11.40" height="2.05" fill="#f9f3d3"/>
<rect x="429.40" y="418.86" width="11.40" height="2.06" fill="#f7e9aa"/>
<rect x="440.75" y="418.86" width="11.40" height="2.06" fill="#f8ebb2"/>
<rect x="452.10" y="418.86" width="11.40" height="2.06" fill="#f9f2ce"/>
<rect x="463.45" y="418.86" width="11.40" height="2.06" fill="#faf5db"/>
<rect x="429.40" y="420.87" width="11.40" height="2.05" fill="#f7eaad"/>
<rect x="440.75" y="420.87" width="11.40" height="2.05" fill="#f0de97"/>
<rect x="452.10" y="420.87" width="11.40" height="2.05" fill="#f9f2d0"/>
<rect x="463.45" y="420.87" width="11.40" height="2.05" fill="#f9f3d4"/>
<rect x="429.40" y="422.87" width="11.40" height="2.06" fill="#f0dd96"/>
<rect x="440.75" y="422.87" width="11.40" height="2.06" fill="#f7ebaf"/>
<rect x="452.10" y="422.87" width="11.40" height="2.06" fill="#faf6e0"/>
<rect x="463.45" y="422.87" width="11.40" height="2.06" fill="#f9f0c6"/>
<rect x="429.40" y="424.88" width="11.40" height="2.06" fill="#f6e7a6"/>
<rect x="440.75" y="424.88" width="11.40" height="2.06" fill="#f7e8a8"/>
<rect x="452.10" y="424.88" width="11.40" height="2.06" fill="#faf5dc"/>
<rect x="463.45" y="424.88" width="11.40" height="2.06" fill="#f9f3d4"/>
<rect x="429.40" y="426.89" width="11.40" height="2.05" fill="#f0de97"/>
<rect x="440.75" y="426.89" width="11.40" height="2.05" fill="#f2e09a"/>
<rect x="452.10" y="426.89" width="11.40" height="2.05" fill="#faf5dd"/>
<rect x="463.45" y="426.89" width="11.40" height="2.05" fill="#f9f2d0"/>
<rect x="429.40" y="428.89" width="11.40" height="2.06" fill="#f7ebb0"/>
<rect x="440.75" y="428.89" width="11.40" height="2.06" fill="#f2e09a"/>
<rect x="452.10" y="428.89" width="11.40" height="2.06" fill="#f9f1cc"/>
<rect x="463.45" y="428.89" width="11.40" height="2.06" fill="#faf4d8"/>
<rect x="429.40" y="430.9" width="11.40" height="2.05" fill="#f6e7a5"/>
<rect x="440.75" y="430.9" width="11.40" height="2.05" fill="#f3e29d"/>
<rect x="452.10" y="430.9" width="11.40" height="2.05" fill="#f9f0c7"/>
<rect x="463.45" y="430.9" width="11.40" height="2.05" fill="#f9f1cc"/>
<rect x="429.40" y="432.9" width="11.40" height="2.06" fill="#f5e5a3"/>
<rect x="440.75" y="432.9" width="11.40" height="2.06" fill="#f7eaaf"/>
<rect x="452.10" y="432.9" width="11.40" height="2.06" fill="#faf6df"/>
<rect x="463.45" y="432.9" width="11.40" height="2.06" fill="#f9f0c8"/>
<rect x="429.40" y="434.91" width="11.40" height="2.06" fill="#f5e6a3"/>
<rect x="440.75" y="434.91" width="11.40" height="2.06" fill="#f0dd95"/>
<rect x="452.10" y="434.91" width="11.40" height="2.06" fill="#faf5d9"/>
<rect x="463.45" y="434.91" width="11.40" height="2.06" fill="#f8efc3"/>
<rect x="429.40" y="436.92" width="11.40" height="2.05" fill="#f8ecb6"/>
<rect x="440.75" y="436.92" width="11.40" height="2.05" fill="#f4e4a1"/>
<rect x="452.10" y="436.92" width="11.40" height="2.05" fill="#faf4d7"/>
<rect x="463.45" y="436.92" width="11.40" height="2.05" fill="#f8efc1"/>
<rect x="429.40" y="438.92" width="11.40" height="2.06" fill="#f7e8a8"/>
<rect x="440.75" y="438.92" width="11.40" height="2.06" fill="#f6e7a6"/>
<rect x="452.10" y="438.92" width="11.40" height="2.06" fill="#faf4d7"/>
<rect x="463.45" y="438.92" width="11.40" height="2.06" fill="#faf7e2"/>
<rect x="429.40" y="440.93" width="11.40" height="2.05" fill="#f6e7a6"/>
<rect x="440.75" y="440.93" width="11.40" height="2.05" fill="#f2e19b"/>
<rect x="452.10" y="440.93" width="11.40" height="2.05" fill="#f9f3d1"/>
<rect x="463.45" y="440.93" width="11.40" height="2.05" fill="#f9f3d2"/>
<rect x="429.40" y="442.93" width="11.40" height="2.06" fill="#f3e29e"/>
<rect x="440.75" y="442.93" width="11.40" height="2.06" fill="#f7e9aa"/>
<rect x="452.10" y="442.93" width="11.40" height="2.06" fill="#f9f1cc"/>
<rect x="463.45" y="442.93" width="11.40" height="2.06" fill="#f9f0c5"/>
<rect x="429.40" y="444.94" width="11.40" height="2.06" fill="#f7eaae"/>
<rect x="440.75" y="444.94" width="11.40" height="2.06" fill="#ecd78a"/>
<rect x="452.10" y="444.94" width="11.40" height="2.06" fill="#faf5da"/>
<rect x="463.45" y="444.94" width="11.40" height="2.06" fill="#f9f2cd"/>
<rect x="429.40" y="446.95" width="11.40" height="2.05" fill="#f8edbb"/>
<rect x="440.75" y="446.95" width="11.40" height="2.05" fill="#ebd486"/>
<rect x="452.10" y="446.95" width="11.40" height="2.05" fill="#faf4d6"/>
<rect x="463.45" y="446.95" width="11.40" height="2.05" fill="#faf4d8"/>
<rect x="429.40" y="448.95" width="11.40" height="2.06" fill="#efdc93"/>
<rect x="440.75" y="448.95" width="11.40" height="2.06" fill="#d7b666"/>
<rect x="452.10" y="448.95" width="11.40" height="2.06" fill="#f9efc4"/>
<rect x="463.45" y="448.95" width="11.40" height="2.06" fill="#f9f3d3"/>
<rect x="429.40" y="450.96" width="11.40" height="2.05" fill="#efdc93"/>
<rect x="440.75" y="450.96" width="11.40" height="2.05" fill="#e0c472"/>
<rect x="452.10" y="450.96" width="11.40" height="2.05" fill="#f9f3d3"/>
<rect x="463.45" y="450.96" width="11.40" height="2.05" fill="#f9f3d3"/>
<rect x="429.40" y="452.96" width="11.40" height="2.06" fill="#efdc93"/>
<rect x="440.75" y="452.96" width="11.40" height="2.06" fill="#e2c774"/>
<rect x="452.10" y="452.96" width="11.40" height="2.06" fill="#f9f1ca"/>
<rect x="463.45" y="452.96" width="11.40" height="2.06" fill="#faf4d6"/>
<rect x="429.40" y="454.97" width="11.40" height="2.06" fill="#efdc93"/>
<rect x="440.75" y="454.97" width="11.40" height="2.06" fill="#d6b565"/>
<rect x="452.10" y="454.97" width="11.40" height="2.06" fill="#faf7e2"/>
<rect x="463.45" y="454.97" width="11.40" height="2.06" fill="#f9f0c4"/>
<rect x="429.40" y="456.98" width="11.40" height="2.05" fill="#f3e39f"/>
<rect x="440.75" y="456.98" width="11.40" height="2.05" fill="#e1c674"/>
<rect x="452.10" y="456.98" width="11.40" height="2.05" fill="#faf8e7"/>
<rect x="463.45" y="456.98" width="11.40" height="2.05" fill="#f8efc1"/>
<rect x="429.40" y="458.98" width="11.40" height="2.06" fill="#f8edba"/>
<rect x="440.75" y="458.98" width="11.40" height="2.06" fill="#edd88d"/>
<rect x="452.10" y="458.98" width="11.40" height="2.06" fill="#faf4d6"/>
<rect x="463.45" y="458.98" width="11.40" height="2.06" fill="#f9f1cc"/>
<rect x="429.40" y="460.99" width="11.40" height="2.05" fill="#f7eaae"/>
<rect x="440.75" y="460.99" width="11.40" height="2.05" fill="#efdc93"/>
<rect x="452.10" y="460.99" width="11.40" height="2.05" fill="#f9f3d1"/>
<rect x="463.45" y="460.99" width="11.40" height="2.05" fill="#f9f3d2"/>
<rect x="429.40" y="462.99" width="11.40" height="2.06" fill="#f7eaae"/>
<rect x="440.75" y="462.99" width="11.40" height="2.06" fill="#f6e7a6"/>
<rect x="452.10" y="462.99" width="11.40" height="2.06" fill="#f9f2cf"/>
<rect x="463.45" y="462.99" width="11.40" height="2.06" fill="#f9f2cd"/>
<rect x="429.40" y="465.0" width="11.40" height="2.06" fill="#f7ebb0"/>
<rect x="440.75" y="465.0" width="11.40" height="2.06" fill="#caa256"/>
<rect x="452.10" y="465.0" width="11.40" height="2.06" fill="#f8edb8"/>
<rect x="463.45" y="465.0" width="11.40" height="2.06" fill="#f9f0c8"/>
<rect x="429.40" y="467.01" width="11.40" height="2.05" fill="#f3e39f"/>
<rect x="440.75" y="467.01" width="11.40" height="2.05" fill="#cea859"/>
<rect x="452.10" y="467.01" width="11.40" height="2.05" fill="#f9f1c9"/>
<rect x="463.45" y="467.01" width="11.40" height="2.05" fill="#f9f2cf"/>
<rect x="429.40" y="469.01" width="11.40" height="2.06" fill="#f4e39f"/>
<rect x="440.75" y="469.01" width="11.40" height="2.06" fill="#d3af60"/>
<rect x="452.10" y="469.01" width="11.40" height="2.06" fill="#f9f2cf"/>
<rect x="463.45" y="469.01" width="11.40" height="2.06" fill="#faf7e4"/>
<rect x="429.40" y="471.02" width="11.40" height="2.06" fill="#f5e6a5"/>
<rect x="440.75" y="471.02" width="11.40" height="2.06" fill="#d5b363"/>
<rect x="452.10" y="471.02" width="11.40" height="2.06" fill="#f9f3d2"/>
<rect x="463.45" y="471.02" width="11.40" height="2.06" fill="#f9f2cd"/>
<rect x="429.40" y="473.03" width="11.40" height="2.05" fill="#f7e8a8"/>
<rect x="440.75" y="473.03" width="11.40" height="2.05" fill="#eeda90"/>
<rect x="452.10" y="473.03" width="11.40" height="2.05" fill="#f8efc3"/>
<rect x="463.45" y="473.03" width="11.40" height="2.05" fill="#faf4d6"/>
<rect x="429.40" y="475.03" width="11.40" height="2.06" fill="#f6e7a6"/>
<rect x="440.75" y="475.03" width="11.40" height="2.06" fill="#f2e09a"/>
<rect x="452.10" y="475.03" width="11.40" height="2.06" fill="#f9f1cc"/>
<rect x="463.45" y="475.03" width="11.40" height="2.06" fill="#f9f0c8"/>
<rect x="429.40" y="477.04" width="11.40" height="2.05" fill="#f7eaae"/>
<rect x="440.75" y="477.04" width="11.40" height="2.05" fill="#ebd588"/>
<rect x="452.10" y="477.04" width="11.40" height="2.05" fill="#f9f0c7"/>
<rect x="463.45" y="477.04" width="11.40" height="2.05" fill="#f9f1cb"/>
<rect x="429.40" y="479.04" width="11.40" height="2.06" fill="#f7e9aa"/>
<rect x="440.75" y="479.04" width="11.40" height="2.06" fill="#f4e4a0"/>
<rect x="452.10" y="479.04" width="11.40" height="2.06" fill="#f8eebd"/>
<rect x="463.45" y="479.04" width="11.40" height="2.06" fill="#f9f0c8"/>
<rect x="429.40" y="481.05" width="11.40" height="2.06" fill="#f8efc3"/>
<rect x="440.75" y="481.05" width="11.40" height="2.06" fill="#f2e09b"/>
<rect x="452.10" y="481.05" width="11.40" height="2.06" fill="#faf5db"/>
<rect x="463.45" y="481.05" width="11.40" height="2.06" fill="#faf4d8"/>
<rect x="429.40" y="483.06" width="11.40" height="2.05" fill="#efdc93"/>
<rect x="440.75" y="483.06" width="11.40" height="2.05" fill="#f0dd95"/>
<rect x="452.10" y="483.06" width="11.40" height="2.05" fill="#f9f1cc"/>
<rect x="463.45" y="483.06" width="11.40" height="2.05" fill="#f9f2cd"/>
<rect x="429.40" y="485.06" width="11.40" height="2.06" fill="#f8ecb6"/>
<rect x="440.75" y="485.06" width="11.40" height="2.06" fill="#f3e39f"/>
<rect x="452.10" y="485.06" width="11.40" height="2.06" fill="#faf4d6"/>
<rect x="463.45" y="485.06" width="11.40" height="2.06" fill="#f9f4d5"/>
<rect x="429.40" y="487.07" width="11.40" height="2.05" fill="#f7eaad"/>
<rect x="440.75" y="487.07" width="11.40" height="2.05" fill="#caa256"/>
<rect x="452.10" y="487.07" width="11.40" height="2.05" fill="#faf5da"/>
<rect x="463.45" y="487.07" width="11.40" height="2.05" fill="#f9efc4"/>
<rect x="429.40" y="489.07" width="11.40" height="2.06" fill="#f8ecb6"/>
<rect x="440.75" y="489.07" width="11.40" height="2.06" fill="#d9ba69"/>
<rect x="452.10" y="489.07" width="11.40" height="2.06" fill="#f9f0c6"/>
<rect x="463.45" y="489.07" width="11.40" height="2.06" fill="#f9f3d3"/>
<rect x="429.40" y="491.08" width="11.40" height="2.06" fill="#f6e7a6"/>
<rect x="440.75" y="491.08" width="11.40" height="2.06" fill="#e1c573"/>
<rect x="452.10" y="491.08" width="11.40" height="2.06" fill="#f9f2ce"/>
<rect x="463.45" y="491.08" width="11.40" height="2.06" fill="#f9f3d4"/>
<rect x="429.40" y="493.09" width="11.40" height="2.05" fill="#f4e4a1"/>
<rect x="440.75" y="493.09" width="11.40" height="2.05" fill="#d6b565"/>
<rect x="452.10" y="493.09" width="11.40" height="2.05" fill="#faf5dd"/>
<rect x="463.45" y="493.09" width="11.40" height="2.05" fill="#faf8e6"/>
<rect x="429.40" y="495.09" width="11.40" height="2.06" fill="#f7e9aa"/>
<rect x="440.75" y="495.09" width="11.40" height="2.06" fill="#e6cd7b"/>
<rect x="452.10" y="495.09" width="11.40" height="2.06" fill="#f9f0c6"/>
<rect x="463.45" y="495.09" width="11.40" height="2.06" fill="#f9f0c5"/>
<rect x="429.40" y="497.1" width="11.40" height="2.05" fill="#f2e19c"/>
<rect x="440.75" y="497.1" width="11.40" height="2.05" fill="#f0de96"/>
<rect x="452.10" y="497.1" width="11.40" height="2.05" fill="#f8eec0"/>
<rect x="463.45" y="497.1" width="11.40" height="2.05" fill="#f9f2d0"/>
<rect x="429.40" y="499.1" width="11.40" height="2.06" fill="#f3e39f"/>
<rect x="440.75" y="499.1" width="11.40" height="2.06" fill="#f0de96"/>
<rect x="452.10" y="499.1" width="11.40" height="2.06" fill="#faf7e4"/>
<rect x="463.45" y="499.1" width="11.40" height="2.06" fill="#f9f1c9"/>
<rect x="429.40" y="501.11" width="11.40" height="2.06" fill="#f7e9aa"/>
<rect x="440.75" y="501.11" width="11.40" height="2.06" fill="#e7cf7d"/>
<rect x="452.10" y="501.11" width="11.40" height="2.06" fill="#faf4d8"/>
<rect x="463.45" y="501.11" width="11.40" height="2.06" fill="#faf5dc"/>
<rect x="429.40" y="503.12" width="11.40" height="2.05" fill="#f3e29d"/>
<rect x="440.75" y="503.12" width="11.40" height="2.05" fill="#e8d07f"/>
<rect x="452.10" y="503.12" width="11.40" height="2.05" fill="#faf4d8"/>
<rect x="463.45" y="503.12" width="11.40" height="2.05" fill="#f9f1ca"/>
<rect x="429.40" y="505.12" width="11.40" height="2.06" fill="#f6e8a7"/>
<rect x="440.75" y="505.12" width="11.40" height="2.06" fill="#ebd487"/>
<rect x="452.10" y="505.12" width="11.40" height="2.06" fill="#faf6de"/>
<rect x="463.45" y="505.12" width="11.40" height="2.06" fill="#f9f1cc"/>
<rect x="429.40" y="507.13" width="11.40" height="2.05" fill="#f6e7a6"/>
<rect x="440.75" y="507.13" width="11.40" height="2.05" fill="#e9d282"/>
<rect x="452.10" y="507.13" width="11.40" height="2.05" fill="#faf5da"/>
<rect x="463.45" y="507.13" width="11.40" height="2.05" fill="#faf5dd"/>
<rect x="429.40" y="509.13" width="11.40" height="2.06" fill="#f3e39f"/>
<rect x="440.75" y="509.13" width="11.40" height="2.06" fill="#f4e3a0"/>
<rect x="452.10" y="509.13" width="11.40" height="2.06" fill="#f8efc3"/>
<rect x="463.45" y="509.13" width="11.40" height="2.06" fill="#f9f3d4"/>
<rect x="429.40" y="511.14" width="11.40" height="2.06" fill="#f4e5a2"/>
<rect x="440.75" y="511.14" width="11.40" height="2.06" fill="#f0dd95"/>
<rect x="452.10" y="511.14" width="11.40" height="2.06" fill="#f9f2cf"/>
<rect x="463.45" y="511.14" width="11.40" height="2.06" fill="#faf6e1"/>
<rect x="429.40" y="513.15" width="11.40" height="2.05" fill="#f8ebb3"/>
<rect x="440.75" y="513.15" width="11.40" height="2.05" fill="#f1e099"/>
<rect x="452.10" y="513.15" width="11.40" height="2.05" fill="#f9f0c7"/>
<rect x="463.45" y="513.15" width="11.40" height="2.05" fill="#f9f0c8"/>
<rect x="429.40" y="515.15" width="11.40" height="2.06" fill="#f9efc4"/>
<rect x="440.75" y="515.15" width="11.40" height="2.06" fill="#f0de97"/>
<rect x="452.10" y="515.15" width="11.40" height="2.06" fill="#f9f2cd"/>
<rect x="463.45" y="515.15" width="11.40" height="2.06" fill="#f9f1c9"/>
<rect x="429.40" y="517.16" width="11.40" height="2.05" fill="#f4e4a0"/>
<rect x="440.75" y="517.16" width="11.40" height="2.05" fill="#f7e9a8"/>
<rect x="452.10" y="517.16" width="11.40" height="2.05" fill="#f9f3d3"/>
<rect x="463.45" y="517.16" width="11.40" height="2.05" fill="#f9f3d2"/>
<rect x="429.40" y="519.16" width="11.40" height="2.06" fill="#f8ecb4"/>
<rect x="440.75" y="519.16" width="11.40" height="2.06" fill="#f5e6a3"/>
<rect x="452.10" y="519.16" width="11.40" height="2.06" fill="#faf4d8"/>
<rect x="463.45" y="519.16" width="11.40" height="2.06" fill="#f7eaaf"/>
<rect x="429.40" y="521.17" width="11.40" height="2.06" fill="#f6e8a7"/>
<rect x="440.75" y="521.17" width="11.40" height="2.06" fill="#f2e09b"/>
<rect x="452.10" y="521.17" width="11.40" height="2.06" fill="#faf5db"/>
<rect x="463.45" y="521.17" width="11.40" height="2.06" fill="#faf4d7"/>
<rect x="429.40" y="523.18" width="11.40" height="2.05" fill="#f8ebb2"/>
<rect x="440.75" y="523.18" width="11.40" height="2.05" fill="#f4e5a2"/>
<rect x="452.10" y="523.18" width="11.40" height="2.05" fill="#f9f1ca"/>
<rect x="463.45" y="523.18" width="11.40" height="2.05" fill="#f9f3d3"/>
<rect x="429.40" y="525.18" width="11.40" height="2.06" fill="#f8ecb5"/>
<rect x="440.75" y="525.18" width="11.40" height="2.06" fill="#f0dd94"/>
<rect x="452.10" y="525.18" width="11.40" height="2.06" fill="#f9f1ca"/>
<rect x="463.45" y="525.18" width="11.40" height="2.06" fill="#f9f2d0"/>
<rect x="429.40" y="527.19" width="11.40" height="2.05" fill="#f7e9aa"/>
<rect x="440.75" y="527.19" width="11.40" height="2.05" fill="#f0de96"/>
<rect x="452.10" y="527.19" width="11.40" height="2.05" fill="#faf5dd"/>
<rect x="463.45" y="527.19" width="11.40" height="2.05" fill="#f8efc3"/>
<rect x="429.40" y="529.19" width="11.40" height="2.06" fill="#ecd68a"/>
<rect x="440.75" y="529.19" width="11.40" height="2.06" fill="#902b27"/>
<rect x="452.10" y="529.19" width="11.40" height="2.06" fill="#f2e29c"/>
<rect x="463.45" y="529.19" width="11.40" height="2.06" fill="#f2e29c"/>
<defs><linearGradient id="cb356" x1="0" y1="1" x2="0" y2="0"><stop offset="0.000" stop-color="#3c4c8e"/><stop offset="0.100" stop-color="#6a80b8"/><stop offset="0.200" stop-color="#a0b2da"/><stop offset="0.300" stop-color="#c6d3ec"/><stop offset="0.400" stop-color="#e5edf8"/><stop offset="0.500" stop-color="#fbfaf0"/><stop offset="0.600" stop-color="#f7e9a9"/><stop offset="0.675" stop-color="#e6cd7a"/><stop offset="0.750" stop-color="#cca557"/><stop offset="0.850" stop-color="#aa7244"/><stop offset="0.925" stop-color="#9c4432"/><stop offset="1.000" stop-color="#8a1e22"/></linearGradient></defs>
<rect x="356.8" y="298.3" width="4.7" height="70.19999999999999" fill="url(#cb356)"/>
<text x="363.0" y="300.8" font-size="7" fill="#333" stroke="#333" stroke-width="0.25">1</text>
<text x="363.0" y="318.35" font-size="7" fill="#333" stroke="#333" stroke-width="0.25">0.5</text>
<text x="363.0" y="335.9" font-size="7" fill="#333" stroke="#333" stroke-width="0.25">0</text>
<text x="363.0" y="353.45" font-size="7" fill="#333" stroke="#333" stroke-width="0.25">–0.5</text>
<text x="363.0" y="371.0" font-size="7" fill="#333" stroke="#333" stroke-width="0.25">–1</text>
<text transform="translate(387.6,333.9) rotate(-90)" font-size="9.2" font-style="italic" text-anchor="middle" textLength="57.5" lengthAdjust="spacingAndGlyphs" fill="#231f20" stroke="#231f20" stroke-width="0.25">log2FoldChange</text>
<defs><linearGradient id="cb478" x1="0" y1="1" x2="0" y2="0"><stop offset="0.000" stop-color="#3c4c8e"/><stop offset="0.100" stop-color="#6a80b8"/><stop offset="0.200" stop-color="#a0b2da"/><stop offset="0.300" stop-color="#c6d3ec"/><stop offset="0.400" stop-color="#e5edf8"/><stop offset="0.500" stop-color="#fbfaf0"/><stop offset="0.600" stop-color="#f7e9a9"/><stop offset="0.675" stop-color="#e6cd7a"/><stop offset="0.750" stop-color="#cca557"/><stop offset="0.850" stop-color="#aa7244"/><stop offset="0.925" stop-color="#9c4432"/><stop offset="1.000" stop-color="#8a1e22"/></linearGradient></defs>
<rect x="478.9" y="298.3" width="4.5" height="70.19999999999999" fill="url(#cb478)"/>
<text x="486.3" y="300.8" font-size="7" fill="#333" stroke="#333" stroke-width="0.25">1</text>
<text x="486.3" y="318.35" font-size="7" fill="#333" stroke="#333" stroke-width="0.25">0.5</text>
<text x="486.3" y="335.9" font-size="7" fill="#333" stroke="#333" stroke-width="0.25">0</text>
<text x="486.3" y="353.45" font-size="7" fill="#333" stroke="#333" stroke-width="0.25">–0.5</text>
<text x="486.3" y="371.0" font-size="7" fill="#333" stroke="#333" stroke-width="0.25">–1</text>
<text transform="translate(510.0,333.9) rotate(-90)" font-size="9.2" font-style="italic" text-anchor="middle" textLength="57.5" lengthAdjust="spacingAndGlyphs" fill="#231f20" stroke="#231f20" stroke-width="0.25">log2FoldChange</text>
<text transform="translate(313.10,295.9) rotate(-45)" font-size="7.2" fill="#231f20" stroke="#231f20" stroke-width="0.25">hrs 1-2</text>
<text transform="translate(325.00,295.9) rotate(-45)" font-size="7.2" fill="#231f20" stroke="#231f20" stroke-width="0.25">hrs 4-6</text>
<text transform="translate(338.30,295.9) rotate(-45)" font-size="7.2" fill="#231f20" stroke="#231f20" stroke-width="0.25">PELO.hrs 1-2</text>
<text transform="translate(350.40,295.9) rotate(-45)" font-size="7.2" fill="#231f20" stroke="#231f20" stroke-width="0.25">PELO.hrs 4-6</text>
<text transform="translate(434.30,295.9) rotate(-45)" font-size="7.2" fill="#231f20" stroke="#231f20" stroke-width="0.25">hrs 1-2</text>
<text transform="translate(445.70,295.9) rotate(-45)" font-size="7.2" fill="#231f20" stroke="#231f20" stroke-width="0.25">hrs 4-6</text>
<text transform="translate(459.30,295.9) rotate(-45)" font-size="7.2" fill="#231f20" stroke="#231f20" stroke-width="0.25">PELO.hrs 1-2</text>
<text transform="translate(470.80,295.9) rotate(-45)" font-size="7.2" fill="#231f20" stroke="#231f20" stroke-width="0.25">PELO.hrs 4-6</text>
<g stroke="#9c9c9c" stroke-width="0.75" fill="none">
<line x1="305.6" y1="299.5" x2="305.6" y2="301.5"/>
<line x1="304.8" y1="300.5" x2="304.8" y2="303.5"/>
<line x1="304.8" y1="300.5" x2="305.6" y2="300.5"/>
<line x1="304.9" y1="305.5" x2="304.9" y2="307.5"/>
<line x1="305.1" y1="309.5" x2="305.1" y2="311.5"/>
<line x1="304.3" y1="310.5" x2="304.3" y2="313.5"/>
<line x1="304.3" y1="310.5" x2="305.1" y2="310.5"/>
<line x1="303.5" y1="306.5" x2="303.5" y2="312.0"/>
<line x1="303.5" y1="306.5" x2="304.9" y2="306.5"/>
<line x1="303.5" y1="312.0" x2="304.3" y2="312.0"/>
<line x1="305.7" y1="315.6" x2="305.7" y2="317.6"/>
<line x1="306.2" y1="321.6" x2="306.2" y2="323.6"/>
<line x1="305.4" y1="319.6" x2="305.4" y2="322.6"/>
<line x1="305.4" y1="322.6" x2="306.2" y2="322.6"/>
<line x1="305.4" y1="325.6" x2="305.4" y2="327.6"/>
<line x1="304.6" y1="321.1" x2="304.6" y2="326.6"/>
<line x1="304.6" y1="321.1" x2="305.4" y2="321.1"/>
<line x1="304.6" y1="326.6" x2="305.4" y2="326.6"/>
<line x1="302.5" y1="316.6" x2="302.5" y2="323.8"/>
<line x1="302.5" y1="316.6" x2="305.7" y2="316.6"/>
<line x1="302.5" y1="323.8" x2="304.6" y2="323.8"/>
<line x1="305.2" y1="329.6" x2="305.2" y2="331.6"/>
<line x1="305.4" y1="333.6" x2="305.4" y2="335.6"/>
<line x1="305.4" y1="337.6" x2="305.4" y2="339.6"/>
<line x1="304.6" y1="334.6" x2="304.6" y2="338.6"/>
<line x1="304.6" y1="334.6" x2="305.4" y2="334.6"/>
<line x1="304.6" y1="338.6" x2="305.4" y2="338.6"/>
<line x1="303.8" y1="330.6" x2="303.8" y2="336.6"/>
<line x1="303.8" y1="330.6" x2="305.2" y2="330.6"/>
<line x1="303.8" y1="336.6" x2="304.6" y2="336.6"/>
<line x1="305.3" y1="341.6" x2="305.3" y2="343.6"/>
<line x1="304.5" y1="342.6" x2="304.5" y2="345.6"/>
<line x1="304.5" y1="342.6" x2="305.3" y2="342.6"/>
<line x1="303.0" y1="333.6" x2="303.0" y2="344.1"/>
<line x1="303.0" y1="333.6" x2="303.8" y2="333.6"/>
<line x1="303.0" y1="344.1" x2="304.5" y2="344.1"/>
<line x1="305.6" y1="347.6" x2="305.6" y2="349.7"/>
<line x1="302.2" y1="338.9" x2="302.2" y2="348.7"/>
<line x1="302.2" y1="338.9" x2="303.0" y2="338.9"/>
<line x1="302.2" y1="348.7" x2="305.6" y2="348.7"/>
<line x1="300.8" y1="320.2" x2="300.8" y2="343.8"/>
<line x1="300.8" y1="320.2" x2="302.5" y2="320.2"/>
<line x1="300.8" y1="343.8" x2="302.2" y2="343.8"/>
<line x1="305.4" y1="351.7" x2="305.4" y2="353.7"/>
<line x1="306.9" y1="357.7" x2="306.9" y2="359.7"/>
<line x1="306.1" y1="355.7" x2="306.1" y2="358.7"/>
<line x1="306.1" y1="358.7" x2="306.9" y2="358.7"/>
<line x1="305.3" y1="357.2" x2="305.3" y2="361.7"/>
<line x1="305.3" y1="357.2" x2="306.1" y2="357.2"/>
<line x1="304.5" y1="352.7" x2="304.5" y2="359.4"/>
<line x1="304.5" y1="352.7" x2="305.4" y2="352.7"/>
<line x1="304.5" y1="359.4" x2="305.3" y2="359.4"/>
<line x1="305.3" y1="363.7" x2="305.3" y2="365.7"/>
<line x1="304.5" y1="364.7" x2="304.5" y2="367.7"/>
<line x1="304.5" y1="364.7" x2="305.3" y2="364.7"/>
<line x1="307.7" y1="371.7" x2="307.7" y2="373.7"/>
<line x1="306.9" y1="372.7" x2="306.9" y2="375.7"/>
<line x1="306.1" y1="374.2" x2="306.1" y2="377.7"/>
<line x1="306.1" y1="374.2" x2="306.9" y2="374.2"/>
<line x1="305.3" y1="376.0" x2="305.3" y2="379.7"/>
<line x1="305.3" y1="376.0" x2="306.1" y2="376.0"/>
<line x1="304.5" y1="369.7" x2="304.5" y2="377.9"/>
<line x1="304.5" y1="377.9" x2="305.3" y2="377.9"/>
<line x1="303.7" y1="366.2" x2="303.7" y2="373.8"/>
<line x1="303.7" y1="366.2" x2="304.5" y2="366.2"/>
<line x1="303.7" y1="373.8" x2="304.5" y2="373.8"/>
<line x1="305.8" y1="383.8" x2="305.8" y2="385.8"/>
<line x1="305.0" y1="381.8" x2="305.0" y2="384.8"/>
<line x1="305.0" y1="384.8" x2="305.8" y2="384.8"/>
<line x1="303.7" y1="383.3" x2="303.7" y2="387.8"/>
<line x1="303.7" y1="383.3" x2="305.0" y2="383.3"/>
<line x1="302.9" y1="370.0" x2="302.9" y2="385.5"/>
<line x1="302.9" y1="370.0" x2="303.7" y2="370.0"/>
<line x1="302.9" y1="385.5" x2="303.7" y2="385.5"/>
<line x1="300.4" y1="356.0" x2="300.4" y2="377.8"/>
<line x1="300.4" y1="356.0" x2="304.5" y2="356.0"/>
<line x1="300.4" y1="377.8" x2="302.9" y2="377.8"/>
<line x1="299.6" y1="332.0" x2="299.6" y2="366.9"/>
<line x1="299.6" y1="332.0" x2="300.8" y2="332.0"/>
<line x1="299.6" y1="366.9" x2="300.4" y2="366.9"/>
<line x1="298.8" y1="309.3" x2="298.8" y2="349.4"/>
<line x1="298.8" y1="309.3" x2="303.5" y2="309.3"/>
<line x1="298.8" y1="349.4" x2="299.6" y2="349.4"/>
<line x1="298.0" y1="302.0" x2="298.0" y2="329.4"/>
<line x1="298.0" y1="302.0" x2="304.8" y2="302.0"/>
<line x1="298.0" y1="329.4" x2="298.8" y2="329.4"/>
<line x1="305.1" y1="391.8" x2="305.1" y2="393.8"/>
<line x1="304.2" y1="389.8" x2="304.2" y2="392.8"/>
<line x1="304.2" y1="392.8" x2="305.1" y2="392.8"/>
<line x1="304.6" y1="395.8" x2="304.6" y2="397.8"/>
<line x1="305.7" y1="399.8" x2="305.7" y2="401.8"/>
<line x1="303.7" y1="396.8" x2="303.7" y2="400.8"/>
<line x1="303.7" y1="396.8" x2="304.6" y2="396.8"/>
<line x1="303.7" y1="400.8" x2="305.7" y2="400.8"/>
<line x1="305.3" y1="403.8" x2="305.3" y2="405.8"/>
<line x1="304.5" y1="404.8" x2="304.5" y2="407.8"/>
<line x1="304.5" y1="404.8" x2="305.3" y2="404.8"/>
<line x1="305.6" y1="409.8" x2="305.6" y2="411.8"/>
<line x1="304.4" y1="410.8" x2="304.4" y2="413.8"/>
<line x1="304.4" y1="410.8" x2="305.6" y2="410.8"/>
<line x1="305.6" y1="415.9" x2="305.6" y2="417.9"/>
<line x1="303.6" y1="412.3" x2="303.6" y2="416.9"/>
<line x1="303.6" y1="412.3" x2="304.4" y2="412.3"/>
<line x1="303.6" y1="416.9" x2="305.6" y2="416.9"/>
<line x1="306.9" y1="419.9" x2="306.9" y2="421.9"/>
<line x1="306.1" y1="420.9" x2="306.1" y2="423.9"/>
<line x1="306.1" y1="420.9" x2="306.9" y2="420.9"/>
<line x1="305.3" y1="422.4" x2="305.3" y2="425.9"/>
<line x1="305.3" y1="422.4" x2="306.1" y2="422.4"/>
<line x1="304.5" y1="424.1" x2="304.5" y2="427.9"/>
<line x1="304.5" y1="424.1" x2="305.3" y2="424.1"/>
<line x1="304.8" y1="429.9" x2="304.8" y2="431.9"/>
<line x1="303.7" y1="426.0" x2="303.7" y2="430.9"/>
<line x1="303.7" y1="426.0" x2="304.5" y2="426.0"/>
<line x1="303.7" y1="430.9" x2="304.8" y2="430.9"/>
<line x1="301.8" y1="414.6" x2="301.8" y2="428.5"/>
<line x1="301.8" y1="414.6" x2="303.6" y2="414.6"/>
<line x1="301.8" y1="428.5" x2="303.7" y2="428.5"/>
<line x1="305.7" y1="433.9" x2="305.7" y2="435.9"/>
<line x1="305.6" y1="439.9" x2="305.6" y2="441.9"/>
<line x1="304.3" y1="437.9" x2="304.3" y2="440.9"/>
<line x1="304.3" y1="440.9" x2="305.6" y2="440.9"/>
<line x1="306.1" y1="447.9" x2="306.1" y2="450.0"/>
<line x1="305.3" y1="445.9" x2="305.3" y2="449.0"/>
<line x1="305.3" y1="449.0" x2="306.1" y2="449.0"/>
<line x1="305.3" y1="452.0" x2="305.3" y2="454.0"/>
<line x1="304.5" y1="447.4" x2="304.5" y2="453.0"/>
<line x1="304.5" y1="447.4" x2="305.3" y2="447.4"/>
<line x1="304.5" y1="453.0" x2="305.3" y2="453.0"/>
<line x1="305.7" y1="458.0" x2="305.7" y2="460.0"/>
<line x1="304.9" y1="456.0" x2="304.9" y2="459.0"/>
<line x1="304.9" y1="459.0" x2="305.7" y2="459.0"/>
<line x1="305.7" y1="462.0" x2="305.7" y2="464.0"/>
<line x1="306.5" y1="468.0" x2="306.5" y2="470.0"/>
<line x1="305.7" y1="466.0" x2="305.7" y2="469.0"/>
<line x1="305.7" y1="469.0" x2="306.5" y2="469.0"/>
<line x1="304.9" y1="463.0" x2="304.9" y2="467.5"/>
<line x1="304.9" y1="463.0" x2="305.7" y2="463.0"/>
<line x1="304.9" y1="467.5" x2="305.7" y2="467.5"/>
<line x1="304.1" y1="457.5" x2="304.1" y2="465.3"/>
<line x1="304.1" y1="457.5" x2="304.9" y2="457.5"/>
<line x1="304.1" y1="465.3" x2="304.9" y2="465.3"/>
<line x1="305.4" y1="472.0" x2="305.4" y2="474.0"/>
<line x1="304.3" y1="473.0" x2="304.3" y2="476.0"/>
<line x1="304.3" y1="473.0" x2="305.4" y2="473.0"/>
<line x1="303.3" y1="461.4" x2="303.3" y2="474.5"/>
<line x1="303.3" y1="461.4" x2="304.1" y2="461.4"/>
<line x1="303.3" y1="474.5" x2="304.3" y2="474.5"/>
<line x1="302.5" y1="450.2" x2="302.5" y2="467.9"/>
<line x1="302.5" y1="450.2" x2="304.5" y2="450.2"/>
<line x1="302.5" y1="467.9" x2="303.3" y2="467.9"/>
<line x1="301.7" y1="443.9" x2="301.7" y2="459.1"/>
<line x1="301.7" y1="459.1" x2="302.5" y2="459.1"/>
<line x1="300.5" y1="439.4" x2="300.5" y2="451.5"/>
<line x1="300.5" y1="439.4" x2="304.3" y2="439.4"/>
<line x1="300.5" y1="451.5" x2="301.7" y2="451.5"/>
<line x1="299.7" y1="434.9" x2="299.7" y2="445.5"/>
<line x1="299.7" y1="434.9" x2="305.7" y2="434.9"/>
<line x1="299.7" y1="445.5" x2="300.5" y2="445.5"/>
<line x1="304.9" y1="478.0" x2="304.9" y2="480.0"/>
<line x1="306.5" y1="482.1" x2="306.5" y2="484.1"/>
<line x1="305.7" y1="483.1" x2="305.7" y2="486.1"/>
<line x1="305.7" y1="483.1" x2="306.5" y2="483.1"/>
<line x1="306.5" y1="490.1" x2="306.5" y2="492.1"/>
<line x1="305.7" y1="488.1" x2="305.7" y2="491.1"/>
<line x1="305.7" y1="491.1" x2="306.5" y2="491.1"/>
<line x1="304.9" y1="484.6" x2="304.9" y2="489.6"/>
<line x1="304.9" y1="484.6" x2="305.7" y2="484.6"/>
<line x1="304.9" y1="489.6" x2="305.7" y2="489.6"/>
<line x1="304.1" y1="479.0" x2="304.1" y2="487.1"/>
<line x1="304.1" y1="479.0" x2="304.9" y2="479.0"/>
<line x1="304.1" y1="487.1" x2="304.9" y2="487.1"/>
<line x1="305.3" y1="494.1" x2="305.3" y2="496.1"/>
<line x1="306.6" y1="498.1" x2="306.6" y2="500.1"/>
<line x1="305.8" y1="499.1" x2="305.8" y2="502.1"/>
<line x1="305.8" y1="499.1" x2="306.6" y2="499.1"/>
<line x1="305.0" y1="500.6" x2="305.0" y2="504.1"/>
<line x1="305.0" y1="500.6" x2="305.8" y2="500.6"/>
<line x1="304.2" y1="495.1" x2="304.2" y2="502.4"/>
<line x1="304.2" y1="495.1" x2="305.3" y2="495.1"/>
<line x1="304.2" y1="502.4" x2="305.0" y2="502.4"/>
<line x1="305.7" y1="506.1" x2="305.7" y2="508.1"/>
<line x1="304.9" y1="507.1" x2="304.9" y2="510.1"/>
<line x1="304.9" y1="507.1" x2="305.7" y2="507.1"/>
<line x1="303.4" y1="498.7" x2="303.4" y2="508.6"/>
<line x1="303.4" y1="498.7" x2="304.2" y2="498.7"/>
<line x1="303.4" y1="508.6" x2="304.9" y2="508.6"/>
<line x1="305.2" y1="512.1" x2="305.2" y2="514.1"/>
<line x1="302.6" y1="503.7" x2="302.6" y2="513.1"/>
<line x1="302.6" y1="503.7" x2="303.4" y2="503.7"/>
<line x1="302.6" y1="513.1" x2="305.2" y2="513.1"/>
<line x1="301.4" y1="483.1" x2="301.4" y2="508.4"/>
<line x1="301.4" y1="483.1" x2="304.1" y2="483.1"/>
<line x1="301.4" y1="508.4" x2="302.6" y2="508.4"/>
<line x1="305.5" y1="518.2" x2="305.5" y2="520.2"/>
<line x1="304.3" y1="516.2" x2="304.3" y2="519.2"/>
<line x1="304.3" y1="519.2" x2="305.5" y2="519.2"/>
<line x1="300.6" y1="495.7" x2="300.6" y2="517.7"/>
<line x1="300.6" y1="495.7" x2="301.4" y2="495.7"/>
<line x1="300.6" y1="517.7" x2="304.3" y2="517.7"/>
<line x1="306.2" y1="522.2" x2="306.2" y2="524.2"/>
<line x1="305.4" y1="523.2" x2="305.4" y2="526.2"/>
<line x1="305.4" y1="523.2" x2="306.2" y2="523.2"/>
<line x1="305.7" y1="528.2" x2="305.7" y2="530.2"/>
<line x1="304.0" y1="524.7" x2="304.0" y2="529.2"/>
<line x1="304.0" y1="524.7" x2="305.4" y2="524.7"/>
<line x1="304.0" y1="529.2" x2="305.7" y2="529.2"/>
<line x1="298.4" y1="506.7" x2="298.4" y2="526.9"/>
<line x1="298.4" y1="506.7" x2="300.6" y2="506.7"/>
<line x1="298.4" y1="526.9" x2="304.0" y2="526.9"/>
<line x1="297.4" y1="440.2" x2="297.4" y2="516.8"/>
<line x1="297.4" y1="440.2" x2="299.7" y2="440.2"/>
<line x1="297.4" y1="516.8" x2="298.4" y2="516.8"/>
<line x1="296.6" y1="421.5" x2="296.6" y2="478.5"/>
<line x1="296.6" y1="421.5" x2="301.8" y2="421.5"/>
<line x1="296.6" y1="478.5" x2="297.4" y2="478.5"/>
<line x1="295.3" y1="406.3" x2="295.3" y2="450.0"/>
<line x1="295.3" y1="406.3" x2="304.5" y2="406.3"/>
<line x1="295.3" y1="450.0" x2="296.6" y2="450.0"/>
<line x1="294.5" y1="398.8" x2="294.5" y2="428.2"/>
<line x1="294.5" y1="398.8" x2="303.7" y2="398.8"/>
<line x1="294.5" y1="428.2" x2="295.3" y2="428.2"/>
<line x1="291.9" y1="391.3" x2="291.9" y2="413.5"/>
<line x1="291.9" y1="391.3" x2="304.2" y2="391.3"/>
<line x1="291.9" y1="413.5" x2="294.5" y2="413.5"/>
<line x1="282.5" y1="315.7" x2="282.5" y2="402.4"/>
<line x1="282.5" y1="315.7" x2="298.0" y2="315.7"/>
<line x1="282.5" y1="402.4" x2="291.9" y2="402.4"/>
</g>
<g stroke="#4a4a4a" stroke-width="0.8" fill="none">
<line x1="305.6" y1="299.5" x2="307.2" y2="299.5"/>
<line x1="305.6" y1="301.5" x2="307.2" y2="301.5"/>
<line x1="304.8" y1="303.5" x2="307.2" y2="303.5"/>
<line x1="304.9" y1="305.5" x2="307.2" y2="305.5"/>
<line x1="304.9" y1="307.5" x2="307.2" y2="307.5"/>
<line x1="305.1" y1="309.5" x2="307.2" y2="309.5"/>
<line x1="305.1" y1="311.5" x2="307.2" y2="311.5"/>
<line x1="304.3" y1="313.5" x2="307.2" y2="313.5"/>
<line x1="305.7" y1="315.6" x2="307.2" y2="315.6"/>
<line x1="305.7" y1="317.6" x2="307.2" y2="317.6"/>
<line x1="306.2" y1="321.6" x2="307.2" y2="321.6"/>
<line x1="306.2" y1="323.6" x2="307.2" y2="323.6"/>
<line x1="305.4" y1="319.6" x2="307.2" y2="319.6"/>
<line x1="305.4" y1="325.6" x2="307.2" y2="325.6"/>
<line x1="305.4" y1="327.6" x2="307.2" y2="327.6"/>
<line x1="305.2" y1="329.6" x2="307.2" y2="329.6"/>
<line x1="305.2" y1="331.6" x2="307.2" y2="331.6"/>
<line x1="305.4" y1="333.6" x2="307.2" y2="333.6"/>
<line x1="305.4" y1="335.6" x2="307.2" y2="335.6"/>
<line x1="305.4" y1="337.6" x2="307.2" y2="337.6"/>
<line x1="305.4" y1="339.6" x2="307.2" y2="339.6"/>
<line x1="305.3" y1="341.6" x2="307.2" y2="341.6"/>
<line x1="305.3" y1="343.6" x2="307.2" y2="343.6"/>
<line x1="304.5" y1="345.6" x2="307.2" y2="345.6"/>
<line x1="305.6" y1="347.6" x2="307.2" y2="347.6"/>
<line x1="305.6" y1="349.7" x2="307.2" y2="349.7"/>
<line x1="305.4" y1="351.7" x2="307.2" y2="351.7"/>
<line x1="305.4" y1="353.7" x2="307.2" y2="353.7"/>
<line x1="306.9" y1="357.7" x2="307.2" y2="357.7"/>
<line x1="306.9" y1="359.7" x2="307.2" y2="359.7"/>
<line x1="306.1" y1="355.7" x2="307.2" y2="355.7"/>
<line x1="305.3" y1="361.7" x2="307.2" y2="361.7"/>
<line x1="305.3" y1="363.7" x2="307.2" y2="363.7"/>
<line x1="305.3" y1="365.7" x2="307.2" y2="365.7"/>
<line x1="304.5" y1="367.7" x2="307.2" y2="367.7"/>
<line x1="307.7" y1="371.7" x2="307.2" y2="371.7"/>
<line x1="307.7" y1="373.7" x2="307.2" y2="373.7"/>
<line x1="306.9" y1="372.7" x2="307.7" y2="372.7"/>
<line x1="306.9" y1="375.7" x2="307.2" y2="375.7"/>
<line x1="306.1" y1="377.7" x2="307.2" y2="377.7"/>
<line x1="305.3" y1="379.7" x2="307.2" y2="379.7"/>
<line x1="304.5" y1="369.7" x2="307.2" y2="369.7"/>
<line x1="305.8" y1="383.8" x2="307.2" y2="383.8"/>
<line x1="305.8" y1="385.8" x2="307.2" y2="385.8"/>
<line x1="305.0" y1="381.8" x2="307.2" y2="381.8"/>
<line x1="303.7" y1="387.8" x2="307.2" y2="387.8"/>
<line x1="305.1" y1="391.8" x2="307.2" y2="391.8"/>
<line x1="305.1" y1="393.8" x2="307.2" y2="393.8"/>
<line x1="304.2" y1="389.8" x2="307.2" y2="389.8"/>
<line x1="304.6" y1="395.8" x2="307.2" y2="395.8"/>
<line x1="304.6" y1="397.8" x2="307.2" y2="397.8"/>
<line x1="305.7" y1="399.8" x2="307.2" y2="399.8"/>
<line x1="305.7" y1="401.8" x2="307.2" y2="401.8"/>
<line x1="305.3" y1="403.8" x2="307.2" y2="403.8"/>
<line x1="305.3" y1="405.8" x2="307.2" y2="405.8"/>
<line x1="304.5" y1="407.8" x2="307.2" y2="407.8"/>
<line x1="305.6" y1="409.8" x2="307.2" y2="409.8"/>
<line x1="305.6" y1="411.8" x2="307.2" y2="411.8"/>
<line x1="304.4" y1="413.8" x2="307.2" y2="413.8"/>
<line x1="305.6" y1="415.9" x2="307.2" y2="415.9"/>
<line x1="305.6" y1="417.9" x2="307.2" y2="417.9"/>
<line x1="306.9" y1="419.9" x2="307.2" y2="419.9"/>
<line x1="306.9" y1="421.9" x2="307.2" y2="421.9"/>
<line x1="306.1" y1="423.9" x2="307.2" y2="423.9"/>
<line x1="305.3" y1="425.9" x2="307.2" y2="425.9"/>
<line x1="304.5" y1="427.9" x2="307.2" y2="427.9"/>
<line x1="304.8" y1="429.9" x2="307.2" y2="429.9"/>
<line x1="304.8" y1="431.9" x2="307.2" y2="431.9"/>
<line x1="305.7" y1="433.9" x2="307.2" y2="433.9"/>
<line x1="305.7" y1="435.9" x2="307.2" y2="435.9"/>
<line x1="305.6" y1="439.9" x2="307.2" y2="439.9"/>
<line x1="305.6" y1="441.9" x2="307.2" y2="441.9"/>
<line x1="304.3" y1="437.9" x2="307.2" y2="437.9"/>
<line x1="306.1" y1="447.9" x2="307.2" y2="447.9"/>
<line x1="306.1" y1="450.0" x2="307.2" y2="450.0"/>
<line x1="305.3" y1="445.9" x2="307.2" y2="445.9"/>
<line x1="305.3" y1="452.0" x2="307.2" y2="452.0"/>
<line x1="305.3" y1="454.0" x2="307.2" y2="454.0"/>
<line x1="305.7" y1="458.0" x2="307.2" y2="458.0"/>
<line x1="305.7" y1="460.0" x2="307.2" y2="460.0"/>
<line x1="304.9" y1="456.0" x2="307.2" y2="456.0"/>
<line x1="305.7" y1="462.0" x2="307.2" y2="462.0"/>
<line x1="305.7" y1="464.0" x2="307.2" y2="464.0"/>
<line x1="306.5" y1="468.0" x2="307.2" y2="468.0"/>
<line x1="306.5" y1="470.0" x2="307.2" y2="470.0"/>
<line x1="305.7" y1="466.0" x2="307.2" y2="466.0"/>
<line x1="305.4" y1="472.0" x2="307.2" y2="472.0"/>
<line x1="305.4" y1="474.0" x2="307.2" y2="474.0"/>
<line x1="304.3" y1="476.0" x2="307.2" y2="476.0"/>
<line x1="301.7" y1="443.9" x2="307.2" y2="443.9"/>
<line x1="304.9" y1="478.0" x2="307.2" y2="478.0"/>
<line x1="304.9" y1="480.0" x2="307.2" y2="480.0"/>
<line x1="306.5" y1="482.1" x2="307.2" y2="482.1"/>
<line x1="306.5" y1="484.1" x2="307.2" y2="484.1"/>
<line x1="305.7" y1="486.1" x2="307.2" y2="486.1"/>
<line x1="306.5" y1="490.1" x2="307.2" y2="490.1"/>
<line x1="306.5" y1="492.1" x2="307.2" y2="492.1"/>
<line x1="305.7" y1="488.1" x2="307.2" y2="488.1"/>
<line x1="305.3" y1="494.1" x2="307.2" y2="494.1"/>
<line x1="305.3" y1="496.1" x2="307.2" y2="496.1"/>
<line x1="306.6" y1="498.1" x2="307.2" y2="498.1"/>
<line x1="306.6" y1="500.1" x2="307.2" y2="500.1"/>
<line x1="305.8" y1="502.1" x2="307.2" y2="502.1"/>
<line x1="305.0" y1="504.1" x2="307.2" y2="504.1"/>
<line x1="305.7" y1="506.1" x2="307.2" y2="506.1"/>
<line x1="305.7" y1="508.1" x2="307.2" y2="508.1"/>
<line x1="304.9" y1="510.1" x2="307.2" y2="510.1"/>
<line x1="305.2" y1="512.1" x2="307.2" y2="512.1"/>
<line x1="305.2" y1="514.1" x2="307.2" y2="514.1"/>
<line x1="305.5" y1="518.2" x2="307.2" y2="518.2"/>
<line x1="305.5" y1="520.2" x2="307.2" y2="520.2"/>
<line x1="304.3" y1="516.2" x2="307.2" y2="516.2"/>
<line x1="306.2" y1="522.2" x2="307.2" y2="522.2"/>
<line x1="306.2" y1="524.2" x2="307.2" y2="524.2"/>
<line x1="305.4" y1="526.2" x2="307.2" y2="526.2"/>
<line x1="305.7" y1="528.2" x2="307.2" y2="528.2"/>
<line x1="305.7" y1="530.2" x2="307.2" y2="530.2"/>
</g>
<g stroke="#9c9c9c" stroke-width="0.75" fill="none">
<line x1="426.8" y1="299.5" x2="426.8" y2="301.5"/>
<line x1="427.3" y1="303.5" x2="427.3" y2="305.5"/>
<line x1="427.2" y1="309.5" x2="427.2" y2="311.5"/>
<line x1="426.4" y1="310.5" x2="426.4" y2="313.5"/>
<line x1="426.4" y1="310.5" x2="427.2" y2="310.5"/>
<line x1="428.7" y1="317.6" x2="428.7" y2="319.6"/>
<line x1="427.9" y1="315.6" x2="427.9" y2="318.6"/>
<line x1="427.9" y1="318.6" x2="428.7" y2="318.6"/>
<line x1="427.1" y1="317.1" x2="427.1" y2="321.6"/>
<line x1="427.1" y1="317.1" x2="427.9" y2="317.1"/>
<line x1="428.6" y1="327.6" x2="428.6" y2="329.6"/>
<line x1="427.8" y1="325.6" x2="427.8" y2="328.6"/>
<line x1="427.8" y1="328.6" x2="428.6" y2="328.6"/>
<line x1="428.6" y1="331.6" x2="428.6" y2="333.6"/>
<line x1="429.4" y1="337.6" x2="429.4" y2="339.6"/>
<line x1="428.6" y1="335.6" x2="428.6" y2="338.6"/>
<line x1="427.8" y1="332.6" x2="427.8" y2="337.1"/>
<line x1="427.8" y1="332.6" x2="428.6" y2="332.6"/>
<line x1="427.8" y1="337.1" x2="428.6" y2="337.1"/>
<line x1="427.0" y1="327.1" x2="427.0" y2="334.9"/>
<line x1="427.0" y1="327.1" x2="427.8" y2="327.1"/>
<line x1="427.0" y1="334.9" x2="427.8" y2="334.9"/>
<line x1="426.2" y1="323.6" x2="426.2" y2="331.0"/>
<line x1="426.2" y1="331.0" x2="427.0" y2="331.0"/>
<line x1="425.4" y1="319.3" x2="425.4" y2="327.3"/>
<line x1="425.4" y1="319.3" x2="427.1" y2="319.3"/>
<line x1="425.4" y1="327.3" x2="426.2" y2="327.3"/>
<line x1="424.6" y1="312.0" x2="424.6" y2="323.3"/>
<line x1="424.6" y1="312.0" x2="426.4" y2="312.0"/>
<line x1="424.6" y1="323.3" x2="425.4" y2="323.3"/>
<line x1="423.8" y1="307.5" x2="423.8" y2="317.7"/>
<line x1="423.8" y1="317.7" x2="424.6" y2="317.7"/>
<line x1="427.9" y1="345.6" x2="427.9" y2="347.6"/>
<line x1="427.1" y1="343.6" x2="427.1" y2="346.6"/>
<line x1="427.1" y1="346.6" x2="427.9" y2="346.6"/>
<line x1="426.1" y1="345.1" x2="426.1" y2="349.7"/>
<line x1="426.1" y1="345.1" x2="427.1" y2="345.1"/>
<line x1="427.6" y1="353.7" x2="427.6" y2="355.7"/>
<line x1="426.8" y1="351.7" x2="426.8" y2="354.7"/>
<line x1="426.8" y1="354.7" x2="427.6" y2="354.7"/>
<line x1="425.3" y1="347.4" x2="425.3" y2="353.2"/>
<line x1="425.3" y1="347.4" x2="426.1" y2="347.4"/>
<line x1="425.3" y1="353.2" x2="426.8" y2="353.2"/>
<line x1="424.5" y1="341.6" x2="424.5" y2="350.3"/>
<line x1="424.5" y1="350.3" x2="425.3" y2="350.3"/>
<line x1="423.0" y1="312.6" x2="423.0" y2="346.0"/>
<line x1="423.0" y1="312.6" x2="423.8" y2="312.6"/>
<line x1="423.0" y1="346.0" x2="424.5" y2="346.0"/>
<line x1="420.2" y1="304.5" x2="420.2" y2="329.3"/>
<line x1="420.2" y1="304.5" x2="427.3" y2="304.5"/>
<line x1="420.2" y1="329.3" x2="423.0" y2="329.3"/>
<line x1="418.4" y1="300.5" x2="418.4" y2="316.9"/>
<line x1="418.4" y1="300.5" x2="426.8" y2="300.5"/>
<line x1="418.4" y1="316.9" x2="420.2" y2="316.9"/>
<line x1="427.8" y1="361.7" x2="427.8" y2="363.7"/>
<line x1="428.3" y1="367.7" x2="428.3" y2="369.7"/>
<line x1="428.3" y1="371.7" x2="428.3" y2="373.7"/>
<line x1="427.5" y1="368.7" x2="427.5" y2="372.7"/>
<line x1="427.5" y1="368.7" x2="428.3" y2="368.7"/>
<line x1="427.5" y1="372.7" x2="428.3" y2="372.7"/>
<line x1="426.7" y1="365.7" x2="426.7" y2="370.7"/>
<line x1="426.7" y1="370.7" x2="427.5" y2="370.7"/>
<line x1="427.7" y1="377.7" x2="427.7" y2="379.7"/>
<line x1="426.7" y1="375.7" x2="426.7" y2="378.7"/>
<line x1="426.7" y1="378.7" x2="427.7" y2="378.7"/>
<line x1="425.9" y1="368.2" x2="425.9" y2="377.2"/>
<line x1="425.9" y1="368.2" x2="426.7" y2="368.2"/>
<line x1="425.9" y1="377.2" x2="426.7" y2="377.2"/>
<line x1="425.1" y1="362.7" x2="425.1" y2="372.7"/>
<line x1="425.1" y1="362.7" x2="427.8" y2="362.7"/>
<line x1="425.1" y1="372.7" x2="425.9" y2="372.7"/>
<line x1="424.3" y1="359.7" x2="424.3" y2="367.7"/>
<line x1="424.3" y1="367.7" x2="425.1" y2="367.7"/>
<line x1="423.3" y1="357.7" x2="423.3" y2="363.7"/>
<line x1="423.3" y1="363.7" x2="424.3" y2="363.7"/>
<line x1="428.4" y1="383.8" x2="428.4" y2="385.8"/>
<line x1="427.6" y1="384.8" x2="427.6" y2="387.8"/>
<line x1="427.6" y1="384.8" x2="428.4" y2="384.8"/>
<line x1="428.4" y1="391.8" x2="428.4" y2="393.8"/>
<line x1="427.6" y1="389.8" x2="427.6" y2="392.8"/>
<line x1="427.6" y1="392.8" x2="428.4" y2="392.8"/>
<line x1="426.8" y1="386.3" x2="426.8" y2="391.3"/>
<line x1="426.8" y1="386.3" x2="427.6" y2="386.3"/>
<line x1="426.8" y1="391.3" x2="427.6" y2="391.3"/>
<line x1="426.0" y1="381.8" x2="426.0" y2="388.8"/>
<line x1="426.0" y1="388.8" x2="426.8" y2="388.8"/>
<line x1="427.7" y1="399.8" x2="427.7" y2="401.8"/>
<line x1="426.9" y1="397.8" x2="426.9" y2="400.8"/>
<line x1="426.9" y1="400.8" x2="427.7" y2="400.8"/>
<line x1="426.1" y1="399.3" x2="426.1" y2="403.8"/>
<line x1="426.1" y1="399.3" x2="426.9" y2="399.3"/>
<line x1="425.1" y1="395.8" x2="425.1" y2="401.6"/>
<line x1="425.1" y1="401.6" x2="426.1" y2="401.6"/>
<line x1="424.3" y1="385.3" x2="424.3" y2="398.7"/>
<line x1="424.3" y1="385.3" x2="426.0" y2="385.3"/>
<line x1="424.3" y1="398.7" x2="425.1" y2="398.7"/>
<line x1="421.6" y1="360.7" x2="421.6" y2="392.0"/>
<line x1="421.6" y1="360.7" x2="423.3" y2="360.7"/>
<line x1="421.6" y1="392.0" x2="424.3" y2="392.0"/>
<line x1="428.7" y1="407.8" x2="428.7" y2="409.8"/>
<line x1="427.9" y1="405.8" x2="427.9" y2="408.8"/>
<line x1="427.9" y1="408.8" x2="428.7" y2="408.8"/>
<line x1="427.1" y1="407.3" x2="427.1" y2="411.8"/>
<line x1="427.1" y1="407.3" x2="427.9" y2="407.3"/>
<line x1="426.3" y1="409.6" x2="426.3" y2="413.8"/>
<line x1="426.3" y1="409.6" x2="427.1" y2="409.6"/>
<line x1="419.4" y1="376.3" x2="419.4" y2="411.7"/>
<line x1="419.4" y1="376.3" x2="421.6" y2="376.3"/>
<line x1="419.4" y1="411.7" x2="426.3" y2="411.7"/>
<line x1="426.9" y1="415.9" x2="426.9" y2="417.9"/>
<line x1="428.3" y1="421.9" x2="428.3" y2="423.9"/>
<line x1="428.3" y1="425.9" x2="428.3" y2="427.9"/>
<line x1="427.5" y1="422.9" x2="427.5" y2="426.9"/>
<line x1="427.5" y1="422.9" x2="428.3" y2="422.9"/>
<line x1="427.5" y1="426.9" x2="428.3" y2="426.9"/>
<line x1="426.7" y1="419.9" x2="426.7" y2="424.9"/>
<line x1="426.7" y1="424.9" x2="427.5" y2="424.9"/>
<line x1="425.9" y1="416.9" x2="425.9" y2="422.4"/>
<line x1="425.9" y1="416.9" x2="426.9" y2="416.9"/>
<line x1="425.9" y1="422.4" x2="426.7" y2="422.4"/>
<line x1="427.8" y1="431.9" x2="427.8" y2="433.9"/>
<line x1="427.0" y1="429.9" x2="427.0" y2="432.9"/>
<line x1="427.0" y1="432.9" x2="427.8" y2="432.9"/>
<line x1="429.5" y1="439.9" x2="429.5" y2="441.9"/>
<line x1="428.7" y1="437.9" x2="428.7" y2="440.9"/>
<line x1="429.5" y1="443.9" x2="429.5" y2="445.9"/>
<line x1="429.5" y1="447.9" x2="429.5" y2="450.0"/>
<line x1="428.7" y1="444.9" x2="428.7" y2="449.0"/>
<line x1="427.9" y1="439.4" x2="427.9" y2="446.9"/>
<line x1="427.9" y1="439.4" x2="428.7" y2="439.4"/>
<line x1="427.9" y1="446.9" x2="428.7" y2="446.9"/>
<line x1="427.9" y1="452.0" x2="427.9" y2="454.0"/>
<line x1="427.1" y1="443.2" x2="427.1" y2="453.0"/>
<line x1="427.1" y1="443.2" x2="427.9" y2="443.2"/>
<line x1="427.1" y1="453.0" x2="427.9" y2="453.0"/>
<line x1="426.3" y1="448.1" x2="426.3" y2="456.0"/>
<line x1="426.3" y1="448.1" x2="427.1" y2="448.1"/>
<line x1="425.5" y1="435.9" x2="425.5" y2="452.0"/>
<line x1="425.5" y1="452.0" x2="426.3" y2="452.0"/>
<line x1="424.7" y1="431.4" x2="424.7" y2="444.0"/>
<line x1="424.7" y1="431.4" x2="427.0" y2="431.4"/>
<line x1="424.7" y1="444.0" x2="425.5" y2="444.0"/>
<line x1="427.1" y1="458.0" x2="427.1" y2="460.0"/>
<line x1="423.9" y1="437.7" x2="423.9" y2="459.0"/>
<line x1="423.9" y1="437.7" x2="424.7" y2="437.7"/>
<line x1="423.9" y1="459.0" x2="427.1" y2="459.0"/>
<line x1="427.5" y1="462.0" x2="427.5" y2="464.0"/>
<line x1="428.7" y1="466.0" x2="428.7" y2="468.0"/>
<line x1="427.9" y1="467.0" x2="427.9" y2="470.0"/>
<line x1="427.9" y1="467.0" x2="428.7" y2="467.0"/>
<line x1="429.5" y1="472.0" x2="429.5" y2="474.0"/>
<line x1="428.7" y1="473.0" x2="428.7" y2="476.0"/>
<line x1="428.7" y1="478.0" x2="428.7" y2="480.0"/>
<line x1="427.9" y1="474.5" x2="427.9" y2="479.0"/>
<line x1="427.9" y1="474.5" x2="428.7" y2="474.5"/>
<line x1="427.9" y1="479.0" x2="428.7" y2="479.0"/>
<line x1="427.1" y1="468.5" x2="427.1" y2="476.8"/>
<line x1="427.1" y1="468.5" x2="427.9" y2="468.5"/>
<line x1="427.1" y1="476.8" x2="427.9" y2="476.8"/>
<line x1="427.7" y1="482.1" x2="427.7" y2="484.1"/>
<line x1="426.3" y1="472.6" x2="426.3" y2="483.1"/>
<line x1="426.3" y1="472.6" x2="427.1" y2="472.6"/>
<line x1="426.3" y1="483.1" x2="427.7" y2="483.1"/>
<line x1="427.1" y1="486.1" x2="427.1" y2="488.1"/>
<line x1="425.5" y1="477.9" x2="425.5" y2="487.1"/>
<line x1="425.5" y1="477.9" x2="426.3" y2="477.9"/>
<line x1="425.5" y1="487.1" x2="427.1" y2="487.1"/>
<line x1="424.7" y1="463.0" x2="424.7" y2="482.5"/>
<line x1="424.7" y1="463.0" x2="427.5" y2="463.0"/>
<line x1="424.7" y1="482.5" x2="425.5" y2="482.5"/>
<line x1="427.4" y1="490.1" x2="427.4" y2="492.1"/>
<line x1="423.7" y1="472.7" x2="423.7" y2="491.1"/>
<line x1="423.7" y1="472.7" x2="424.7" y2="472.7"/>
<line x1="423.7" y1="491.1" x2="427.4" y2="491.1"/>
<line x1="428.0" y1="494.1" x2="428.0" y2="496.1"/>
<line x1="427.2" y1="495.1" x2="427.2" y2="498.1"/>
<line x1="427.2" y1="495.1" x2="428.0" y2="495.1"/>
<line x1="427.4" y1="500.1" x2="427.4" y2="502.1"/>
<line x1="425.0" y1="496.6" x2="425.0" y2="501.1"/>
<line x1="425.0" y1="496.6" x2="427.2" y2="496.6"/>
<line x1="425.0" y1="501.1" x2="427.4" y2="501.1"/>
<line x1="422.9" y1="481.9" x2="422.9" y2="498.9"/>
<line x1="422.9" y1="481.9" x2="423.7" y2="481.9"/>
<line x1="422.9" y1="498.9" x2="425.0" y2="498.9"/>
<line x1="419.8" y1="448.3" x2="419.8" y2="490.4"/>
<line x1="419.8" y1="448.3" x2="423.9" y2="448.3"/>
<line x1="419.8" y1="490.4" x2="422.9" y2="490.4"/>
<line x1="419.0" y1="419.6" x2="419.0" y2="469.4"/>
<line x1="419.0" y1="419.6" x2="425.9" y2="419.6"/>
<line x1="419.0" y1="469.4" x2="419.8" y2="469.4"/>
<line x1="427.2" y1="504.1" x2="427.2" y2="506.1"/>
<line x1="427.0" y1="508.1" x2="427.0" y2="510.1"/>
<line x1="426.2" y1="505.1" x2="426.2" y2="509.1"/>
<line x1="426.2" y1="505.1" x2="427.2" y2="505.1"/>
<line x1="426.2" y1="509.1" x2="427.0" y2="509.1"/>
<line x1="427.1" y1="512.1" x2="427.1" y2="514.1"/>
<line x1="430.3" y1="522.2" x2="430.3" y2="524.2"/>
<line x1="429.5" y1="520.2" x2="429.5" y2="523.2"/>
<line x1="428.7" y1="518.2" x2="428.7" y2="521.7"/>
<line x1="427.9" y1="516.2" x2="427.9" y2="519.9"/>
<line x1="427.9" y1="519.9" x2="428.7" y2="519.9"/>
<line x1="427.1" y1="518.0" x2="427.1" y2="526.2"/>
<line x1="427.1" y1="518.0" x2="427.9" y2="518.0"/>
<line x1="426.3" y1="513.1" x2="426.3" y2="522.1"/>
<line x1="426.3" y1="513.1" x2="427.1" y2="513.1"/>
<line x1="426.3" y1="522.1" x2="427.1" y2="522.1"/>
<line x1="425.5" y1="517.6" x2="425.5" y2="528.2"/>
<line x1="425.5" y1="517.6" x2="426.3" y2="517.6"/>
<line x1="424.4" y1="522.9" x2="424.4" y2="530.2"/>
<line x1="424.4" y1="522.9" x2="425.5" y2="522.9"/>
<line x1="421.8" y1="507.1" x2="421.8" y2="526.6"/>
<line x1="421.8" y1="507.1" x2="426.2" y2="507.1"/>
<line x1="421.8" y1="526.6" x2="424.4" y2="526.6"/>
<line x1="417.3" y1="444.5" x2="417.3" y2="516.8"/>
<line x1="417.3" y1="444.5" x2="419.0" y2="444.5"/>
<line x1="417.3" y1="516.8" x2="421.8" y2="516.8"/>
<line x1="415.1" y1="394.0" x2="415.1" y2="480.7"/>
<line x1="415.1" y1="394.0" x2="419.4" y2="394.0"/>
<line x1="415.1" y1="480.7" x2="417.3" y2="480.7"/>
<line x1="404.8" y1="308.7" x2="404.8" y2="437.3"/>
<line x1="404.8" y1="308.7" x2="418.4" y2="308.7"/>
<line x1="404.8" y1="437.3" x2="415.1" y2="437.3"/>
</g>
<g stroke="#4a4a4a" stroke-width="0.8" fill="none">
<line x1="426.8" y1="299.5" x2="429.3" y2="299.5"/>
<line x1="426.8" y1="301.5" x2="429.3" y2="301.5"/>
<line x1="427.3" y1="303.5" x2="429.3" y2="303.5"/>
<line x1="427.3" y1="305.5" x2="429.3" y2="305.5"/>
<line x1="427.2" y1="309.5" x2="429.3" y2="309.5"/>
<line x1="427.2" y1="311.5" x2="429.3" y2="311.5"/>
<line x1="426.4" y1="313.5" x2="429.3" y2="313.5"/>
<line x1="428.7" y1="317.6" x2="429.3" y2="317.6"/>
<line x1="428.7" y1="319.6" x2="429.3" y2="319.6"/>
<line x1="427.9" y1="315.6" x2="429.3" y2="315.6"/>
<line x1="427.1" y1="321.6" x2="429.3" y2="321.6"/>
<line x1="428.6" y1="327.6" x2="429.3" y2="327.6"/>
<line x1="428.6" y1="329.6" x2="429.3" y2="329.6"/>
<line x1="427.8" y1="325.6" x2="429.3" y2="325.6"/>
<line x1="428.6" y1="331.6" x2="429.3" y2="331.6"/>
<line x1="428.6" y1="333.6" x2="429.3" y2="333.6"/>
<line x1="429.4" y1="337.6" x2="429.3" y2="337.6"/>
<line x1="429.4" y1="339.6" x2="429.3" y2="339.6"/>
<line x1="428.6" y1="335.6" x2="429.3" y2="335.6"/>
<line x1="428.6" y1="338.6" x2="429.4" y2="338.6"/>
<line x1="426.2" y1="323.6" x2="429.3" y2="323.6"/>
<line x1="423.8" y1="307.5" x2="429.3" y2="307.5"/>
<line x1="427.9" y1="345.6" x2="429.3" y2="345.6"/>
<line x1="427.9" y1="347.6" x2="429.3" y2="347.6"/>
<line x1="427.1" y1="343.6" x2="429.3" y2="343.6"/>
<line x1="426.1" y1="349.7" x2="429.3" y2="349.7"/>
<line x1="427.6" y1="353.7" x2="429.3" y2="353.7"/>
<line x1="427.6" y1="355.7" x2="429.3" y2="355.7"/>
<line x1="426.8" y1="351.7" x2="429.3" y2="351.7"/>
<line x1="424.5" y1="341.6" x2="429.3" y2="341.6"/>
<line x1="427.8" y1="361.7" x2="429.3" y2="361.7"/>
<line x1="427.8" y1="363.7" x2="429.3" y2="363.7"/>
<line x1="428.3" y1="367.7" x2="429.3" y2="367.7"/>
<line x1="428.3" y1="369.7" x2="429.3" y2="369.7"/>
<line x1="428.3" y1="371.7" x2="429.3" y2="371.7"/>
<line x1="428.3" y1="373.7" x2="429.3" y2="373.7"/>
<line x1="426.7" y1="365.7" x2="429.3" y2="365.7"/>
<line x1="427.7" y1="377.7" x2="429.3" y2="377.7"/>
<line x1="427.7" y1="379.7" x2="429.3" y2="379.7"/>
<line x1="426.7" y1="375.7" x2="429.3" y2="375.7"/>
<line x1="424.3" y1="359.7" x2="429.3" y2="359.7"/>
<line x1="423.3" y1="357.7" x2="429.3" y2="357.7"/>
<line x1="428.4" y1="383.8" x2="429.3" y2="383.8"/>
<line x1="428.4" y1="385.8" x2="429.3" y2="385.8"/>
<line x1="427.6" y1="387.8" x2="429.3" y2="387.8"/>
<line x1="428.4" y1="391.8" x2="429.3" y2="391.8"/>
<line x1="428.4" y1="393.8" x2="429.3" y2="393.8"/>
<line x1="427.6" y1="389.8" x2="429.3" y2="389.8"/>
<line x1="426.0" y1="381.8" x2="429.3" y2="381.8"/>
<line x1="427.7" y1="399.8" x2="429.3" y2="399.8"/>
<line x1="427.7" y1="401.8" x2="429.3" y2="401.8"/>
<line x1="426.9" y1="397.8" x2="429.3" y2="397.8"/>
<line x1="426.1" y1="403.8" x2="429.3" y2="403.8"/>
<line x1="425.1" y1="395.8" x2="429.3" y2="395.8"/>
<line x1="428.7" y1="407.8" x2="429.3" y2="407.8"/>
<line x1="428.7" y1="409.8" x2="429.3" y2="409.8"/>
<line x1="427.9" y1="405.8" x2="429.3" y2="405.8"/>
<line x1="427.1" y1="411.8" x2="429.3" y2="411.8"/>
<line x1="426.3" y1="413.8" x2="429.3" y2="413.8"/>
<line x1="426.9" y1="415.9" x2="429.3" y2="415.9"/>
<line x1="426.9" y1="417.9" x2="429.3" y2="417.9"/>
<line x1="428.3" y1="421.9" x2="429.3" y2="421.9"/>
<line x1="428.3" y1="423.9" x2="429.3" y2="423.9"/>
<line x1="428.3" y1="425.9" x2="429.3" y2="425.9"/>
<line x1="428.3" y1="427.9" x2="429.3" y2="427.9"/>
<line x1="426.7" y1="419.9" x2="429.3" y2="419.9"/>
<line x1="427.8" y1="431.9" x2="429.3" y2="431.9"/>
<line x1="427.8" y1="433.9" x2="429.3" y2="433.9"/>
<line x1="427.0" y1="429.9" x2="429.3" y2="429.9"/>
<line x1="429.5" y1="439.9" x2="429.3" y2="439.9"/>
<line x1="429.5" y1="441.9" x2="429.3" y2="441.9"/>
<line x1="428.7" y1="437.9" x2="429.3" y2="437.9"/>
<line x1="428.7" y1="440.9" x2="429.5" y2="440.9"/>
<line x1="429.5" y1="443.9" x2="429.3" y2="443.9"/>
<line x1="429.5" y1="445.9" x2="429.3" y2="445.9"/>
<line x1="429.5" y1="447.9" x2="429.3" y2="447.9"/>
<line x1="429.5" y1="450.0" x2="429.3" y2="450.0"/>
<line x1="428.7" y1="444.9" x2="429.5" y2="444.9"/>
<line x1="428.7" y1="449.0" x2="429.5" y2="449.0"/>
<line x1="427.9" y1="452.0" x2="429.3" y2="452.0"/>
<line x1="427.9" y1="454.0" x2="429.3" y2="454.0"/>
<line x1="426.3" y1="456.0" x2="429.3" y2="456.0"/>
<line x1="425.5" y1="435.9" x2="429.3" y2="435.9"/>
<line x1="427.1" y1="458.0" x2="429.3" y2="458.0"/>
<line x1="427.1" y1="460.0" x2="429.3" y2="460.0"/>
<line x1="427.5" y1="462.0" x2="429.3" y2="462.0"/>
<line x1="427.5" y1="464.0" x2="429.3" y2="464.0"/>
<line x1="428.7" y1="466.0" x2="429.3" y2="466.0"/>
<line x1="428.7" y1="468.0" x2="429.3" y2="468.0"/>
<line x1="427.9" y1="470.0" x2="429.3" y2="470.0"/>
<line x1="429.5" y1="472.0" x2="429.3" y2="472.0"/>
<line x1="429.5" y1="474.0" x2="429.3" y2="474.0"/>
<line x1="428.7" y1="473.0" x2="429.5" y2="473.0"/>
<line x1="428.7" y1="476.0" x2="429.3" y2="476.0"/>
<line x1="428.7" y1="478.0" x2="429.3" y2="478.0"/>
<line x1="428.7" y1="480.0" x2="429.3" y2="480.0"/>
<line x1="427.7" y1="482.1" x2="429.3" y2="482.1"/>
<line x1="427.7" y1="484.1" x2="429.3" y2="484.1"/>
<line x1="427.1" y1="486.1" x2="429.3" y2="486.1"/>
<line x1="427.1" y1="488.1" x2="429.3" y2="488.1"/>
<line x1="427.4" y1="490.1" x2="429.3" y2="490.1"/>
<line x1="427.4" y1="492.1" x2="429.3" y2="492.1"/>
<line x1="428.0" y1="494.1" x2="429.3" y2="494.1"/>
<line x1="428.0" y1="496.1" x2="429.3" y2="496.1"/>
<line x1="427.2" y1="498.1" x2="429.3" y2="498.1"/>
<line x1="427.4" y1="500.1" x2="429.3" y2="500.1"/>
<line x1="427.4" y1="502.1" x2="429.3" y2="502.1"/>
<line x1="427.2" y1="504.1" x2="429.3" y2="504.1"/>
<line x1="427.2" y1="506.1" x2="429.3" y2="506.1"/>
<line x1="427.0" y1="508.1" x2="429.3" y2="508.1"/>
<line x1="427.0" y1="510.1" x2="429.3" y2="510.1"/>
<line x1="427.1" y1="512.1" x2="429.3" y2="512.1"/>
<line x1="427.1" y1="514.1" x2="429.3" y2="514.1"/>
<line x1="430.3" y1="522.2" x2="429.3" y2="522.2"/>
<line x1="430.3" y1="524.2" x2="429.3" y2="524.2"/>
<line x1="429.5" y1="520.2" x2="429.3" y2="520.2"/>
<line x1="429.5" y1="523.2" x2="430.3" y2="523.2"/>
<line x1="428.7" y1="518.2" x2="429.3" y2="518.2"/>
<line x1="428.7" y1="521.7" x2="429.5" y2="521.7"/>
<line x1="427.9" y1="516.2" x2="429.3" y2="516.2"/>
<line x1="427.1" y1="526.2" x2="429.3" y2="526.2"/>
<line x1="425.5" y1="528.2" x2="429.3" y2="528.2"/>
<line x1="424.4" y1="530.2" x2="429.3" y2="530.2"/>
</g>
<text x="7.4" y="540.3" font-size="12.5" font-weight="bold" fill="#231f20" stroke="#231f20" stroke-width="0.22">E</text>
<text x="13.5" y="569.0" font-size="10.5" textLength="68.5" lengthAdjust="spacingAndGlyphs" fill="#231f20" stroke="#231f20" stroke-width="0.25">Megakaryocyte</text>
<text x="109.5" y="554.2" font-size="9" textLength="60" lengthAdjust="spacingAndGlyphs" fill="#231f20" stroke="#231f20" stroke-width="0.25">mRNA retention</text>
<text x="144.5" y="600.2" font-size="9" textLength="52.5" lengthAdjust="spacingAndGlyphs" fill="#231f20" stroke="#231f20" stroke-width="0.25">mRNA sorting</text>
<text x="150" y="644.0" font-size="9" textLength="43" lengthAdjust="spacingAndGlyphs" font-style="italic" fill="#231f20" stroke="#231f20" stroke-width="0.25">natural loss</text>
<text x="155" y="653.2" font-size="9" textLength="33" lengthAdjust="spacingAndGlyphs" font-style="italic" fill="#231f20" stroke="#231f20" stroke-width="0.25">of PELO</text>
<text x="270.8" y="575.4" font-size="10.5" textLength="99" lengthAdjust="spacingAndGlyphs" fill="#231f20" stroke="#231f20" stroke-width="0.25">Platelet transcriptome</text>
<text x="304.4" y="613.4" font-size="9" textLength="36.4" lengthAdjust="spacingAndGlyphs" fill="#231f20" stroke="#231f20" stroke-width="0.25">regulated</text>
<text x="297.7" y="622.4" font-size="9" textLength="49.8" lengthAdjust="spacingAndGlyphs" fill="#231f20" stroke="#231f20" stroke-width="0.25">mRNA decay</text>
<defs>
<radialGradient id="nuc" cx="50%" cy="45%" r="55%">
<stop offset="0" stop-color="#e0dbf2"/><stop offset="0.7" stop-color="#d6cfef"/><stop offset="0.9" stop-color="#c2b5e4"/><stop offset="1" stop-color="#a996d8"/>
</radialGradient>
</defs>
<path d="M11.6,622.5 C11,606 20,590 35,581 C44,576.5 51,573.6 58.5,573.6 C65,573.6 70,577.4 78,578.2 C88,579 96,578.8 104,582.5 C110,585.5 114,589.5 118.5,595.5 C124,603 129,615 130.9,626 C131.8,633 130,640 126.5,646 C122,653.5 114,662.5 104.5,670.5 C98,675 94,676.2 88,677 C75,679.5 60,679 45,672.4 C30,665 18,652 14.6,642 C12.4,635 11.7,628 11.6,622.5 Z" fill="#ddd7a8" stroke="#a09a36" stroke-width="1.5"/>
<ellipse cx="27.5" cy="611.7" rx="8.0" ry="15.0" transform="rotate(8 27.5 611.7)" fill="url(#nuc)" stroke="#4e3384" stroke-width="1.35"/>
<ellipse cx="43.4" cy="617.7" rx="10.2" ry="13.4" transform="rotate(-5 43.4 617.7)" fill="url(#nuc)" stroke="#4e3384" stroke-width="1.35"/>
<ellipse cx="48.0" cy="600.1" rx="10.6" ry="13.6" transform="rotate(5 48.0 600.1)" fill="url(#nuc)" stroke="#4e3384" stroke-width="1.35"/>
<ellipse cx="56.3" cy="641.2" rx="9.4" ry="12.6" transform="rotate(-15 56.3 641.2)" fill="url(#nuc)" stroke="#4e3384" stroke-width="1.35"/>
<ellipse cx="64.7" cy="625.8" rx="10.3" ry="15.8" transform="rotate(-12 64.7 625.8)" fill="url(#nuc)" stroke="#4e3384" stroke-width="1.35"/>
<ellipse cx="38.75" cy="644.9" rx="11.4" ry="14.6" transform="rotate(-5 38.75 644.9)" fill="url(#nuc)" stroke="#4e3384" stroke-width="1.35"/>
<g fill="#1e1a2a">
<circle cx="43.7" cy="607.6" r="1.3"/>
<circle cx="34.3" cy="613.8" r="1.3"/>
<circle cx="32.3" cy="620.6" r="1.3"/>
<circle cx="72.8" cy="630.5" r="1.3"/>
<circle cx="64.5" cy="642.9" r="1.3"/>
<circle cx="29.8" cy="647.8" r="1.3"/>
</g>
<rect x="77.4" y="597.7" width="42.5" height="49.9" fill="none" stroke="#857a58" stroke-width="0.9" stroke-dasharray="0.9,1"/>
<polyline points="70.90,590.90 71.31,591.40 71.69,591.59 72.03,591.34 72.35,590.78 72.67,590.23 73.01,589.98 73.39,590.17 73.80,590.67 74.21,591.17 74.59,591.36 74.93,591.11 75.25,590.55 75.57,589.99 75.91,589.74 76.29,589.93 76.70,590.43 77.11,590.93 77.49,591.12 77.83,590.87 78.15,590.32 78.47,589.76 78.81,589.51 79.19,589.70 79.60,590.20" fill="none" stroke="#d4808e" stroke-width="0.85" stroke-linejoin="round"/>
<polyline points="78.90,585.00 79.53,585.44 80.10,585.57 80.62,585.27 81.08,584.67 81.55,584.06 82.06,583.76 82.64,583.89 83.27,584.33 83.89,584.77 84.47,584.91 84.98,584.61 85.45,584.00 85.92,583.39 86.43,583.09 87.01,583.23 87.63,583.67 88.26,584.11 88.84,584.24 89.35,583.94 89.82,583.33 90.28,582.73 90.80,582.43 91.37,582.56 92.00,583.00" fill="none" stroke="#b9b05a" stroke-width="0.85" stroke-linejoin="round"/>
<polyline points="94.90,612.70 95.50,613.17 96.07,613.33 96.59,613.05 97.08,612.47 97.57,611.88 98.10,611.60 98.66,611.76 99.27,612.23 99.87,612.70 100.44,612.86 100.96,612.59 101.45,612.00 101.94,611.41 102.46,611.14 103.03,611.30 103.63,611.77 104.24,612.24 104.80,612.40 105.33,612.12 105.82,611.53 106.31,610.95 106.83,610.67 107.40,610.83 108.00,611.30" fill="none" stroke="#b9b05a" stroke-width="0.85" stroke-linejoin="round"/>
<polyline points="103.60,619.30 104.23,619.76 104.83,619.92 105.38,619.64 105.90,619.05 106.42,618.46 106.97,618.18 107.57,618.34 108.20,618.80 108.83,619.26 109.43,619.42 109.98,619.14 110.50,618.55 111.02,617.96 111.57,617.68 112.17,617.84 112.80,618.30 113.43,618.76 114.03,618.92 114.58,618.64 115.10,618.05 115.62,617.46 116.17,617.18 116.77,617.34 117.40,617.80" fill="none" stroke="#b9b05a" stroke-width="0.85" stroke-linejoin="round"/>
<polyline points="102.20,628.70 102.81,629.13 103.36,629.25 103.83,628.95 104.25,628.33 104.67,627.72 105.14,627.41 105.69,627.54 106.30,627.97 106.91,628.40 107.46,628.52 107.93,628.21 108.35,627.60 108.77,626.99 109.24,626.68 109.79,626.80 110.40,627.23 111.01,627.66 111.56,627.79 112.03,627.48 112.45,626.87 112.87,626.25 113.34,625.95 113.89,626.07 114.50,626.50" fill="none" stroke="#d4808e" stroke-width="0.85" stroke-linejoin="round"/>
<polyline points="96.40,641.00 97.00,641.47 97.56,641.63 98.08,641.35 98.57,640.77 99.05,640.18 99.57,639.90 100.13,640.06 100.73,640.53 101.33,641.00 101.90,641.16 102.42,640.89 102.90,640.30 103.38,639.71 103.90,639.44 104.47,639.60 105.07,640.07 105.67,640.54 106.23,640.70 106.75,640.42 107.23,639.83 107.72,639.25 108.24,638.97 108.80,639.13 109.40,639.60" fill="none" stroke="#b9b05a" stroke-width="0.85" stroke-linejoin="round"/>
<polyline points="73.00,662.90 73.61,663.36 74.18,663.52 74.71,663.24 75.20,662.65 75.69,662.06 76.22,661.78 76.79,661.94 77.40,662.40 78.01,662.86 78.58,663.02 79.11,662.74 79.60,662.15 80.09,661.56 80.62,661.28 81.19,661.44 81.80,661.90 82.41,662.36 82.98,662.52 83.51,662.24 84.00,661.65 84.49,661.06 85.02,660.78 85.59,660.94 86.20,661.40" fill="none" stroke="#d4808e" stroke-width="0.85" stroke-linejoin="round"/>
<line x1="86.5" y1="605.1" x2="98.5" y2="604.3000000000001" stroke="#9ab0b8" stroke-width="0.7"/>
<circle cx="90.5" cy="604.7" r="2.7" fill="#7c8292" stroke="#5e5e62" stroke-width="0.5"/>
<line x1="89.2" y1="625.1999999999999" x2="101.2" y2="624.4" stroke="#d58a94" stroke-width="0.7"/>
<circle cx="93.2" cy="624.8" r="2.7" fill="#857484" stroke="#5e5e62" stroke-width="0.5"/>
<line x1="66.2" y1="653.8" x2="78.2" y2="653.0" stroke="#d58a94" stroke-width="0.7"/>
<circle cx="70.2" cy="653.4" r="2.7" fill="#857484" stroke="#5e5e62" stroke-width="0.5"/>
<line x1="88.3" y1="656.0" x2="100.3" y2="655.2" stroke="#9ab0b8" stroke-width="0.7"/>
<circle cx="92.3" cy="655.6" r="2.7" fill="#7c8292" stroke="#5e5e62" stroke-width="0.5"/>
<ellipse cx="66.5" cy="590.2" rx="2.1" ry="1.7" fill="#6f6c72"/>
<ellipse cx="68" cy="593.8" rx="2.1" ry="1.7" fill="#6f6c72"/>
<ellipse cx="83.3" cy="619" rx="2.1" ry="1.7" fill="#6f6c72"/>
<ellipse cx="86.2" cy="635.3" rx="2.1" ry="1.7" fill="#6f6c72"/>
<ellipse cx="88.4" cy="639.6" rx="2.1" ry="1.7" fill="#6f6c72"/>
<ellipse cx="98.5" cy="634.5" rx="2.1" ry="1.7" fill="#6f6c72"/>
<ellipse cx="100.2" cy="635.5" rx="2.1" ry="1.7" fill="#6f6c72"/>
<ellipse cx="62.9" cy="661.4" rx="2.1" ry="1.7" fill="#6f6c72"/>
<ellipse cx="64.4" cy="666.5" rx="2.1" ry="1.7" fill="#6f6c72"/>
<defs><marker id="ah" viewBox="0 0 10 10" refX="8" refY="5" markerWidth="4.6" markerHeight="4.6" orient="auto-start-reverse"><path d="M0,0 L10,5 L0,10 z" fill="#1a1a1a"/></marker></defs>
<path d="M131.2,560.2 C124,559.5 116.5,564.5 113,571.6" fill="none" stroke="#1a1a1a" stroke-width="1.1" marker-end="url(#ah)"/>
<path d="M126.9,585.8 C133,581 136.5,574 135.5,564.6" fill="none" stroke="#1a1a1a" stroke-width="1.1" marker-end="url(#ah)"/>
<path d="M158.1,611.5 C162,604.5 172,603 179.5,608.6" fill="none" stroke="#1a1a1a" stroke-width="1.1" marker-end="url(#ah)"/>
<line x1="159.6" y1="629.2" x2="178.5" y2="629.2" stroke="#1a1a1a" stroke-width="1.1" marker-end="url(#ah)"/>
<line x1="312" y1="628.2" x2="330.5" y2="628.2" stroke="#1a1a1a" stroke-width="1.1" marker-end="url(#ah)"/>
<circle cx="247.6" cy="626.2" r="28.4" fill="#e6e0c0" stroke="#a89f7c" stroke-width="1.1"/>
<line x1="239.5" y1="608.9" x2="251.5" y2="608.1" stroke="#9ab0b8" stroke-width="0.7"/>
<circle cx="243.5" cy="608.5" r="2.7" fill="#7c8292" stroke="#5e5e62" stroke-width="0.5"/>
<line x1="240.5" y1="629.4" x2="252.5" y2="628.6" stroke="#d58a94" stroke-width="0.7"/>
<circle cx="244.5" cy="629" r="2.7" fill="#857484" stroke="#5e5e62" stroke-width="0.5"/>
<ellipse cx="235.2" cy="622.5" rx="2.1" ry="1.7" fill="#6f6c72"/>
<ellipse cx="238.5" cy="640" rx="2.1" ry="1.7" fill="#6f6c72"/>
<ellipse cx="241" cy="646" rx="2.1" ry="1.7" fill="#6f6c72"/>
<ellipse cx="251.5" cy="638.5" rx="2.1" ry="1.7" fill="#6f6c72"/>
<polyline points="247.00,615.80 247.68,616.26 248.33,616.41 248.93,616.13 249.50,615.53 250.07,614.94 250.67,614.65 251.32,614.81 252.00,615.27 252.68,615.73 253.33,615.88 253.93,615.59 254.50,615.00 255.07,614.41 255.67,614.12 256.32,614.27 257.00,614.73 257.68,615.19 258.33,615.35 258.93,615.06 259.50,614.47 260.07,613.87 260.67,613.59 261.32,613.74 262.00,614.20" fill="none" stroke="#d4808e" stroke-width="0.85" stroke-linejoin="round"/>
<polyline points="253.00,632.50 253.60,632.96 254.17,633.12 254.69,632.84 255.17,632.25 255.65,631.66 256.16,631.38 256.73,631.54 257.33,632.00 257.94,632.46 258.50,632.62 259.02,632.34 259.50,631.75 259.98,631.16 260.50,630.88 261.06,631.04 261.67,631.50 262.27,631.96 262.84,632.12 263.35,631.84 263.83,631.25 264.31,630.66 264.83,630.38 265.40,630.54 266.00,631.00" fill="none" stroke="#d4808e" stroke-width="0.85" stroke-linejoin="round"/>
<polyline points="248.00,646.00 248.62,646.49 249.22,646.66 249.79,646.40 250.33,645.83 250.88,645.26 251.45,645.00 252.05,645.18 252.67,645.67 253.29,646.15 253.89,646.33 254.45,646.07 255.00,645.50 255.55,644.93 256.11,644.67 256.71,644.85 257.33,645.33 257.95,645.82 258.55,646.00 259.12,645.74 259.67,645.17 260.21,644.60 260.78,644.34 261.38,644.51 262.00,645.00" fill="none" stroke="#b9b05a" stroke-width="0.85" stroke-linejoin="round"/>
<circle cx="378.8" cy="623.9" r="21.7" fill="#e6e0c0" stroke="#a89f7c" stroke-width="1.1"/>
<line x1="369.5" y1="609.9" x2="381.5" y2="609.1" stroke="#9ab0b8" stroke-width="0.7"/>
<circle cx="373.5" cy="609.5" r="2.7" fill="#7c8292" stroke="#5e5e62" stroke-width="0.5"/>
<line x1="371.6" y1="630.4" x2="383.6" y2="629.6" stroke="#d58a94" stroke-width="0.7"/>
<circle cx="375.6" cy="630" r="2.7" fill="#857484" stroke="#5e5e62" stroke-width="0.5"/>
<ellipse cx="366.5" cy="624" rx="2.1" ry="1.7" fill="#6f6c72"/>
<ellipse cx="382.5" cy="639" rx="2.1" ry="1.7" fill="#6f6c72"/>
</svg>
<div id="frame"></div>
</body></html>
